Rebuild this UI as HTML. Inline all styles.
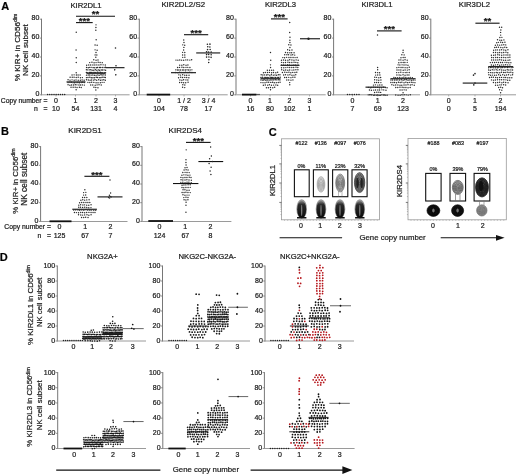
<!DOCTYPE html>
<html><head><meta charset="utf-8"><style>
html,body{margin:0;padding:0;background:#fff;}
svg{display:block;font-family:"Liberation Sans", sans-serif;filter:blur(0.3px);}
text{stroke:#222;stroke-width:0.22px;}
</style></head><body>
<svg width="520" height="474" viewBox="0 0 520 474">
<defs><linearGradient id="gblob" x1="0" y1="0" x2="0" y2="1"><stop offset="0" stop-color="#888"/><stop offset="0.22" stop-color="#2a2a2a"/><stop offset="1" stop-color="#0a0a0a"/></linearGradient></defs>
<rect width="520" height="474" fill="#fff"/>
<text x="5.2" y="9.96" font-size="11" text-anchor="middle" font-weight="bold" fill="#000">A</text>
<line x1="41.5" y1="95.3" x2="41.5" y2="18.7" stroke="#777" stroke-width="1"/>
<line x1="39.7" y1="94.8" x2="41.5" y2="94.8" stroke="#777" stroke-width="0.8"/>
<text x="39.3" y="95.92" font-size="7" text-anchor="end" font-weight="normal" fill="#1a1a1a">0</text>
<line x1="39.7" y1="75.9" x2="41.5" y2="75.9" stroke="#777" stroke-width="0.8"/>
<text x="39.3" y="77.02" font-size="7" text-anchor="end" font-weight="normal" fill="#1a1a1a">20</text>
<line x1="39.7" y1="57" x2="41.5" y2="57" stroke="#777" stroke-width="0.8"/>
<text x="39.3" y="58.12" font-size="7" text-anchor="end" font-weight="normal" fill="#1a1a1a">40</text>
<line x1="39.7" y1="38.1" x2="41.5" y2="38.1" stroke="#777" stroke-width="0.8"/>
<text x="39.3" y="39.22" font-size="7" text-anchor="end" font-weight="normal" fill="#1a1a1a">60</text>
<line x1="39.7" y1="19.2" x2="41.5" y2="19.2" stroke="#777" stroke-width="0.8"/>
<text x="39.3" y="20.32" font-size="7" text-anchor="end" font-weight="normal" fill="#1a1a1a">80</text>
<line x1="139.3" y1="95.3" x2="139.3" y2="18.7" stroke="#777" stroke-width="1"/>
<line x1="137.5" y1="94.8" x2="139.3" y2="94.8" stroke="#777" stroke-width="0.8"/>
<text x="137.1" y="95.92" font-size="7" text-anchor="end" font-weight="normal" fill="#1a1a1a">0</text>
<line x1="137.5" y1="75.9" x2="139.3" y2="75.9" stroke="#777" stroke-width="0.8"/>
<text x="137.1" y="77.02" font-size="7" text-anchor="end" font-weight="normal" fill="#1a1a1a">20</text>
<line x1="137.5" y1="57" x2="139.3" y2="57" stroke="#777" stroke-width="0.8"/>
<text x="137.1" y="58.12" font-size="7" text-anchor="end" font-weight="normal" fill="#1a1a1a">40</text>
<line x1="137.5" y1="38.1" x2="139.3" y2="38.1" stroke="#777" stroke-width="0.8"/>
<text x="137.1" y="39.22" font-size="7" text-anchor="end" font-weight="normal" fill="#1a1a1a">60</text>
<line x1="137.5" y1="19.2" x2="139.3" y2="19.2" stroke="#777" stroke-width="0.8"/>
<text x="137.1" y="20.32" font-size="7" text-anchor="end" font-weight="normal" fill="#1a1a1a">80</text>
<line x1="236" y1="95.3" x2="236" y2="18.7" stroke="#777" stroke-width="1"/>
<line x1="234.2" y1="94.8" x2="236" y2="94.8" stroke="#777" stroke-width="0.8"/>
<text x="233.8" y="95.92" font-size="7" text-anchor="end" font-weight="normal" fill="#1a1a1a">0</text>
<line x1="234.2" y1="75.9" x2="236" y2="75.9" stroke="#777" stroke-width="0.8"/>
<text x="233.8" y="77.02" font-size="7" text-anchor="end" font-weight="normal" fill="#1a1a1a">20</text>
<line x1="234.2" y1="57" x2="236" y2="57" stroke="#777" stroke-width="0.8"/>
<text x="233.8" y="58.12" font-size="7" text-anchor="end" font-weight="normal" fill="#1a1a1a">40</text>
<line x1="234.2" y1="38.1" x2="236" y2="38.1" stroke="#777" stroke-width="0.8"/>
<text x="233.8" y="39.22" font-size="7" text-anchor="end" font-weight="normal" fill="#1a1a1a">60</text>
<line x1="234.2" y1="19.2" x2="236" y2="19.2" stroke="#777" stroke-width="0.8"/>
<text x="233.8" y="20.32" font-size="7" text-anchor="end" font-weight="normal" fill="#1a1a1a">80</text>
<line x1="333.6" y1="95.3" x2="333.6" y2="18.7" stroke="#777" stroke-width="1"/>
<line x1="331.8" y1="94.8" x2="333.6" y2="94.8" stroke="#777" stroke-width="0.8"/>
<text x="331.4" y="95.92" font-size="7" text-anchor="end" font-weight="normal" fill="#1a1a1a">0</text>
<line x1="331.8" y1="75.9" x2="333.6" y2="75.9" stroke="#777" stroke-width="0.8"/>
<text x="331.4" y="77.02" font-size="7" text-anchor="end" font-weight="normal" fill="#1a1a1a">20</text>
<line x1="331.8" y1="57" x2="333.6" y2="57" stroke="#777" stroke-width="0.8"/>
<text x="331.4" y="58.12" font-size="7" text-anchor="end" font-weight="normal" fill="#1a1a1a">40</text>
<line x1="331.8" y1="38.1" x2="333.6" y2="38.1" stroke="#777" stroke-width="0.8"/>
<text x="331.4" y="39.22" font-size="7" text-anchor="end" font-weight="normal" fill="#1a1a1a">60</text>
<line x1="331.8" y1="19.2" x2="333.6" y2="19.2" stroke="#777" stroke-width="0.8"/>
<text x="331.4" y="20.32" font-size="7" text-anchor="end" font-weight="normal" fill="#1a1a1a">80</text>
<line x1="430.8" y1="95.3" x2="430.8" y2="18.7" stroke="#777" stroke-width="1"/>
<line x1="429" y1="94.8" x2="430.8" y2="94.8" stroke="#777" stroke-width="0.8"/>
<text x="428.6" y="95.92" font-size="7" text-anchor="end" font-weight="normal" fill="#1a1a1a">0</text>
<line x1="429" y1="75.9" x2="430.8" y2="75.9" stroke="#777" stroke-width="0.8"/>
<text x="428.6" y="77.02" font-size="7" text-anchor="end" font-weight="normal" fill="#1a1a1a">20</text>
<line x1="429" y1="57" x2="430.8" y2="57" stroke="#777" stroke-width="0.8"/>
<text x="428.6" y="58.12" font-size="7" text-anchor="end" font-weight="normal" fill="#1a1a1a">40</text>
<line x1="429" y1="38.1" x2="430.8" y2="38.1" stroke="#777" stroke-width="0.8"/>
<text x="428.6" y="39.22" font-size="7" text-anchor="end" font-weight="normal" fill="#1a1a1a">60</text>
<line x1="429" y1="19.2" x2="430.8" y2="19.2" stroke="#777" stroke-width="0.8"/>
<text x="428.6" y="20.32" font-size="7" text-anchor="end" font-weight="normal" fill="#1a1a1a">80</text>
<line x1="41.5" y1="94.8" x2="129.6" y2="94.8" stroke="#9a9a9a" stroke-width="1"/>
<line x1="56" y1="94.8" x2="56" y2="96.4" stroke="#9a9a9a" stroke-width="0.8"/>
<line x1="75.5" y1="94.8" x2="75.5" y2="96.4" stroke="#9a9a9a" stroke-width="0.8"/>
<line x1="96" y1="94.8" x2="96" y2="96.4" stroke="#9a9a9a" stroke-width="0.8"/>
<line x1="115.5" y1="94.8" x2="115.5" y2="96.4" stroke="#9a9a9a" stroke-width="0.8"/>
<line x1="139.6" y1="94.8" x2="227.7" y2="94.8" stroke="#9a9a9a" stroke-width="1"/>
<line x1="159" y1="94.8" x2="159" y2="96.4" stroke="#9a9a9a" stroke-width="0.8"/>
<line x1="184" y1="94.8" x2="184" y2="96.4" stroke="#9a9a9a" stroke-width="0.8"/>
<line x1="208.5" y1="94.8" x2="208.5" y2="96.4" stroke="#9a9a9a" stroke-width="0.8"/>
<line x1="236.6" y1="94.8" x2="325.7" y2="94.8" stroke="#9a9a9a" stroke-width="1"/>
<line x1="250.5" y1="94.8" x2="250.5" y2="96.4" stroke="#9a9a9a" stroke-width="0.8"/>
<line x1="270" y1="94.8" x2="270" y2="96.4" stroke="#9a9a9a" stroke-width="0.8"/>
<line x1="289.5" y1="94.8" x2="289.5" y2="96.4" stroke="#9a9a9a" stroke-width="0.8"/>
<line x1="309.5" y1="94.8" x2="309.5" y2="96.4" stroke="#9a9a9a" stroke-width="0.8"/>
<line x1="333.6" y1="94.8" x2="420" y2="94.8" stroke="#9a9a9a" stroke-width="1"/>
<line x1="352.5" y1="94.8" x2="352.5" y2="96.4" stroke="#9a9a9a" stroke-width="0.8"/>
<line x1="377.7" y1="94.8" x2="377.7" y2="96.4" stroke="#9a9a9a" stroke-width="0.8"/>
<line x1="403" y1="94.8" x2="403" y2="96.4" stroke="#9a9a9a" stroke-width="0.8"/>
<line x1="430.8" y1="94.8" x2="516" y2="94.8" stroke="#9a9a9a" stroke-width="1"/>
<line x1="448.7" y1="94.8" x2="448.7" y2="96.4" stroke="#9a9a9a" stroke-width="0.8"/>
<line x1="475" y1="94.8" x2="475" y2="96.4" stroke="#9a9a9a" stroke-width="0.8"/>
<line x1="500.5" y1="94.8" x2="500.5" y2="96.4" stroke="#9a9a9a" stroke-width="0.8"/>
<text x="86" y="7.87" font-size="7.7" text-anchor="middle" font-weight="normal" fill="#1a1a1a">KIR2DL1</text>
<text x="183.2" y="7.13" font-size="7.85" text-anchor="middle" font-weight="normal" fill="#1a1a1a">KIR2DL2/S2</text>
<text x="280.5" y="6.97" font-size="7.7" text-anchor="middle" font-weight="normal" fill="#1a1a1a">KIR2DL3</text>
<text x="377" y="6.97" font-size="7.7" text-anchor="middle" font-weight="normal" fill="#1a1a1a">KIR3DL1</text>
<text x="474.4" y="7.47" font-size="7.7" text-anchor="middle" font-weight="normal" fill="#1a1a1a">KIR3DL2</text>
<text x="17.3" y="50.42" font-size="8.1" text-anchor="middle" font-weight="normal" fill="#1a1a1a" transform="rotate(-90 17.3 47.5)">% KIR+ in  CD56<tspan font-size="5.2" dy="-2.8">dim</tspan></text>
<text x="24.6" y="53.02" font-size="8.1" text-anchor="middle" font-weight="normal" fill="#1a1a1a" transform="rotate(-90 24.6 50.1)">NK cell subset</text>
<text x="47.5" y="103.05" font-size="6.8" text-anchor="end" font-weight="normal" fill="#1a1a1a">Copy number =</text>
<text x="47.5" y="110.85" font-size="6.8" text-anchor="end" font-weight="normal" fill="#1a1a1a">n&#160;&#160;&#160;=</text>
<text x="56" y="103.12" font-size="7" text-anchor="middle" font-weight="normal" fill="#1a1a1a">0</text>
<text x="75.5" y="103.12" font-size="7" text-anchor="middle" font-weight="normal" fill="#1a1a1a">1</text>
<text x="96" y="103.12" font-size="7" text-anchor="middle" font-weight="normal" fill="#1a1a1a">2</text>
<text x="115.5" y="103.12" font-size="7" text-anchor="middle" font-weight="normal" fill="#1a1a1a">3</text>
<text x="56" y="110.92" font-size="7" text-anchor="middle" font-weight="normal" fill="#1a1a1a">10</text>
<text x="75.5" y="110.92" font-size="7" text-anchor="middle" font-weight="normal" fill="#1a1a1a">54</text>
<text x="96" y="110.92" font-size="7" text-anchor="middle" font-weight="normal" fill="#1a1a1a">131</text>
<text x="115.5" y="110.92" font-size="7" text-anchor="middle" font-weight="normal" fill="#1a1a1a">4</text>
<text x="159" y="103.12" font-size="7" text-anchor="middle" font-weight="normal" fill="#1a1a1a">0</text>
<text x="184" y="103.12" font-size="7" text-anchor="middle" font-weight="normal" fill="#1a1a1a">1 / 2</text>
<text x="208.5" y="103.12" font-size="7" text-anchor="middle" font-weight="normal" fill="#1a1a1a">3 / 4</text>
<text x="159" y="110.92" font-size="7" text-anchor="middle" font-weight="normal" fill="#1a1a1a">104</text>
<text x="184" y="110.92" font-size="7" text-anchor="middle" font-weight="normal" fill="#1a1a1a">78</text>
<text x="208.5" y="110.92" font-size="7" text-anchor="middle" font-weight="normal" fill="#1a1a1a">17</text>
<text x="250.5" y="103.12" font-size="7" text-anchor="middle" font-weight="normal" fill="#1a1a1a">0</text>
<text x="270" y="103.12" font-size="7" text-anchor="middle" font-weight="normal" fill="#1a1a1a">1</text>
<text x="289.5" y="103.12" font-size="7" text-anchor="middle" font-weight="normal" fill="#1a1a1a">2</text>
<text x="309.5" y="103.12" font-size="7" text-anchor="middle" font-weight="normal" fill="#1a1a1a">3</text>
<text x="250.5" y="110.92" font-size="7" text-anchor="middle" font-weight="normal" fill="#1a1a1a">16</text>
<text x="270" y="110.92" font-size="7" text-anchor="middle" font-weight="normal" fill="#1a1a1a">80</text>
<text x="289.5" y="110.92" font-size="7" text-anchor="middle" font-weight="normal" fill="#1a1a1a">102</text>
<text x="309.5" y="110.92" font-size="7" text-anchor="middle" font-weight="normal" fill="#1a1a1a">1</text>
<text x="352.5" y="103.12" font-size="7" text-anchor="middle" font-weight="normal" fill="#1a1a1a">0</text>
<text x="377.7" y="103.12" font-size="7" text-anchor="middle" font-weight="normal" fill="#1a1a1a">1</text>
<text x="403" y="103.12" font-size="7" text-anchor="middle" font-weight="normal" fill="#1a1a1a">2</text>
<text x="352.5" y="110.92" font-size="7" text-anchor="middle" font-weight="normal" fill="#1a1a1a">7</text>
<text x="377.7" y="110.92" font-size="7" text-anchor="middle" font-weight="normal" fill="#1a1a1a">69</text>
<text x="403" y="110.92" font-size="7" text-anchor="middle" font-weight="normal" fill="#1a1a1a">123</text>
<text x="448.7" y="103.12" font-size="7" text-anchor="middle" font-weight="normal" fill="#1a1a1a">0</text>
<text x="475" y="103.12" font-size="7" text-anchor="middle" font-weight="normal" fill="#1a1a1a">1</text>
<text x="500.5" y="103.12" font-size="7" text-anchor="middle" font-weight="normal" fill="#1a1a1a">2</text>
<text x="448.7" y="110.92" font-size="7" text-anchor="middle" font-weight="normal" fill="#1a1a1a">0</text>
<text x="475" y="110.92" font-size="7" text-anchor="middle" font-weight="normal" fill="#1a1a1a">5</text>
<text x="500.5" y="110.92" font-size="7" text-anchor="middle" font-weight="normal" fill="#1a1a1a">194</text>
<line x1="66.5" y1="81.95" x2="85.5" y2="81.95" stroke="#111" stroke-width="1.1"/>
<line x1="86.5" y1="73.25" x2="105.5" y2="73.25" stroke="#111" stroke-width="1.1"/>
<line x1="105.5" y1="67.68" x2="124.5" y2="67.68" stroke="#111" stroke-width="1.1"/>
<line x1="76" y1="16.2" x2="115" y2="16.2" stroke="#111" stroke-width="1.1"/>
<text x="95.5" y="17.4" font-size="9.6" text-anchor="middle" font-weight="bold" fill="#111">**</text>
<line x1="76" y1="22.6" x2="92.7" y2="22.6" stroke="#111" stroke-width="1.1"/>
<text x="84.35" y="23.8" font-size="9.6" text-anchor="middle" font-weight="bold" fill="#111">***</text>
<line x1="146.7" y1="94.6" x2="170.2" y2="94.6" stroke="#111" stroke-width="1.8"/>
<line x1="171" y1="72.69" x2="196" y2="72.69" stroke="#111" stroke-width="1.1"/>
<line x1="196.2" y1="52.94" x2="220.2" y2="52.94" stroke="#111" stroke-width="1.1"/>
<line x1="184" y1="34.7" x2="208.2" y2="34.7" stroke="#111" stroke-width="1.1"/>
<text x="196.1" y="35.9" font-size="9.6" text-anchor="middle" font-weight="bold" fill="#111">***</text>
<line x1="242" y1="94.6" x2="256.3" y2="94.6" stroke="#111" stroke-width="1.8"/>
<line x1="260.5" y1="78.73" x2="280.5" y2="78.73" stroke="#111" stroke-width="1.1"/>
<line x1="280.5" y1="65.32" x2="299.5" y2="65.32" stroke="#111" stroke-width="1.1"/>
<line x1="300" y1="38.76" x2="320" y2="38.76" stroke="#111" stroke-width="1.1"/>
<line x1="271" y1="18.9" x2="287.6" y2="18.9" stroke="#111" stroke-width="1.1"/>
<text x="279.3" y="20.1" font-size="9.6" text-anchor="middle" font-weight="bold" fill="#111">***</text>
<line x1="365.5" y1="87.15" x2="385.5" y2="87.15" stroke="#111" stroke-width="1.1"/>
<line x1="390.4" y1="78.73" x2="415.6" y2="78.73" stroke="#111" stroke-width="1.1"/>
<line x1="377" y1="30.9" x2="401.6" y2="30.9" stroke="#111" stroke-width="1.1"/>
<text x="389.3" y="32.1" font-size="9.6" text-anchor="middle" font-weight="bold" fill="#111">***</text>
<line x1="462.7" y1="83.08" x2="487.3" y2="83.08" stroke="#111" stroke-width="1.1"/>
<line x1="488.2" y1="66.64" x2="513.2" y2="66.64" stroke="#111" stroke-width="1.1"/>
<line x1="475.4" y1="23.2" x2="499.6" y2="23.2" stroke="#111" stroke-width="1.1"/>
<text x="487.5" y="24.4" font-size="9.6" text-anchor="middle" font-weight="bold" fill="#111">**</text>
<text x="5" y="135.36" font-size="11" text-anchor="middle" font-weight="bold" fill="#000">B</text>
<line x1="40.6" y1="221.9" x2="40.6" y2="146.1" stroke="#777" stroke-width="1"/>
<line x1="38.8" y1="221.4" x2="40.6" y2="221.4" stroke="#777" stroke-width="0.8"/>
<text x="38.4" y="222.52" font-size="7" text-anchor="end" font-weight="normal" fill="#1a1a1a">0</text>
<line x1="38.8" y1="202.7" x2="40.6" y2="202.7" stroke="#777" stroke-width="0.8"/>
<text x="38.4" y="203.82" font-size="7" text-anchor="end" font-weight="normal" fill="#1a1a1a">20</text>
<line x1="38.8" y1="184" x2="40.6" y2="184" stroke="#777" stroke-width="0.8"/>
<text x="38.4" y="185.12" font-size="7" text-anchor="end" font-weight="normal" fill="#1a1a1a">40</text>
<line x1="38.8" y1="165.3" x2="40.6" y2="165.3" stroke="#777" stroke-width="0.8"/>
<text x="38.4" y="166.42" font-size="7" text-anchor="end" font-weight="normal" fill="#1a1a1a">60</text>
<line x1="38.8" y1="146.6" x2="40.6" y2="146.6" stroke="#777" stroke-width="0.8"/>
<text x="38.4" y="147.72" font-size="7" text-anchor="end" font-weight="normal" fill="#1a1a1a">80</text>
<line x1="142" y1="221.9" x2="142" y2="146.1" stroke="#777" stroke-width="1"/>
<line x1="140.2" y1="221.4" x2="142" y2="221.4" stroke="#777" stroke-width="0.8"/>
<text x="139.8" y="222.52" font-size="7" text-anchor="end" font-weight="normal" fill="#1a1a1a">0</text>
<line x1="140.2" y1="202.7" x2="142" y2="202.7" stroke="#777" stroke-width="0.8"/>
<text x="139.8" y="203.82" font-size="7" text-anchor="end" font-weight="normal" fill="#1a1a1a">20</text>
<line x1="140.2" y1="184" x2="142" y2="184" stroke="#777" stroke-width="0.8"/>
<text x="139.8" y="185.12" font-size="7" text-anchor="end" font-weight="normal" fill="#1a1a1a">40</text>
<line x1="140.2" y1="165.3" x2="142" y2="165.3" stroke="#777" stroke-width="0.8"/>
<text x="139.8" y="166.42" font-size="7" text-anchor="end" font-weight="normal" fill="#1a1a1a">60</text>
<line x1="140.2" y1="146.6" x2="142" y2="146.6" stroke="#777" stroke-width="0.8"/>
<text x="139.8" y="147.72" font-size="7" text-anchor="end" font-weight="normal" fill="#1a1a1a">80</text>
<line x1="40.6" y1="221.5" x2="127.5" y2="221.5" stroke="#9a9a9a" stroke-width="1"/>
<line x1="142" y1="221.5" x2="231.4" y2="221.5" stroke="#9a9a9a" stroke-width="1"/>
<text x="85" y="133.48" font-size="8.0" text-anchor="middle" font-weight="normal" fill="#1a1a1a">KIR2DS1</text>
<text x="185.3" y="133.48" font-size="8.0" text-anchor="middle" font-weight="normal" fill="#1a1a1a">KIR2DS4</text>
<text x="14.8" y="183.91" font-size="7.8" text-anchor="middle" font-weight="normal" fill="#1a1a1a" transform="rotate(-90 14.8 181.1)">% KIR+ in  CD56<tspan font-size="5.1" dy="-2.7">dim</tspan></text>
<text x="23.6" y="182.19" font-size="8.3" text-anchor="middle" font-weight="normal" fill="#1a1a1a" transform="rotate(-90 23.6 179.2)">NK cell subset</text>
<text x="51" y="229.35" font-size="6.8" text-anchor="end" font-weight="normal" fill="#1a1a1a">Copy number =</text>
<text x="51" y="237.75" font-size="6.8" text-anchor="end" font-weight="normal" fill="#1a1a1a">n&#160;&#160;&#160;=</text>
<text x="59.5" y="229.42" font-size="7" text-anchor="middle" font-weight="normal" fill="#1a1a1a">0</text>
<text x="85.1" y="229.42" font-size="7" text-anchor="middle" font-weight="normal" fill="#1a1a1a">1</text>
<text x="110.4" y="229.42" font-size="7" text-anchor="middle" font-weight="normal" fill="#1a1a1a">2</text>
<text x="59.5" y="237.82" font-size="7" text-anchor="middle" font-weight="normal" fill="#1a1a1a">125</text>
<text x="85.1" y="237.82" font-size="7" text-anchor="middle" font-weight="normal" fill="#1a1a1a">67</text>
<text x="110.4" y="237.82" font-size="7" text-anchor="middle" font-weight="normal" fill="#1a1a1a">7</text>
<text x="159.5" y="229.42" font-size="7" text-anchor="middle" font-weight="normal" fill="#1a1a1a">0</text>
<text x="185.3" y="229.42" font-size="7" text-anchor="middle" font-weight="normal" fill="#1a1a1a">1</text>
<text x="210.4" y="229.42" font-size="7" text-anchor="middle" font-weight="normal" fill="#1a1a1a">2</text>
<text x="159.5" y="237.82" font-size="7" text-anchor="middle" font-weight="normal" fill="#1a1a1a">124</text>
<text x="185.3" y="237.82" font-size="7" text-anchor="middle" font-weight="normal" fill="#1a1a1a">67</text>
<text x="210.4" y="237.82" font-size="7" text-anchor="middle" font-weight="normal" fill="#1a1a1a">8</text>
<line x1="49.5" y1="221.3" x2="71.5" y2="221.3" stroke="#111" stroke-width="1.8"/>
<line x1="72.3" y1="209.25" x2="96.9" y2="209.25" stroke="#111" stroke-width="1.1"/>
<line x1="97.5" y1="196.9" x2="122.5" y2="196.9" stroke="#111" stroke-width="1.1"/>
<line x1="84.4" y1="176.3" x2="109.4" y2="176.3" stroke="#111" stroke-width="1.1"/>
<text x="96.9" y="177.5" font-size="9.6" text-anchor="middle" font-weight="bold" fill="#111">***</text>
<line x1="148.3" y1="221" x2="173" y2="221" stroke="#111" stroke-width="1.8"/>
<line x1="173" y1="183.53" x2="198.4" y2="183.53" stroke="#111" stroke-width="1.1"/>
<line x1="198.4" y1="161.56" x2="223.2" y2="161.56" stroke="#111" stroke-width="1.1"/>
<line x1="186" y1="142.4" x2="210.6" y2="142.4" stroke="#111" stroke-width="1.1"/>
<text x="198.3" y="143.6" font-size="9.6" text-anchor="middle" font-weight="bold" fill="#111">***</text>
<text x="272.8" y="135.56" font-size="11" text-anchor="middle" font-weight="bold" fill="#000">C</text>
<rect x="281.5" y="138.8" width="98" height="81" fill="none" stroke="#9a9a9a" stroke-width="0.8"/>
<line x1="279.3" y1="145.4" x2="281.5" y2="145.4" stroke="#555" stroke-width="0.8"/>
<line x1="279.3" y1="163.9" x2="281.5" y2="163.9" stroke="#555" stroke-width="0.8"/>
<line x1="279.3" y1="183" x2="281.5" y2="183" stroke="#555" stroke-width="0.8"/>
<line x1="279.3" y1="202.4" x2="281.5" y2="202.4" stroke="#555" stroke-width="0.8"/>
<line x1="280.4" y1="158.33" x2="281.5" y2="158.33" stroke="#888" stroke-width="0.5"/>
<line x1="280.4" y1="155.07" x2="281.5" y2="155.07" stroke="#888" stroke-width="0.5"/>
<line x1="280.4" y1="152.76" x2="281.5" y2="152.76" stroke="#888" stroke-width="0.5"/>
<line x1="280.4" y1="150.97" x2="281.5" y2="150.97" stroke="#888" stroke-width="0.5"/>
<line x1="280.4" y1="149.5" x2="281.5" y2="149.5" stroke="#888" stroke-width="0.5"/>
<line x1="280.4" y1="148.27" x2="281.5" y2="148.27" stroke="#888" stroke-width="0.5"/>
<line x1="280.4" y1="147.19" x2="281.5" y2="147.19" stroke="#888" stroke-width="0.5"/>
<line x1="280.4" y1="146.25" x2="281.5" y2="146.25" stroke="#888" stroke-width="0.5"/>
<line x1="280.4" y1="177.25" x2="281.5" y2="177.25" stroke="#888" stroke-width="0.5"/>
<line x1="280.4" y1="173.89" x2="281.5" y2="173.89" stroke="#888" stroke-width="0.5"/>
<line x1="280.4" y1="171.5" x2="281.5" y2="171.5" stroke="#888" stroke-width="0.5"/>
<line x1="280.4" y1="169.65" x2="281.5" y2="169.65" stroke="#888" stroke-width="0.5"/>
<line x1="280.4" y1="168.14" x2="281.5" y2="168.14" stroke="#888" stroke-width="0.5"/>
<line x1="280.4" y1="166.86" x2="281.5" y2="166.86" stroke="#888" stroke-width="0.5"/>
<line x1="280.4" y1="165.75" x2="281.5" y2="165.75" stroke="#888" stroke-width="0.5"/>
<line x1="280.4" y1="164.77" x2="281.5" y2="164.77" stroke="#888" stroke-width="0.5"/>
<line x1="280.4" y1="196.56" x2="281.5" y2="196.56" stroke="#888" stroke-width="0.5"/>
<line x1="280.4" y1="193.14" x2="281.5" y2="193.14" stroke="#888" stroke-width="0.5"/>
<line x1="280.4" y1="190.72" x2="281.5" y2="190.72" stroke="#888" stroke-width="0.5"/>
<line x1="280.4" y1="188.84" x2="281.5" y2="188.84" stroke="#888" stroke-width="0.5"/>
<line x1="280.4" y1="187.3" x2="281.5" y2="187.3" stroke="#888" stroke-width="0.5"/>
<line x1="280.4" y1="186.01" x2="281.5" y2="186.01" stroke="#888" stroke-width="0.5"/>
<line x1="280.4" y1="184.88" x2="281.5" y2="184.88" stroke="#888" stroke-width="0.5"/>
<line x1="280.4" y1="183.89" x2="281.5" y2="183.89" stroke="#888" stroke-width="0.5"/>
<line x1="280.4" y1="214.56" x2="281.5" y2="214.56" stroke="#888" stroke-width="0.5"/>
<line x1="280.4" y1="211.5" x2="281.5" y2="211.5" stroke="#888" stroke-width="0.5"/>
<line x1="280.4" y1="209.32" x2="281.5" y2="209.32" stroke="#888" stroke-width="0.5"/>
<line x1="280.4" y1="207.64" x2="281.5" y2="207.64" stroke="#888" stroke-width="0.5"/>
<line x1="280.4" y1="206.26" x2="281.5" y2="206.26" stroke="#888" stroke-width="0.5"/>
<line x1="280.4" y1="205.1" x2="281.5" y2="205.1" stroke="#888" stroke-width="0.5"/>
<line x1="280.4" y1="204.09" x2="281.5" y2="204.09" stroke="#888" stroke-width="0.5"/>
<line x1="280.4" y1="203.2" x2="281.5" y2="203.2" stroke="#888" stroke-width="0.5"/>
<line x1="284.5" y1="219.8" x2="284.5" y2="220.8" stroke="#888" stroke-width="0.5"/>
<line x1="287.7" y1="219.8" x2="287.7" y2="220.8" stroke="#888" stroke-width="0.5"/>
<line x1="290.9" y1="219.8" x2="290.9" y2="220.8" stroke="#888" stroke-width="0.5"/>
<line x1="294.1" y1="219.8" x2="294.1" y2="220.8" stroke="#888" stroke-width="0.5"/>
<line x1="297.3" y1="219.8" x2="297.3" y2="220.8" stroke="#888" stroke-width="0.5"/>
<line x1="300.5" y1="219.8" x2="300.5" y2="220.8" stroke="#888" stroke-width="0.5"/>
<line x1="303.7" y1="219.8" x2="303.7" y2="220.8" stroke="#888" stroke-width="0.5"/>
<line x1="306.9" y1="219.8" x2="306.9" y2="220.8" stroke="#888" stroke-width="0.5"/>
<line x1="310.1" y1="219.8" x2="310.1" y2="220.8" stroke="#888" stroke-width="0.5"/>
<line x1="313.3" y1="219.8" x2="313.3" y2="220.8" stroke="#888" stroke-width="0.5"/>
<line x1="316.5" y1="219.8" x2="316.5" y2="220.8" stroke="#888" stroke-width="0.5"/>
<line x1="319.7" y1="219.8" x2="319.7" y2="220.8" stroke="#888" stroke-width="0.5"/>
<line x1="322.9" y1="219.8" x2="322.9" y2="220.8" stroke="#888" stroke-width="0.5"/>
<line x1="326.1" y1="219.8" x2="326.1" y2="220.8" stroke="#888" stroke-width="0.5"/>
<line x1="329.3" y1="219.8" x2="329.3" y2="220.8" stroke="#888" stroke-width="0.5"/>
<line x1="332.5" y1="219.8" x2="332.5" y2="220.8" stroke="#888" stroke-width="0.5"/>
<line x1="335.7" y1="219.8" x2="335.7" y2="220.8" stroke="#888" stroke-width="0.5"/>
<line x1="338.9" y1="219.8" x2="338.9" y2="220.8" stroke="#888" stroke-width="0.5"/>
<line x1="342.1" y1="219.8" x2="342.1" y2="220.8" stroke="#888" stroke-width="0.5"/>
<line x1="345.3" y1="219.8" x2="345.3" y2="220.8" stroke="#888" stroke-width="0.5"/>
<line x1="348.5" y1="219.8" x2="348.5" y2="220.8" stroke="#888" stroke-width="0.5"/>
<line x1="351.7" y1="219.8" x2="351.7" y2="220.8" stroke="#888" stroke-width="0.5"/>
<line x1="354.9" y1="219.8" x2="354.9" y2="220.8" stroke="#888" stroke-width="0.5"/>
<line x1="358.1" y1="219.8" x2="358.1" y2="220.8" stroke="#888" stroke-width="0.5"/>
<line x1="361.3" y1="219.8" x2="361.3" y2="220.8" stroke="#888" stroke-width="0.5"/>
<line x1="364.5" y1="219.8" x2="364.5" y2="220.8" stroke="#888" stroke-width="0.5"/>
<line x1="367.7" y1="219.8" x2="367.7" y2="220.8" stroke="#888" stroke-width="0.5"/>
<line x1="370.9" y1="219.8" x2="370.9" y2="220.8" stroke="#888" stroke-width="0.5"/>
<line x1="374.1" y1="219.8" x2="374.1" y2="220.8" stroke="#888" stroke-width="0.5"/>
<line x1="377.3" y1="219.8" x2="377.3" y2="220.8" stroke="#888" stroke-width="0.5"/>
<rect x="294.4" y="169.8" width="14.8" height="26.9" fill="none" stroke="#111" stroke-width="1.1"/>
<rect x="313.4" y="169.8" width="14.9" height="26.9" fill="none" stroke="#111" stroke-width="1.1"/>
<rect x="332.6" y="169.8" width="15.2" height="26.9" fill="none" stroke="#111" stroke-width="1.1"/>
<rect x="352" y="169.8" width="15.1" height="26.9" fill="none" stroke="#111" stroke-width="1.1"/>
<text x="301.5" y="145.34" font-size="5.4" text-anchor="middle" font-weight="normal" fill="#1a1a1a">#122</text>
<text x="301.5" y="167.54" font-size="5.4" text-anchor="middle" font-weight="normal" fill="#1a1a1a">0%</text>
<text x="320.8" y="145.34" font-size="5.4" text-anchor="middle" font-weight="normal" fill="#1a1a1a">#136</text>
<text x="320.8" y="167.54" font-size="5.4" text-anchor="middle" font-weight="normal" fill="#1a1a1a">11%</text>
<text x="340.2" y="145.34" font-size="5.4" text-anchor="middle" font-weight="normal" fill="#1a1a1a">#097</text>
<text x="340.2" y="167.54" font-size="5.4" text-anchor="middle" font-weight="normal" fill="#1a1a1a">23%</text>
<text x="359.7" y="145.34" font-size="5.4" text-anchor="middle" font-weight="normal" fill="#1a1a1a">#076</text>
<text x="359.7" y="167.54" font-size="5.4" text-anchor="middle" font-weight="normal" fill="#1a1a1a">32%</text>
<ellipse cx="301.7" cy="208.9" rx="5.3" ry="9.7" fill="#9a9a9a"/>
<ellipse cx="301.7" cy="209.5" rx="4.5" ry="8.7" fill="url(#gblob)"/>
<ellipse cx="301.7" cy="210.4" rx="0.6" ry="5.7" fill="#8a8a8a"/>
<rect x="297" y="217" width="9.4" height="1.5" fill="#111"/>
<ellipse cx="321" cy="208.9" rx="5.3" ry="9.7" fill="#9a9a9a"/>
<ellipse cx="321" cy="209.5" rx="4.5" ry="8.7" fill="url(#gblob)"/>
<ellipse cx="321" cy="210.4" rx="0.6" ry="5.7" fill="#8a8a8a"/>
<rect x="316.3" y="217" width="9.4" height="1.5" fill="#111"/>
<ellipse cx="340" cy="208.9" rx="5.3" ry="9.7" fill="#9a9a9a"/>
<ellipse cx="340" cy="209.5" rx="4.5" ry="8.7" fill="url(#gblob)"/>
<ellipse cx="340" cy="210.4" rx="0.6" ry="5.7" fill="#8a8a8a"/>
<rect x="335.3" y="217" width="9.4" height="1.5" fill="#111"/>
<ellipse cx="359.8" cy="208.9" rx="5.3" ry="9.7" fill="#9a9a9a"/>
<ellipse cx="359.8" cy="209.5" rx="4.5" ry="8.7" fill="url(#gblob)"/>
<ellipse cx="359.8" cy="210.4" rx="0.6" ry="5.7" fill="#8a8a8a"/>
<rect x="355.1" y="217" width="9.4" height="1.5" fill="#111"/>
<ellipse cx="321" cy="184.4" rx="3.9" ry="7.8" fill="#e2e2e2"/>
<ellipse cx="321" cy="184.4" rx="3.9" ry="7.8" fill="none" stroke="#888" stroke-width="0.5"/>
<ellipse cx="321" cy="184.52" rx="3.28" ry="6.55" fill="none" stroke="#888" stroke-width="0.5"/>
<ellipse cx="321" cy="184.65" rx="2.65" ry="5.3" fill="none" stroke="#888" stroke-width="0.5"/>
<ellipse cx="321" cy="184.77" rx="2.03" ry="4.06" fill="none" stroke="#888" stroke-width="0.5"/>
<ellipse cx="321" cy="184.9" rx="1.4" ry="2.81" fill="none" stroke="#888" stroke-width="0.5"/>
<ellipse cx="321" cy="185.02" rx="0.78" ry="1.56" fill="none" stroke="#888" stroke-width="0.5"/>
<ellipse cx="340.2" cy="183" rx="4.5" ry="9" fill="#c8c8c8"/>
<ellipse cx="340.2" cy="183" rx="4.5" ry="9" fill="none" stroke="#555" stroke-width="0.55"/>
<ellipse cx="340.2" cy="183.13" rx="3.86" ry="7.73" fill="none" stroke="#555" stroke-width="0.55"/>
<ellipse cx="340.2" cy="183.25" rx="3.23" ry="6.45" fill="none" stroke="#555" stroke-width="0.55"/>
<ellipse cx="340.2" cy="183.38" rx="2.59" ry="5.17" fill="none" stroke="#555" stroke-width="0.55"/>
<ellipse cx="340.2" cy="183.51" rx="1.95" ry="3.9" fill="none" stroke="#555" stroke-width="0.55"/>
<ellipse cx="340.2" cy="183.64" rx="1.31" ry="2.62" fill="none" stroke="#555" stroke-width="0.55"/>
<ellipse cx="340.2" cy="183.76" rx="0.68" ry="1.35" fill="none" stroke="#555" stroke-width="0.55"/>
<path d="M338.5 191 L338.5 196.5 M342 191 L342 196.5" stroke="#777" stroke-width="0.5"/>
<ellipse cx="359.6" cy="182.6" rx="5.2" ry="10" fill="#9a9a9a"/>
<ellipse cx="359.6" cy="182.6" rx="5.2" ry="10" fill="none" stroke="#222" stroke-width="0.6"/>
<ellipse cx="359.6" cy="182.73" rx="4.55" ry="8.74" fill="none" stroke="#222" stroke-width="0.6"/>
<ellipse cx="359.6" cy="182.85" rx="3.89" ry="7.49" fill="none" stroke="#222" stroke-width="0.6"/>
<ellipse cx="359.6" cy="182.98" rx="3.24" ry="6.23" fill="none" stroke="#222" stroke-width="0.6"/>
<ellipse cx="359.6" cy="183.1" rx="2.59" ry="4.97" fill="none" stroke="#222" stroke-width="0.6"/>
<ellipse cx="359.6" cy="183.23" rx="1.93" ry="3.71" fill="none" stroke="#222" stroke-width="0.6"/>
<ellipse cx="359.6" cy="183.35" rx="1.28" ry="2.46" fill="none" stroke="#222" stroke-width="0.6"/>
<ellipse cx="359.6" cy="183.48" rx="0.62" ry="1.2" fill="none" stroke="#222" stroke-width="0.6"/>
<ellipse cx="357.6" cy="183" rx="1.1" ry="5" fill="#222"/><ellipse cx="361.6" cy="183" rx="1.1" ry="5" fill="#222"/>
<text x="272" y="183.27" font-size="7.7" text-anchor="middle" font-weight="normal" fill="#1a1a1a" transform="rotate(-90 272 180.5)">KIR2DL1</text>
<text x="301" y="228.32" font-size="7" text-anchor="middle" font-weight="normal" fill="#1a1a1a">0</text>
<text x="320.3" y="228.32" font-size="7" text-anchor="middle" font-weight="normal" fill="#1a1a1a">1</text>
<text x="339.8" y="228.32" font-size="7" text-anchor="middle" font-weight="normal" fill="#1a1a1a">2</text>
<text x="360" y="228.32" font-size="7" text-anchor="middle" font-weight="normal" fill="#1a1a1a">3</text>
<rect x="408" y="138.4" width="98.3" height="81.4" fill="none" stroke="#9a9a9a" stroke-width="0.8"/>
<line x1="405.8" y1="145.4" x2="408" y2="145.4" stroke="#555" stroke-width="0.8"/>
<line x1="405.8" y1="163.9" x2="408" y2="163.9" stroke="#555" stroke-width="0.8"/>
<line x1="405.8" y1="183" x2="408" y2="183" stroke="#555" stroke-width="0.8"/>
<line x1="405.8" y1="202.4" x2="408" y2="202.4" stroke="#555" stroke-width="0.8"/>
<line x1="406.9" y1="158.33" x2="408" y2="158.33" stroke="#888" stroke-width="0.5"/>
<line x1="406.9" y1="155.07" x2="408" y2="155.07" stroke="#888" stroke-width="0.5"/>
<line x1="406.9" y1="152.76" x2="408" y2="152.76" stroke="#888" stroke-width="0.5"/>
<line x1="406.9" y1="150.97" x2="408" y2="150.97" stroke="#888" stroke-width="0.5"/>
<line x1="406.9" y1="149.5" x2="408" y2="149.5" stroke="#888" stroke-width="0.5"/>
<line x1="406.9" y1="148.27" x2="408" y2="148.27" stroke="#888" stroke-width="0.5"/>
<line x1="406.9" y1="147.19" x2="408" y2="147.19" stroke="#888" stroke-width="0.5"/>
<line x1="406.9" y1="146.25" x2="408" y2="146.25" stroke="#888" stroke-width="0.5"/>
<line x1="406.9" y1="177.25" x2="408" y2="177.25" stroke="#888" stroke-width="0.5"/>
<line x1="406.9" y1="173.89" x2="408" y2="173.89" stroke="#888" stroke-width="0.5"/>
<line x1="406.9" y1="171.5" x2="408" y2="171.5" stroke="#888" stroke-width="0.5"/>
<line x1="406.9" y1="169.65" x2="408" y2="169.65" stroke="#888" stroke-width="0.5"/>
<line x1="406.9" y1="168.14" x2="408" y2="168.14" stroke="#888" stroke-width="0.5"/>
<line x1="406.9" y1="166.86" x2="408" y2="166.86" stroke="#888" stroke-width="0.5"/>
<line x1="406.9" y1="165.75" x2="408" y2="165.75" stroke="#888" stroke-width="0.5"/>
<line x1="406.9" y1="164.77" x2="408" y2="164.77" stroke="#888" stroke-width="0.5"/>
<line x1="406.9" y1="196.56" x2="408" y2="196.56" stroke="#888" stroke-width="0.5"/>
<line x1="406.9" y1="193.14" x2="408" y2="193.14" stroke="#888" stroke-width="0.5"/>
<line x1="406.9" y1="190.72" x2="408" y2="190.72" stroke="#888" stroke-width="0.5"/>
<line x1="406.9" y1="188.84" x2="408" y2="188.84" stroke="#888" stroke-width="0.5"/>
<line x1="406.9" y1="187.3" x2="408" y2="187.3" stroke="#888" stroke-width="0.5"/>
<line x1="406.9" y1="186.01" x2="408" y2="186.01" stroke="#888" stroke-width="0.5"/>
<line x1="406.9" y1="184.88" x2="408" y2="184.88" stroke="#888" stroke-width="0.5"/>
<line x1="406.9" y1="183.89" x2="408" y2="183.89" stroke="#888" stroke-width="0.5"/>
<line x1="406.9" y1="214.56" x2="408" y2="214.56" stroke="#888" stroke-width="0.5"/>
<line x1="406.9" y1="211.5" x2="408" y2="211.5" stroke="#888" stroke-width="0.5"/>
<line x1="406.9" y1="209.32" x2="408" y2="209.32" stroke="#888" stroke-width="0.5"/>
<line x1="406.9" y1="207.64" x2="408" y2="207.64" stroke="#888" stroke-width="0.5"/>
<line x1="406.9" y1="206.26" x2="408" y2="206.26" stroke="#888" stroke-width="0.5"/>
<line x1="406.9" y1="205.1" x2="408" y2="205.1" stroke="#888" stroke-width="0.5"/>
<line x1="406.9" y1="204.09" x2="408" y2="204.09" stroke="#888" stroke-width="0.5"/>
<line x1="406.9" y1="203.2" x2="408" y2="203.2" stroke="#888" stroke-width="0.5"/>
<line x1="411" y1="219.8" x2="411" y2="220.8" stroke="#888" stroke-width="0.5"/>
<line x1="414.2" y1="219.8" x2="414.2" y2="220.8" stroke="#888" stroke-width="0.5"/>
<line x1="417.4" y1="219.8" x2="417.4" y2="220.8" stroke="#888" stroke-width="0.5"/>
<line x1="420.6" y1="219.8" x2="420.6" y2="220.8" stroke="#888" stroke-width="0.5"/>
<line x1="423.8" y1="219.8" x2="423.8" y2="220.8" stroke="#888" stroke-width="0.5"/>
<line x1="427" y1="219.8" x2="427" y2="220.8" stroke="#888" stroke-width="0.5"/>
<line x1="430.2" y1="219.8" x2="430.2" y2="220.8" stroke="#888" stroke-width="0.5"/>
<line x1="433.4" y1="219.8" x2="433.4" y2="220.8" stroke="#888" stroke-width="0.5"/>
<line x1="436.6" y1="219.8" x2="436.6" y2="220.8" stroke="#888" stroke-width="0.5"/>
<line x1="439.8" y1="219.8" x2="439.8" y2="220.8" stroke="#888" stroke-width="0.5"/>
<line x1="443" y1="219.8" x2="443" y2="220.8" stroke="#888" stroke-width="0.5"/>
<line x1="446.2" y1="219.8" x2="446.2" y2="220.8" stroke="#888" stroke-width="0.5"/>
<line x1="449.4" y1="219.8" x2="449.4" y2="220.8" stroke="#888" stroke-width="0.5"/>
<line x1="452.6" y1="219.8" x2="452.6" y2="220.8" stroke="#888" stroke-width="0.5"/>
<line x1="455.8" y1="219.8" x2="455.8" y2="220.8" stroke="#888" stroke-width="0.5"/>
<line x1="459" y1="219.8" x2="459" y2="220.8" stroke="#888" stroke-width="0.5"/>
<line x1="462.2" y1="219.8" x2="462.2" y2="220.8" stroke="#888" stroke-width="0.5"/>
<line x1="465.4" y1="219.8" x2="465.4" y2="220.8" stroke="#888" stroke-width="0.5"/>
<line x1="468.6" y1="219.8" x2="468.6" y2="220.8" stroke="#888" stroke-width="0.5"/>
<line x1="471.8" y1="219.8" x2="471.8" y2="220.8" stroke="#888" stroke-width="0.5"/>
<line x1="475" y1="219.8" x2="475" y2="220.8" stroke="#888" stroke-width="0.5"/>
<line x1="478.2" y1="219.8" x2="478.2" y2="220.8" stroke="#888" stroke-width="0.5"/>
<line x1="481.4" y1="219.8" x2="481.4" y2="220.8" stroke="#888" stroke-width="0.5"/>
<line x1="484.6" y1="219.8" x2="484.6" y2="220.8" stroke="#888" stroke-width="0.5"/>
<line x1="487.8" y1="219.8" x2="487.8" y2="220.8" stroke="#888" stroke-width="0.5"/>
<line x1="491" y1="219.8" x2="491" y2="220.8" stroke="#888" stroke-width="0.5"/>
<line x1="494.2" y1="219.8" x2="494.2" y2="220.8" stroke="#888" stroke-width="0.5"/>
<line x1="497.4" y1="219.8" x2="497.4" y2="220.8" stroke="#888" stroke-width="0.5"/>
<line x1="500.6" y1="219.8" x2="500.6" y2="220.8" stroke="#888" stroke-width="0.5"/>
<line x1="503.8" y1="219.8" x2="503.8" y2="220.8" stroke="#888" stroke-width="0.5"/>
<rect x="425.7" y="173.4" width="15.4" height="27.6" fill="none" stroke="#111" stroke-width="1.1"/>
<rect x="450" y="173.4" width="15.6" height="27.6" fill="none" stroke="#111" stroke-width="1.1"/>
<rect x="474.1" y="173.4" width="15.7" height="27.6" fill="none" stroke="#111" stroke-width="1.1"/>
<text x="433.4" y="145.44" font-size="5.4" text-anchor="middle" font-weight="normal" fill="#1a1a1a">#188</text>
<text x="433.4" y="171.04" font-size="5.4" text-anchor="middle" font-weight="normal" fill="#1a1a1a">0%</text>
<text x="458" y="145.44" font-size="5.4" text-anchor="middle" font-weight="normal" fill="#1a1a1a">#083</text>
<text x="458" y="171.04" font-size="5.4" text-anchor="middle" font-weight="normal" fill="#1a1a1a">39%</text>
<text x="482.4" y="145.44" font-size="5.4" text-anchor="middle" font-weight="normal" fill="#1a1a1a">#197</text>
<text x="482.4" y="171.04" font-size="5.4" text-anchor="middle" font-weight="normal" fill="#1a1a1a">79%</text>
<ellipse cx="433.4" cy="210.6" rx="6.4" ry="5.8" fill="#1a1a1a"/>
<ellipse cx="433.4" cy="210.6" rx="6.4" ry="5.8" fill="none" stroke="#000" stroke-width="0.7"/>
<ellipse cx="433.4" cy="210.7" rx="5.31" ry="4.81" fill="none" stroke="#000" stroke-width="0.7"/>
<ellipse cx="433.4" cy="210.8" rx="4.22" ry="3.83" fill="none" stroke="#000" stroke-width="0.7"/>
<ellipse cx="433.4" cy="210.9" rx="3.14" ry="2.84" fill="none" stroke="#000" stroke-width="0.7"/>
<ellipse cx="433.4" cy="210.99" rx="2.05" ry="1.86" fill="none" stroke="#000" stroke-width="0.7"/>
<ellipse cx="433.4" cy="211.09" rx="0.96" ry="0.87" fill="none" stroke="#000" stroke-width="0.7"/>
<ellipse cx="433.4" cy="210.6" rx="1.2" ry="2" fill="#777"/>
<ellipse cx="457.6" cy="210.6" rx="6" ry="5.8" fill="#222"/>
<ellipse cx="457.6" cy="210.6" rx="6" ry="5.8" fill="none" stroke="#000" stroke-width="0.7"/>
<ellipse cx="457.6" cy="210.7" rx="4.98" ry="4.81" fill="none" stroke="#000" stroke-width="0.7"/>
<ellipse cx="457.6" cy="210.8" rx="3.96" ry="3.83" fill="none" stroke="#000" stroke-width="0.7"/>
<ellipse cx="457.6" cy="210.9" rx="2.94" ry="2.84" fill="none" stroke="#000" stroke-width="0.7"/>
<ellipse cx="457.6" cy="210.99" rx="1.92" ry="1.86" fill="none" stroke="#000" stroke-width="0.7"/>
<ellipse cx="457.6" cy="211.09" rx="0.9" ry="0.87" fill="none" stroke="#000" stroke-width="0.7"/>
<ellipse cx="457.6" cy="210.6" rx="1.2" ry="2" fill="#777"/>
<ellipse cx="481.8" cy="210.4" rx="5.2" ry="5.6" fill="#aaa"/>
<ellipse cx="481.8" cy="210.4" rx="5.2" ry="5.6" fill="none" stroke="#555" stroke-width="0.6"/>
<ellipse cx="481.8" cy="210.5" rx="4.32" ry="4.65" fill="none" stroke="#555" stroke-width="0.6"/>
<ellipse cx="481.8" cy="210.59" rx="3.43" ry="3.7" fill="none" stroke="#555" stroke-width="0.6"/>
<ellipse cx="481.8" cy="210.69" rx="2.55" ry="2.74" fill="none" stroke="#555" stroke-width="0.6"/>
<ellipse cx="481.8" cy="210.78" rx="1.66" ry="1.79" fill="none" stroke="#555" stroke-width="0.6"/>
<ellipse cx="481.8" cy="210.88" rx="0.78" ry="0.84" fill="none" stroke="#555" stroke-width="0.6"/>
<path d="M479.5 205 L479.5 200 M484 205 L484 200" stroke="#777" stroke-width="0.6"/>
<ellipse cx="457.8" cy="187.4" rx="5.4" ry="7" fill="#bbb"/>
<ellipse cx="457.8" cy="187.4" rx="5.4" ry="7" fill="none" stroke="#333" stroke-width="0.6"/>
<ellipse cx="457.8" cy="187.52" rx="4.48" ry="5.81" fill="none" stroke="#333" stroke-width="0.6"/>
<ellipse cx="457.8" cy="187.64" rx="3.56" ry="4.62" fill="none" stroke="#333" stroke-width="0.6"/>
<ellipse cx="457.8" cy="187.76" rx="2.65" ry="3.43" fill="none" stroke="#333" stroke-width="0.6"/>
<ellipse cx="457.8" cy="187.88" rx="1.73" ry="2.24" fill="none" stroke="#333" stroke-width="0.6"/>
<ellipse cx="457.8" cy="188" rx="0.81" ry="1.05" fill="none" stroke="#333" stroke-width="0.6"/>
<path d="M455.5 194 L455.5 200.5 M460 194 L460 200.5" stroke="#555" stroke-width="0.6"/>
<ellipse cx="482" cy="187.4" rx="6.5" ry="9.6" fill="#444"/>
<ellipse cx="482" cy="187.4" rx="6.5" ry="9.6" fill="none" stroke="#111" stroke-width="0.7"/>
<ellipse cx="482" cy="187.52" rx="5.68" ry="8.39" fill="none" stroke="#111" stroke-width="0.7"/>
<ellipse cx="482" cy="187.64" rx="4.87" ry="7.19" fill="none" stroke="#111" stroke-width="0.7"/>
<ellipse cx="482" cy="187.76" rx="4.05" ry="5.98" fill="none" stroke="#111" stroke-width="0.7"/>
<ellipse cx="482" cy="187.88" rx="3.23" ry="4.77" fill="none" stroke="#111" stroke-width="0.7"/>
<ellipse cx="482" cy="188" rx="2.41" ry="3.57" fill="none" stroke="#111" stroke-width="0.7"/>
<ellipse cx="482" cy="188.12" rx="1.6" ry="2.36" fill="none" stroke="#111" stroke-width="0.7"/>
<ellipse cx="482" cy="188.24" rx="0.78" ry="1.15" fill="none" stroke="#111" stroke-width="0.7"/>
<ellipse cx="481" cy="186" rx="2.2" ry="5" fill="#111"/>
<text x="399.2" y="183.77" font-size="7.7" text-anchor="middle" font-weight="normal" fill="#1a1a1a" transform="rotate(-90 399.2 181)">KIR2DS4</text>
<text x="433" y="228.32" font-size="7" text-anchor="middle" font-weight="normal" fill="#1a1a1a">0</text>
<text x="458" y="228.32" font-size="7" text-anchor="middle" font-weight="normal" fill="#1a1a1a">1</text>
<text x="482.7" y="228.32" font-size="7" text-anchor="middle" font-weight="normal" fill="#1a1a1a">2</text>
<line x1="279.6" y1="237.8" x2="342.1" y2="237.8" stroke="#111" stroke-width="1.1"/>
<text x="359.4" y="240.11" font-size="7.8" text-anchor="start" font-weight="normal" fill="#1a1a1a">Gene copy number</text>
<line x1="440.7" y1="237.8" x2="498" y2="237.8" stroke="#111" stroke-width="1.1"/>
<polygon points="496,234.9 504.6,237.8 496,240.7" fill="#111"/>
<text x="3.8" y="260.86" font-size="11" text-anchor="middle" font-weight="bold" fill="#000">D</text>
<line x1="57.3" y1="341.5" x2="57.3" y2="265.5" stroke="#777" stroke-width="1"/>
<line x1="55.5" y1="341" x2="57.3" y2="341" stroke="#777" stroke-width="0.8"/>
<text x="55.1" y="342.92" font-size="7" text-anchor="end" font-weight="normal" fill="#1a1a1a">0</text>
<line x1="55.5" y1="326" x2="57.3" y2="326" stroke="#777" stroke-width="0.8"/>
<text x="55.1" y="327.92" font-size="7" text-anchor="end" font-weight="normal" fill="#1a1a1a">20</text>
<line x1="55.5" y1="311" x2="57.3" y2="311" stroke="#777" stroke-width="0.8"/>
<text x="55.1" y="312.92" font-size="7" text-anchor="end" font-weight="normal" fill="#1a1a1a">40</text>
<line x1="55.5" y1="296" x2="57.3" y2="296" stroke="#777" stroke-width="0.8"/>
<text x="55.1" y="297.92" font-size="7" text-anchor="end" font-weight="normal" fill="#1a1a1a">60</text>
<line x1="55.5" y1="281" x2="57.3" y2="281" stroke="#777" stroke-width="0.8"/>
<text x="55.1" y="282.92" font-size="7" text-anchor="end" font-weight="normal" fill="#1a1a1a">80</text>
<line x1="55.5" y1="266" x2="57.3" y2="266" stroke="#777" stroke-width="0.8"/>
<text x="55.1" y="267.92" font-size="7" text-anchor="end" font-weight="normal" fill="#1a1a1a">100</text>
<line x1="162.5" y1="341.5" x2="162.5" y2="265.5" stroke="#777" stroke-width="1"/>
<line x1="160.7" y1="341" x2="162.5" y2="341" stroke="#777" stroke-width="0.8"/>
<text x="160.3" y="342.92" font-size="7" text-anchor="end" font-weight="normal" fill="#1a1a1a">0</text>
<line x1="160.7" y1="326" x2="162.5" y2="326" stroke="#777" stroke-width="0.8"/>
<text x="160.3" y="327.92" font-size="7" text-anchor="end" font-weight="normal" fill="#1a1a1a">20</text>
<line x1="160.7" y1="311" x2="162.5" y2="311" stroke="#777" stroke-width="0.8"/>
<text x="160.3" y="312.92" font-size="7" text-anchor="end" font-weight="normal" fill="#1a1a1a">40</text>
<line x1="160.7" y1="296" x2="162.5" y2="296" stroke="#777" stroke-width="0.8"/>
<text x="160.3" y="297.92" font-size="7" text-anchor="end" font-weight="normal" fill="#1a1a1a">60</text>
<line x1="160.7" y1="281" x2="162.5" y2="281" stroke="#777" stroke-width="0.8"/>
<text x="160.3" y="282.92" font-size="7" text-anchor="end" font-weight="normal" fill="#1a1a1a">80</text>
<line x1="160.7" y1="266" x2="162.5" y2="266" stroke="#777" stroke-width="0.8"/>
<text x="160.3" y="267.92" font-size="7" text-anchor="end" font-weight="normal" fill="#1a1a1a">100</text>
<line x1="265" y1="341.5" x2="265" y2="265.5" stroke="#777" stroke-width="1"/>
<line x1="263.2" y1="341" x2="265" y2="341" stroke="#777" stroke-width="0.8"/>
<text x="262.8" y="342.92" font-size="7" text-anchor="end" font-weight="normal" fill="#1a1a1a">0</text>
<line x1="263.2" y1="326" x2="265" y2="326" stroke="#777" stroke-width="0.8"/>
<text x="262.8" y="327.92" font-size="7" text-anchor="end" font-weight="normal" fill="#1a1a1a">20</text>
<line x1="263.2" y1="311" x2="265" y2="311" stroke="#777" stroke-width="0.8"/>
<text x="262.8" y="312.92" font-size="7" text-anchor="end" font-weight="normal" fill="#1a1a1a">40</text>
<line x1="263.2" y1="296" x2="265" y2="296" stroke="#777" stroke-width="0.8"/>
<text x="262.8" y="297.92" font-size="7" text-anchor="end" font-weight="normal" fill="#1a1a1a">60</text>
<line x1="263.2" y1="281" x2="265" y2="281" stroke="#777" stroke-width="0.8"/>
<text x="262.8" y="282.92" font-size="7" text-anchor="end" font-weight="normal" fill="#1a1a1a">80</text>
<line x1="263.2" y1="266" x2="265" y2="266" stroke="#777" stroke-width="0.8"/>
<text x="262.8" y="267.92" font-size="7" text-anchor="end" font-weight="normal" fill="#1a1a1a">100</text>
<line x1="57.7" y1="449" x2="57.7" y2="372.1" stroke="#777" stroke-width="1"/>
<line x1="55.9" y1="448.5" x2="57.7" y2="448.5" stroke="#777" stroke-width="0.8"/>
<text x="55.5" y="450.42" font-size="7" text-anchor="end" font-weight="normal" fill="#1a1a1a">0</text>
<line x1="55.9" y1="433.32" x2="57.7" y2="433.32" stroke="#777" stroke-width="0.8"/>
<text x="55.5" y="435.24" font-size="7" text-anchor="end" font-weight="normal" fill="#1a1a1a">20</text>
<line x1="55.9" y1="418.14" x2="57.7" y2="418.14" stroke="#777" stroke-width="0.8"/>
<text x="55.5" y="420.06" font-size="7" text-anchor="end" font-weight="normal" fill="#1a1a1a">40</text>
<line x1="55.9" y1="402.96" x2="57.7" y2="402.96" stroke="#777" stroke-width="0.8"/>
<text x="55.5" y="404.88" font-size="7" text-anchor="end" font-weight="normal" fill="#1a1a1a">60</text>
<line x1="55.9" y1="387.78" x2="57.7" y2="387.78" stroke="#777" stroke-width="0.8"/>
<text x="55.5" y="389.7" font-size="7" text-anchor="end" font-weight="normal" fill="#1a1a1a">80</text>
<line x1="55.9" y1="372.6" x2="57.7" y2="372.6" stroke="#777" stroke-width="0.8"/>
<text x="55.5" y="374.52" font-size="7" text-anchor="end" font-weight="normal" fill="#1a1a1a">100</text>
<line x1="162.8" y1="449" x2="162.8" y2="372.1" stroke="#777" stroke-width="1"/>
<line x1="161" y1="448.5" x2="162.8" y2="448.5" stroke="#777" stroke-width="0.8"/>
<text x="160.6" y="450.42" font-size="7" text-anchor="end" font-weight="normal" fill="#1a1a1a">0</text>
<line x1="161" y1="433.32" x2="162.8" y2="433.32" stroke="#777" stroke-width="0.8"/>
<text x="160.6" y="435.24" font-size="7" text-anchor="end" font-weight="normal" fill="#1a1a1a">20</text>
<line x1="161" y1="418.14" x2="162.8" y2="418.14" stroke="#777" stroke-width="0.8"/>
<text x="160.6" y="420.06" font-size="7" text-anchor="end" font-weight="normal" fill="#1a1a1a">40</text>
<line x1="161" y1="402.96" x2="162.8" y2="402.96" stroke="#777" stroke-width="0.8"/>
<text x="160.6" y="404.88" font-size="7" text-anchor="end" font-weight="normal" fill="#1a1a1a">60</text>
<line x1="161" y1="387.78" x2="162.8" y2="387.78" stroke="#777" stroke-width="0.8"/>
<text x="160.6" y="389.7" font-size="7" text-anchor="end" font-weight="normal" fill="#1a1a1a">80</text>
<line x1="161" y1="372.6" x2="162.8" y2="372.6" stroke="#777" stroke-width="0.8"/>
<text x="160.6" y="374.52" font-size="7" text-anchor="end" font-weight="normal" fill="#1a1a1a">100</text>
<line x1="264.4" y1="449" x2="264.4" y2="372.1" stroke="#777" stroke-width="1"/>
<line x1="262.6" y1="448.5" x2="264.4" y2="448.5" stroke="#777" stroke-width="0.8"/>
<text x="262.2" y="450.42" font-size="7" text-anchor="end" font-weight="normal" fill="#1a1a1a">0</text>
<line x1="262.6" y1="433.32" x2="264.4" y2="433.32" stroke="#777" stroke-width="0.8"/>
<text x="262.2" y="435.24" font-size="7" text-anchor="end" font-weight="normal" fill="#1a1a1a">20</text>
<line x1="262.6" y1="418.14" x2="264.4" y2="418.14" stroke="#777" stroke-width="0.8"/>
<text x="262.2" y="420.06" font-size="7" text-anchor="end" font-weight="normal" fill="#1a1a1a">40</text>
<line x1="262.6" y1="402.96" x2="264.4" y2="402.96" stroke="#777" stroke-width="0.8"/>
<text x="262.2" y="404.88" font-size="7" text-anchor="end" font-weight="normal" fill="#1a1a1a">60</text>
<line x1="262.6" y1="387.78" x2="264.4" y2="387.78" stroke="#777" stroke-width="0.8"/>
<text x="262.2" y="389.7" font-size="7" text-anchor="end" font-weight="normal" fill="#1a1a1a">80</text>
<line x1="262.6" y1="372.6" x2="264.4" y2="372.6" stroke="#777" stroke-width="0.8"/>
<text x="262.2" y="374.52" font-size="7" text-anchor="end" font-weight="normal" fill="#1a1a1a">100</text>
<line x1="57.3" y1="341" x2="146" y2="341" stroke="#9a9a9a" stroke-width="1"/>
<line x1="162.5" y1="341" x2="250" y2="341" stroke="#9a9a9a" stroke-width="1"/>
<line x1="265" y1="341" x2="354" y2="341" stroke="#9a9a9a" stroke-width="1"/>
<line x1="57.7" y1="448.5" x2="146" y2="448.5" stroke="#9a9a9a" stroke-width="1"/>
<line x1="162.8" y1="448.5" x2="250" y2="448.5" stroke="#9a9a9a" stroke-width="1"/>
<line x1="264.4" y1="448.5" x2="354.6" y2="448.5" stroke="#9a9a9a" stroke-width="1"/>
<text x="102.4" y="258.57" font-size="7.7" text-anchor="middle" font-weight="normal" fill="#1a1a1a">NKG2A+</text>
<text x="207.3" y="258.57" font-size="7.7" text-anchor="middle" font-weight="normal" fill="#1a1a1a">NKG2C-NKG2A-</text>
<text x="309.8" y="258.57" font-size="7.7" text-anchor="middle" font-weight="normal" fill="#1a1a1a">NKG2C+NKG2A-</text>
<text x="30.4" y="307.83" font-size="7.85" text-anchor="middle" font-weight="normal" fill="#1a1a1a" transform="rotate(-90 30.4 305)">% KIR2DL1 in CD56<tspan font-size="5.2" dy="-2.8">dim</tspan></text>
<text x="39.4" y="305.09" font-size="7.75" text-anchor="middle" font-weight="normal" fill="#1a1a1a" transform="rotate(-90 39.4 302.3)">NK cell subset</text>
<text x="29.6" y="409.81" font-size="7.8" text-anchor="middle" font-weight="normal" fill="#1a1a1a" transform="rotate(-90 29.6 407)">% KIR2DL3 in CD56<tspan font-size="5.2" dy="-2.8">dim</tspan></text>
<text x="39.4" y="408.11" font-size="7.8" text-anchor="middle" font-weight="normal" fill="#1a1a1a" transform="rotate(-90 39.4 405.3)">NK cell subset</text>
<text x="73.5" y="349.12" font-size="7" text-anchor="middle" font-weight="normal" fill="#1a1a1a">0</text>
<text x="92.3" y="349.12" font-size="7" text-anchor="middle" font-weight="normal" fill="#1a1a1a">1</text>
<text x="111" y="349.12" font-size="7" text-anchor="middle" font-weight="normal" fill="#1a1a1a">2</text>
<text x="132.7" y="349.12" font-size="7" text-anchor="middle" font-weight="normal" fill="#1a1a1a">3</text>
<text x="177.1" y="349.12" font-size="7" text-anchor="middle" font-weight="normal" fill="#1a1a1a">0</text>
<text x="197.5" y="349.12" font-size="7" text-anchor="middle" font-weight="normal" fill="#1a1a1a">1</text>
<text x="217.3" y="349.12" font-size="7" text-anchor="middle" font-weight="normal" fill="#1a1a1a">2</text>
<text x="237.4" y="349.12" font-size="7" text-anchor="middle" font-weight="normal" fill="#1a1a1a">3</text>
<text x="279.7" y="349.12" font-size="7" text-anchor="middle" font-weight="normal" fill="#1a1a1a">0</text>
<text x="299.4" y="349.12" font-size="7" text-anchor="middle" font-weight="normal" fill="#1a1a1a">1</text>
<text x="319.6" y="349.12" font-size="7" text-anchor="middle" font-weight="normal" fill="#1a1a1a">2</text>
<text x="339.6" y="349.12" font-size="7" text-anchor="middle" font-weight="normal" fill="#1a1a1a">3</text>
<text x="74.1" y="457.32" font-size="7" text-anchor="middle" font-weight="normal" fill="#1a1a1a">0</text>
<text x="93.7" y="457.32" font-size="7" text-anchor="middle" font-weight="normal" fill="#1a1a1a">1</text>
<text x="113" y="457.32" font-size="7" text-anchor="middle" font-weight="normal" fill="#1a1a1a">2</text>
<text x="133.5" y="457.32" font-size="7" text-anchor="middle" font-weight="normal" fill="#1a1a1a">3</text>
<text x="178.5" y="457.32" font-size="7" text-anchor="middle" font-weight="normal" fill="#1a1a1a">0</text>
<text x="197.7" y="457.32" font-size="7" text-anchor="middle" font-weight="normal" fill="#1a1a1a">1</text>
<text x="217.4" y="457.32" font-size="7" text-anchor="middle" font-weight="normal" fill="#1a1a1a">2</text>
<text x="237.4" y="457.32" font-size="7" text-anchor="middle" font-weight="normal" fill="#1a1a1a">3</text>
<text x="280" y="457.32" font-size="7" text-anchor="middle" font-weight="normal" fill="#1a1a1a">0</text>
<text x="299.3" y="457.32" font-size="7" text-anchor="middle" font-weight="normal" fill="#1a1a1a">1</text>
<text x="319.7" y="457.32" font-size="7" text-anchor="middle" font-weight="normal" fill="#1a1a1a">2</text>
<text x="339.7" y="457.32" font-size="7" text-anchor="middle" font-weight="normal" fill="#1a1a1a">3</text>
<line x1="82.9" y1="337.25" x2="101.9" y2="337.25" stroke="#111" stroke-width="0.9"/>
<line x1="102.6" y1="333.5" x2="122.6" y2="333.5" stroke="#111" stroke-width="0.9"/>
<line x1="122.6" y1="328.62" x2="143.7" y2="328.62" stroke="#555" stroke-width="0.9"/>
<line x1="188.1" y1="326" x2="207.1" y2="326" stroke="#111" stroke-width="0.9"/>
<line x1="208" y1="317.75" x2="228" y2="317.75" stroke="#111" stroke-width="0.9"/>
<line x1="228.2" y1="307.25" x2="247.9" y2="307.25" stroke="#555" stroke-width="0.9"/>
<line x1="289.9" y1="326" x2="308.9" y2="326" stroke="#111" stroke-width="0.9"/>
<line x1="309.6" y1="317.75" x2="329.6" y2="317.75" stroke="#111" stroke-width="0.9"/>
<line x1="330" y1="305.75" x2="351" y2="305.75" stroke="#555" stroke-width="0.9"/>
<line x1="63.5" y1="448.5" x2="82.2" y2="448.5" stroke="#111" stroke-width="1.8"/>
<line x1="83.8" y1="442.73" x2="102.8" y2="442.73" stroke="#111" stroke-width="0.9"/>
<line x1="103.2" y1="437.12" x2="123.2" y2="437.12" stroke="#111" stroke-width="0.9"/>
<line x1="123.4" y1="421.56" x2="143.6" y2="421.56" stroke="#555" stroke-width="0.9"/>
<line x1="168.4" y1="448.5" x2="185.7" y2="448.5" stroke="#111" stroke-width="1.8"/>
<line x1="187.7" y1="431.8" x2="207.7" y2="431.8" stroke="#111" stroke-width="0.9"/>
<line x1="207.8" y1="419.66" x2="227.8" y2="419.66" stroke="#111" stroke-width="0.9"/>
<line x1="228.5" y1="396.58" x2="248.2" y2="396.58" stroke="#555" stroke-width="0.9"/>
<line x1="289.3" y1="431.8" x2="309.3" y2="431.8" stroke="#111" stroke-width="0.9"/>
<line x1="308.5" y1="417.38" x2="328.5" y2="417.38" stroke="#111" stroke-width="0.9"/>
<line x1="329.4" y1="403.34" x2="349.8" y2="403.34" stroke="#555" stroke-width="0.9"/>
<line x1="56.2" y1="470.1" x2="160.4" y2="470.1" stroke="#111" stroke-width="1.1"/>
<text x="205.9" y="471.51" font-size="7.8" text-anchor="middle" font-weight="normal" fill="#1a1a1a">Gene copy number</text>
<line x1="250.6" y1="470.1" x2="344" y2="470.1" stroke="#111" stroke-width="1.1"/>
<polygon points="342.4,466.2 352.4,470.1 342.4,474" fill="#111"/>
<path fill="#222" d="M46.85 94.6a0.75 0.75 0 1 0 1.5 0a0.75 0.75 0 1 0 -1.5 0M48.99 94.6a0.75 0.75 0 1 0 1.5 0a0.75 0.75 0 1 0 -1.5 0M51.12 94.6a0.75 0.75 0 1 0 1.5 0a0.75 0.75 0 1 0 -1.5 0M53.26 94.6a0.75 0.75 0 1 0 1.5 0a0.75 0.75 0 1 0 -1.5 0M55.4 94.6a0.75 0.75 0 1 0 1.5 0a0.75 0.75 0 1 0 -1.5 0M57.54 94.6a0.75 0.75 0 1 0 1.5 0a0.75 0.75 0 1 0 -1.5 0M59.68 94.6a0.75 0.75 0 1 0 1.5 0a0.75 0.75 0 1 0 -1.5 0M61.81 94.6a0.75 0.75 0 1 0 1.5 0a0.75 0.75 0 1 0 -1.5 0M63.95 94.6a0.75 0.75 0 1 0 1.5 0a0.75 0.75 0 1 0 -1.5 0M256.25 94.6a0.75 0.75 0 1 0 1.5 0a0.75 0.75 0 1 0 -1.5 0M258.25 94.6a0.75 0.75 0 1 0 1.5 0a0.75 0.75 0 1 0 -1.5 0M346.75 94.6a0.75 0.75 0 1 0 1.5 0a0.75 0.75 0 1 0 -1.5 0M349.05 94.6a0.75 0.75 0 1 0 1.5 0a0.75 0.75 0 1 0 -1.5 0M351.35 94.6a0.75 0.75 0 1 0 1.5 0a0.75 0.75 0 1 0 -1.5 0M353.65 94.6a0.75 0.75 0 1 0 1.5 0a0.75 0.75 0 1 0 -1.5 0M355.95 94.6a0.75 0.75 0 1 0 1.5 0a0.75 0.75 0 1 0 -1.5 0M358.25 94.6a0.75 0.75 0 1 0 1.5 0a0.75 0.75 0 1 0 -1.5 0M209.85 147.07a0.75 0.75 0 1 0 1.5 0a0.75 0.75 0 1 0 -1.5 0M210.65 155.95a0.75 0.75 0 1 0 1.5 0a0.75 0.75 0 1 0 -1.5 0M208.85 158.75a0.75 0.75 0 1 0 1.5 0a0.75 0.75 0 1 0 -1.5 0M211.65 161.56a0.75 0.75 0 1 0 1.5 0a0.75 0.75 0 1 0 -1.5 0M208.35 163.43a0.75 0.75 0 1 0 1.5 0a0.75 0.75 0 1 0 -1.5 0M210.35 167.17a0.75 0.75 0 1 0 1.5 0a0.75 0.75 0 1 0 -1.5 0M209.35 170.91a0.75 0.75 0 1 0 1.5 0a0.75 0.75 0 1 0 -1.5 0M210.15 174.56a0.75 0.75 0 1 0 1.5 0a0.75 0.75 0 1 0 -1.5 0M62.75 340.6a0.75 0.75 0 1 0 1.5 0a0.75 0.75 0 1 0 -1.5 0M64.85 340.6a0.75 0.75 0 1 0 1.5 0a0.75 0.75 0 1 0 -1.5 0M66.95 340.6a0.75 0.75 0 1 0 1.5 0a0.75 0.75 0 1 0 -1.5 0M69.05 340.6a0.75 0.75 0 1 0 1.5 0a0.75 0.75 0 1 0 -1.5 0M71.15 340.6a0.75 0.75 0 1 0 1.5 0a0.75 0.75 0 1 0 -1.5 0M73.25 340.6a0.75 0.75 0 1 0 1.5 0a0.75 0.75 0 1 0 -1.5 0M75.35 340.6a0.75 0.75 0 1 0 1.5 0a0.75 0.75 0 1 0 -1.5 0M77.45 340.6a0.75 0.75 0 1 0 1.5 0a0.75 0.75 0 1 0 -1.5 0M79.55 340.6a0.75 0.75 0 1 0 1.5 0a0.75 0.75 0 1 0 -1.5 0M81.65 340.6a0.75 0.75 0 1 0 1.5 0a0.75 0.75 0 1 0 -1.5 0M168.25 340.4a0.75 0.75 0 1 0 1.5 0a0.75 0.75 0 1 0 -1.5 0M170.43 340.4a0.75 0.75 0 1 0 1.5 0a0.75 0.75 0 1 0 -1.5 0M172.6 340.4a0.75 0.75 0 1 0 1.5 0a0.75 0.75 0 1 0 -1.5 0M174.78 340.4a0.75 0.75 0 1 0 1.5 0a0.75 0.75 0 1 0 -1.5 0M176.95 340.4a0.75 0.75 0 1 0 1.5 0a0.75 0.75 0 1 0 -1.5 0M179.12 340.4a0.75 0.75 0 1 0 1.5 0a0.75 0.75 0 1 0 -1.5 0M181.3 340.4a0.75 0.75 0 1 0 1.5 0a0.75 0.75 0 1 0 -1.5 0M183.47 340.4a0.75 0.75 0 1 0 1.5 0a0.75 0.75 0 1 0 -1.5 0M185.65 340.4a0.75 0.75 0 1 0 1.5 0a0.75 0.75 0 1 0 -1.5 0M270.15 340.4a0.75 0.75 0 1 0 1.5 0a0.75 0.75 0 1 0 -1.5 0M272.32 340.4a0.75 0.75 0 1 0 1.5 0a0.75 0.75 0 1 0 -1.5 0M274.5 340.4a0.75 0.75 0 1 0 1.5 0a0.75 0.75 0 1 0 -1.5 0M276.68 340.4a0.75 0.75 0 1 0 1.5 0a0.75 0.75 0 1 0 -1.5 0M278.85 340.4a0.75 0.75 0 1 0 1.5 0a0.75 0.75 0 1 0 -1.5 0M281.02 340.4a0.75 0.75 0 1 0 1.5 0a0.75 0.75 0 1 0 -1.5 0M283.2 340.4a0.75 0.75 0 1 0 1.5 0a0.75 0.75 0 1 0 -1.5 0M285.38 340.4a0.75 0.75 0 1 0 1.5 0a0.75 0.75 0 1 0 -1.5 0M287.55 340.4a0.75 0.75 0 1 0 1.5 0a0.75 0.75 0 1 0 -1.5 0M269.65 448.5a0.75 0.75 0 1 0 1.5 0a0.75 0.75 0 1 0 -1.5 0M271.91 448.5a0.75 0.75 0 1 0 1.5 0a0.75 0.75 0 1 0 -1.5 0M274.17 448.5a0.75 0.75 0 1 0 1.5 0a0.75 0.75 0 1 0 -1.5 0M276.44 448.5a0.75 0.75 0 1 0 1.5 0a0.75 0.75 0 1 0 -1.5 0M278.7 448.5a0.75 0.75 0 1 0 1.5 0a0.75 0.75 0 1 0 -1.5 0M280.96 448.5a0.75 0.75 0 1 0 1.5 0a0.75 0.75 0 1 0 -1.5 0M283.23 448.5a0.75 0.75 0 1 0 1.5 0a0.75 0.75 0 1 0 -1.5 0M285.49 448.5a0.75 0.75 0 1 0 1.5 0a0.75 0.75 0 1 0 -1.5 0M287.75 448.5a0.75 0.75 0 1 0 1.5 0a0.75 0.75 0 1 0 -1.5 0"/>
<path fill="#2a2a2a" d="M75.41 89.83a0.72 0.72 0 1 0 1.44 0a0.72 0.72 0 1 0 -1.44 0M70.3 87.28a0.72 0.72 0 1 0 1.44 0a0.72 0.72 0 1 0 -1.44 0M72.41 87.27a0.72 0.72 0 1 0 1.44 0a0.72 0.72 0 1 0 -1.44 0M74.43 87.28a0.72 0.72 0 1 0 1.44 0a0.72 0.72 0 1 0 -1.44 0M76.34 87.46a0.72 0.72 0 1 0 1.44 0a0.72 0.72 0 1 0 -1.44 0M78.69 87.31a0.72 0.72 0 1 0 1.44 0a0.72 0.72 0 1 0 -1.44 0M80.49 87.56a0.72 0.72 0 1 0 1.44 0a0.72 0.72 0 1 0 -1.44 0M67.34 84.81a0.72 0.72 0 1 0 1.44 0a0.72 0.72 0 1 0 -1.44 0M69.18 85.16a0.72 0.72 0 1 0 1.44 0a0.72 0.72 0 1 0 -1.44 0M70.91 85.04a0.72 0.72 0 1 0 1.44 0a0.72 0.72 0 1 0 -1.44 0M72.87 84.94a0.72 0.72 0 1 0 1.44 0a0.72 0.72 0 1 0 -1.44 0M74.61 84.78a0.72 0.72 0 1 0 1.44 0a0.72 0.72 0 1 0 -1.44 0M76.19 84.85a0.72 0.72 0 1 0 1.44 0a0.72 0.72 0 1 0 -1.44 0M78.22 84.96a0.72 0.72 0 1 0 1.44 0a0.72 0.72 0 1 0 -1.44 0M79.85 85.04a0.72 0.72 0 1 0 1.44 0a0.72 0.72 0 1 0 -1.44 0M81.68 84.9a0.72 0.72 0 1 0 1.44 0a0.72 0.72 0 1 0 -1.44 0M83.6 85.1a0.72 0.72 0 1 0 1.44 0a0.72 0.72 0 1 0 -1.44 0M67.33 82.46a0.72 0.72 0 1 0 1.44 0a0.72 0.72 0 1 0 -1.44 0M69.18 82.33a0.72 0.72 0 1 0 1.44 0a0.72 0.72 0 1 0 -1.44 0M70.68 82.27a0.72 0.72 0 1 0 1.44 0a0.72 0.72 0 1 0 -1.44 0M72.35 82.63a0.72 0.72 0 1 0 1.44 0a0.72 0.72 0 1 0 -1.44 0M73.91 82.69a0.72 0.72 0 1 0 1.44 0a0.72 0.72 0 1 0 -1.44 0M75.41 82.6a0.72 0.72 0 1 0 1.44 0a0.72 0.72 0 1 0 -1.44 0M77.12 82.54a0.72 0.72 0 1 0 1.44 0a0.72 0.72 0 1 0 -1.44 0M78.66 82.67a0.72 0.72 0 1 0 1.44 0a0.72 0.72 0 1 0 -1.44 0M80.46 82.49a0.72 0.72 0 1 0 1.44 0a0.72 0.72 0 1 0 -1.44 0M81.95 82.28a0.72 0.72 0 1 0 1.44 0a0.72 0.72 0 1 0 -1.44 0M83.56 82.57a0.72 0.72 0 1 0 1.44 0a0.72 0.72 0 1 0 -1.44 0M67.35 79.81a0.72 0.72 0 1 0 1.44 0a0.72 0.72 0 1 0 -1.44 0M69.3 80.13a0.72 0.72 0 1 0 1.44 0a0.72 0.72 0 1 0 -1.44 0M71.33 79.87a0.72 0.72 0 1 0 1.44 0a0.72 0.72 0 1 0 -1.44 0M73.44 80.19a0.72 0.72 0 1 0 1.44 0a0.72 0.72 0 1 0 -1.44 0M75.31 79.97a0.72 0.72 0 1 0 1.44 0a0.72 0.72 0 1 0 -1.44 0M77.5 80.19a0.72 0.72 0 1 0 1.44 0a0.72 0.72 0 1 0 -1.44 0M79.61 80.18a0.72 0.72 0 1 0 1.44 0a0.72 0.72 0 1 0 -1.44 0M81.39 79.96a0.72 0.72 0 1 0 1.44 0a0.72 0.72 0 1 0 -1.44 0M83.42 80.19a0.72 0.72 0 1 0 1.44 0a0.72 0.72 0 1 0 -1.44 0M69.39 77.26a0.72 0.72 0 1 0 1.44 0a0.72 0.72 0 1 0 -1.44 0M71.51 77.34a0.72 0.72 0 1 0 1.44 0a0.72 0.72 0 1 0 -1.44 0M73.34 77.32a0.72 0.72 0 1 0 1.44 0a0.72 0.72 0 1 0 -1.44 0M75.49 77.55a0.72 0.72 0 1 0 1.44 0a0.72 0.72 0 1 0 -1.44 0M77.46 77.31a0.72 0.72 0 1 0 1.44 0a0.72 0.72 0 1 0 -1.44 0M79.72 77.73a0.72 0.72 0 1 0 1.44 0a0.72 0.72 0 1 0 -1.44 0M81.69 77.62a0.72 0.72 0 1 0 1.44 0a0.72 0.72 0 1 0 -1.44 0M71.34 74.99a0.72 0.72 0 1 0 1.44 0a0.72 0.72 0 1 0 -1.44 0M73.39 74.85a0.72 0.72 0 1 0 1.44 0a0.72 0.72 0 1 0 -1.44 0M75.67 74.97a0.72 0.72 0 1 0 1.44 0a0.72 0.72 0 1 0 -1.44 0M77.37 75.05a0.72 0.72 0 1 0 1.44 0a0.72 0.72 0 1 0 -1.44 0M79.42 75.03a0.72 0.72 0 1 0 1.44 0a0.72 0.72 0 1 0 -1.44 0M75.49 72.72a0.72 0.72 0 1 0 1.44 0a0.72 0.72 0 1 0 -1.44 0M75.53 32.29a0.72 0.72 0 1 0 1.44 0a0.72 0.72 0 1 0 -1.44 0M75.36 49.94a0.72 0.72 0 1 0 1.44 0a0.72 0.72 0 1 0 -1.44 0M75.53 57.73a0.72 0.72 0 1 0 1.44 0a0.72 0.72 0 1 0 -1.44 0M75.52 62.49a0.72 0.72 0 1 0 1.44 0a0.72 0.72 0 1 0 -1.44 0M95.13 89.99a0.72 0.72 0 1 0 1.44 0a0.72 0.72 0 1 0 -1.44 0M93.22 87.29a0.72 0.72 0 1 0 1.44 0a0.72 0.72 0 1 0 -1.44 0M95.12 87.42a0.72 0.72 0 1 0 1.44 0a0.72 0.72 0 1 0 -1.44 0M97.24 87.66a0.72 0.72 0 1 0 1.44 0a0.72 0.72 0 1 0 -1.44 0M90.01 85.02a0.72 0.72 0 1 0 1.44 0a0.72 0.72 0 1 0 -1.44 0M92.02 85.01a0.72 0.72 0 1 0 1.44 0a0.72 0.72 0 1 0 -1.44 0M94.45 85.18a0.72 0.72 0 1 0 1.44 0a0.72 0.72 0 1 0 -1.44 0M96.38 84.88a0.72 0.72 0 1 0 1.44 0a0.72 0.72 0 1 0 -1.44 0M98.3 84.83a0.72 0.72 0 1 0 1.44 0a0.72 0.72 0 1 0 -1.44 0M100.51 85.02a0.72 0.72 0 1 0 1.44 0a0.72 0.72 0 1 0 -1.44 0M87.18 82.36a0.72 0.72 0 1 0 1.44 0a0.72 0.72 0 1 0 -1.44 0M89.14 82.43a0.72 0.72 0 1 0 1.44 0a0.72 0.72 0 1 0 -1.44 0M90.99 82.26a0.72 0.72 0 1 0 1.44 0a0.72 0.72 0 1 0 -1.44 0M93.14 82.38a0.72 0.72 0 1 0 1.44 0a0.72 0.72 0 1 0 -1.44 0M95.36 82.73a0.72 0.72 0 1 0 1.44 0a0.72 0.72 0 1 0 -1.44 0M97.31 82.72a0.72 0.72 0 1 0 1.44 0a0.72 0.72 0 1 0 -1.44 0M99.58 82.73a0.72 0.72 0 1 0 1.44 0a0.72 0.72 0 1 0 -1.44 0M101.38 82.36a0.72 0.72 0 1 0 1.44 0a0.72 0.72 0 1 0 -1.44 0M103.37 82.35a0.72 0.72 0 1 0 1.44 0a0.72 0.72 0 1 0 -1.44 0M85.77 79.84a0.72 0.72 0 1 0 1.44 0a0.72 0.72 0 1 0 -1.44 0M87.62 79.92a0.72 0.72 0 1 0 1.44 0a0.72 0.72 0 1 0 -1.44 0M89.35 80.24a0.72 0.72 0 1 0 1.44 0a0.72 0.72 0 1 0 -1.44 0M90.92 79.95a0.72 0.72 0 1 0 1.44 0a0.72 0.72 0 1 0 -1.44 0M92.87 80.11a0.72 0.72 0 1 0 1.44 0a0.72 0.72 0 1 0 -1.44 0M94.28 79.81a0.72 0.72 0 1 0 1.44 0a0.72 0.72 0 1 0 -1.44 0M96 80.2a0.72 0.72 0 1 0 1.44 0a0.72 0.72 0 1 0 -1.44 0M97.99 79.82a0.72 0.72 0 1 0 1.44 0a0.72 0.72 0 1 0 -1.44 0M99.73 80.24a0.72 0.72 0 1 0 1.44 0a0.72 0.72 0 1 0 -1.44 0M101.39 79.93a0.72 0.72 0 1 0 1.44 0a0.72 0.72 0 1 0 -1.44 0M103.07 79.82a0.72 0.72 0 1 0 1.44 0a0.72 0.72 0 1 0 -1.44 0M104.59 80.24a0.72 0.72 0 1 0 1.44 0a0.72 0.72 0 1 0 -1.44 0M85.78 77.63a0.72 0.72 0 1 0 1.44 0a0.72 0.72 0 1 0 -1.44 0M87.29 77.52a0.72 0.72 0 1 0 1.44 0a0.72 0.72 0 1 0 -1.44 0M89.08 77.28a0.72 0.72 0 1 0 1.44 0a0.72 0.72 0 1 0 -1.44 0M90.63 77.7a0.72 0.72 0 1 0 1.44 0a0.72 0.72 0 1 0 -1.44 0M92.18 77.66a0.72 0.72 0 1 0 1.44 0a0.72 0.72 0 1 0 -1.44 0M93.7 77.66a0.72 0.72 0 1 0 1.44 0a0.72 0.72 0 1 0 -1.44 0M95.43 77.32a0.72 0.72 0 1 0 1.44 0a0.72 0.72 0 1 0 -1.44 0M96.72 77.51a0.72 0.72 0 1 0 1.44 0a0.72 0.72 0 1 0 -1.44 0M98.6 77.64a0.72 0.72 0 1 0 1.44 0a0.72 0.72 0 1 0 -1.44 0M100.07 77.64a0.72 0.72 0 1 0 1.44 0a0.72 0.72 0 1 0 -1.44 0M101.47 77.32a0.72 0.72 0 1 0 1.44 0a0.72 0.72 0 1 0 -1.44 0M103.24 77.31a0.72 0.72 0 1 0 1.44 0a0.72 0.72 0 1 0 -1.44 0M104.6 77.59a0.72 0.72 0 1 0 1.44 0a0.72 0.72 0 1 0 -1.44 0M85.8 75.13a0.72 0.72 0 1 0 1.44 0a0.72 0.72 0 1 0 -1.44 0M87.53 74.97a0.72 0.72 0 1 0 1.44 0a0.72 0.72 0 1 0 -1.44 0M88.99 75a0.72 0.72 0 1 0 1.44 0a0.72 0.72 0 1 0 -1.44 0M90.53 75.1a0.72 0.72 0 1 0 1.44 0a0.72 0.72 0 1 0 -1.44 0M92.09 75.02a0.72 0.72 0 1 0 1.44 0a0.72 0.72 0 1 0 -1.44 0M93.69 75.22a0.72 0.72 0 1 0 1.44 0a0.72 0.72 0 1 0 -1.44 0M95.36 75.19a0.72 0.72 0 1 0 1.44 0a0.72 0.72 0 1 0 -1.44 0M97.04 74.88a0.72 0.72 0 1 0 1.44 0a0.72 0.72 0 1 0 -1.44 0M98.47 75.22a0.72 0.72 0 1 0 1.44 0a0.72 0.72 0 1 0 -1.44 0M100.17 74.82a0.72 0.72 0 1 0 1.44 0a0.72 0.72 0 1 0 -1.44 0M101.46 74.97a0.72 0.72 0 1 0 1.44 0a0.72 0.72 0 1 0 -1.44 0M103.03 74.87a0.72 0.72 0 1 0 1.44 0a0.72 0.72 0 1 0 -1.44 0M104.61 75.08a0.72 0.72 0 1 0 1.44 0a0.72 0.72 0 1 0 -1.44 0M85.65 72.58a0.72 0.72 0 1 0 1.44 0a0.72 0.72 0 1 0 -1.44 0M87.03 72.6a0.72 0.72 0 1 0 1.44 0a0.72 0.72 0 1 0 -1.44 0M88.69 72.45a0.72 0.72 0 1 0 1.44 0a0.72 0.72 0 1 0 -1.44 0M89.82 72.43a0.72 0.72 0 1 0 1.44 0a0.72 0.72 0 1 0 -1.44 0M91.05 72.43a0.72 0.72 0 1 0 1.44 0a0.72 0.72 0 1 0 -1.44 0M92.5 72.48a0.72 0.72 0 1 0 1.44 0a0.72 0.72 0 1 0 -1.44 0M94 72.44a0.72 0.72 0 1 0 1.44 0a0.72 0.72 0 1 0 -1.44 0M95.29 72.4a0.72 0.72 0 1 0 1.44 0a0.72 0.72 0 1 0 -1.44 0M96.82 72.31a0.72 0.72 0 1 0 1.44 0a0.72 0.72 0 1 0 -1.44 0M98.16 72.36a0.72 0.72 0 1 0 1.44 0a0.72 0.72 0 1 0 -1.44 0M99.5 72.29a0.72 0.72 0 1 0 1.44 0a0.72 0.72 0 1 0 -1.44 0M100.62 72.7a0.72 0.72 0 1 0 1.44 0a0.72 0.72 0 1 0 -1.44 0M101.94 72.63a0.72 0.72 0 1 0 1.44 0a0.72 0.72 0 1 0 -1.44 0M103.55 72.67a0.72 0.72 0 1 0 1.44 0a0.72 0.72 0 1 0 -1.44 0M104.85 72.72a0.72 0.72 0 1 0 1.44 0a0.72 0.72 0 1 0 -1.44 0M85.69 69.76a0.72 0.72 0 1 0 1.44 0a0.72 0.72 0 1 0 -1.44 0M87.08 69.88a0.72 0.72 0 1 0 1.44 0a0.72 0.72 0 1 0 -1.44 0M88.75 69.86a0.72 0.72 0 1 0 1.44 0a0.72 0.72 0 1 0 -1.44 0M90.07 69.81a0.72 0.72 0 1 0 1.44 0a0.72 0.72 0 1 0 -1.44 0M91.43 70.25a0.72 0.72 0 1 0 1.44 0a0.72 0.72 0 1 0 -1.44 0M93.05 70.21a0.72 0.72 0 1 0 1.44 0a0.72 0.72 0 1 0 -1.44 0M94.6 69.77a0.72 0.72 0 1 0 1.44 0a0.72 0.72 0 1 0 -1.44 0M96.09 70.22a0.72 0.72 0 1 0 1.44 0a0.72 0.72 0 1 0 -1.44 0M97.66 69.88a0.72 0.72 0 1 0 1.44 0a0.72 0.72 0 1 0 -1.44 0M98.81 70.22a0.72 0.72 0 1 0 1.44 0a0.72 0.72 0 1 0 -1.44 0M100.45 70.02a0.72 0.72 0 1 0 1.44 0a0.72 0.72 0 1 0 -1.44 0M101.74 69.97a0.72 0.72 0 1 0 1.44 0a0.72 0.72 0 1 0 -1.44 0M103.39 69.89a0.72 0.72 0 1 0 1.44 0a0.72 0.72 0 1 0 -1.44 0M104.9 70.25a0.72 0.72 0 1 0 1.44 0a0.72 0.72 0 1 0 -1.44 0M85.84 67.52a0.72 0.72 0 1 0 1.44 0a0.72 0.72 0 1 0 -1.44 0M87.52 67.74a0.72 0.72 0 1 0 1.44 0a0.72 0.72 0 1 0 -1.44 0M88.87 67.36a0.72 0.72 0 1 0 1.44 0a0.72 0.72 0 1 0 -1.44 0M90.42 67.35a0.72 0.72 0 1 0 1.44 0a0.72 0.72 0 1 0 -1.44 0M92.27 67.61a0.72 0.72 0 1 0 1.44 0a0.72 0.72 0 1 0 -1.44 0M93.55 67.74a0.72 0.72 0 1 0 1.44 0a0.72 0.72 0 1 0 -1.44 0M95.47 67.67a0.72 0.72 0 1 0 1.44 0a0.72 0.72 0 1 0 -1.44 0M96.67 67.56a0.72 0.72 0 1 0 1.44 0a0.72 0.72 0 1 0 -1.44 0M98.6 67.47a0.72 0.72 0 1 0 1.44 0a0.72 0.72 0 1 0 -1.44 0M99.85 67.58a0.72 0.72 0 1 0 1.44 0a0.72 0.72 0 1 0 -1.44 0M101.57 67.5a0.72 0.72 0 1 0 1.44 0a0.72 0.72 0 1 0 -1.44 0M103.39 67.55a0.72 0.72 0 1 0 1.44 0a0.72 0.72 0 1 0 -1.44 0M104.86 67.27a0.72 0.72 0 1 0 1.44 0a0.72 0.72 0 1 0 -1.44 0M85.95 65.23a0.72 0.72 0 1 0 1.44 0a0.72 0.72 0 1 0 -1.44 0M88.03 64.93a0.72 0.72 0 1 0 1.44 0a0.72 0.72 0 1 0 -1.44 0M89.96 64.94a0.72 0.72 0 1 0 1.44 0a0.72 0.72 0 1 0 -1.44 0M92.19 65a0.72 0.72 0 1 0 1.44 0a0.72 0.72 0 1 0 -1.44 0M94.14 65a0.72 0.72 0 1 0 1.44 0a0.72 0.72 0 1 0 -1.44 0M96.11 64.88a0.72 0.72 0 1 0 1.44 0a0.72 0.72 0 1 0 -1.44 0M98.19 64.95a0.72 0.72 0 1 0 1.44 0a0.72 0.72 0 1 0 -1.44 0M100.22 64.76a0.72 0.72 0 1 0 1.44 0a0.72 0.72 0 1 0 -1.44 0M102.38 64.87a0.72 0.72 0 1 0 1.44 0a0.72 0.72 0 1 0 -1.44 0M104.54 65.01a0.72 0.72 0 1 0 1.44 0a0.72 0.72 0 1 0 -1.44 0M88.99 62.61a0.72 0.72 0 1 0 1.44 0a0.72 0.72 0 1 0 -1.44 0M91.24 62.27a0.72 0.72 0 1 0 1.44 0a0.72 0.72 0 1 0 -1.44 0M93.36 62.7a0.72 0.72 0 1 0 1.44 0a0.72 0.72 0 1 0 -1.44 0M95.33 62.62a0.72 0.72 0 1 0 1.44 0a0.72 0.72 0 1 0 -1.44 0M97.45 62.32a0.72 0.72 0 1 0 1.44 0a0.72 0.72 0 1 0 -1.44 0M99.39 62.5a0.72 0.72 0 1 0 1.44 0a0.72 0.72 0 1 0 -1.44 0M101.56 62.65a0.72 0.72 0 1 0 1.44 0a0.72 0.72 0 1 0 -1.44 0M93.06 59.77a0.72 0.72 0 1 0 1.44 0a0.72 0.72 0 1 0 -1.44 0M95.33 60.23a0.72 0.72 0 1 0 1.44 0a0.72 0.72 0 1 0 -1.44 0M97.28 59.98a0.72 0.72 0 1 0 1.44 0a0.72 0.72 0 1 0 -1.44 0M95.1 57.26a0.72 0.72 0 1 0 1.44 0a0.72 0.72 0 1 0 -1.44 0M95.29 24.87a0.72 0.72 0 1 0 1.44 0a0.72 0.72 0 1 0 -1.44 0M95.19 27.48a0.72 0.72 0 1 0 1.44 0a0.72 0.72 0 1 0 -1.44 0M95.11 30.22a0.72 0.72 0 1 0 1.44 0a0.72 0.72 0 1 0 -1.44 0M95.44 39.8a0.72 0.72 0 1 0 1.44 0a0.72 0.72 0 1 0 -1.44 0M94.35 44.99a0.72 0.72 0 1 0 1.44 0a0.72 0.72 0 1 0 -1.44 0M96.43 45.17a0.72 0.72 0 1 0 1.44 0a0.72 0.72 0 1 0 -1.44 0M94.35 49.85a0.72 0.72 0 1 0 1.44 0a0.72 0.72 0 1 0 -1.44 0M96.4 50.24a0.72 0.72 0 1 0 1.44 0a0.72 0.72 0 1 0 -1.44 0M95.28 52.44a0.72 0.72 0 1 0 1.44 0a0.72 0.72 0 1 0 -1.44 0M94.42 54.89a0.72 0.72 0 1 0 1.44 0a0.72 0.72 0 1 0 -1.44 0M96.12 55.07a0.72 0.72 0 1 0 1.44 0a0.72 0.72 0 1 0 -1.44 0M181.89 87.32a0.72 0.72 0 1 0 1.44 0a0.72 0.72 0 1 0 -1.44 0M184.01 87.62a0.72 0.72 0 1 0 1.44 0a0.72 0.72 0 1 0 -1.44 0M182.1 84.82a0.72 0.72 0 1 0 1.44 0a0.72 0.72 0 1 0 -1.44 0M184.1 84.99a0.72 0.72 0 1 0 1.44 0a0.72 0.72 0 1 0 -1.44 0M178.9 82.51a0.72 0.72 0 1 0 1.44 0a0.72 0.72 0 1 0 -1.44 0M181.02 82.48a0.72 0.72 0 1 0 1.44 0a0.72 0.72 0 1 0 -1.44 0M182.93 82.7a0.72 0.72 0 1 0 1.44 0a0.72 0.72 0 1 0 -1.44 0M185.01 82.74a0.72 0.72 0 1 0 1.44 0a0.72 0.72 0 1 0 -1.44 0M187.35 82.26a0.72 0.72 0 1 0 1.44 0a0.72 0.72 0 1 0 -1.44 0M179.18 79.94a0.72 0.72 0 1 0 1.44 0a0.72 0.72 0 1 0 -1.44 0M181.2 80.22a0.72 0.72 0 1 0 1.44 0a0.72 0.72 0 1 0 -1.44 0M182.91 79.8a0.72 0.72 0 1 0 1.44 0a0.72 0.72 0 1 0 -1.44 0M185.23 79.88a0.72 0.72 0 1 0 1.44 0a0.72 0.72 0 1 0 -1.44 0M187.12 80.05a0.72 0.72 0 1 0 1.44 0a0.72 0.72 0 1 0 -1.44 0M177.85 77.7a0.72 0.72 0 1 0 1.44 0a0.72 0.72 0 1 0 -1.44 0M180 77.26a0.72 0.72 0 1 0 1.44 0a0.72 0.72 0 1 0 -1.44 0M181.86 77.5a0.72 0.72 0 1 0 1.44 0a0.72 0.72 0 1 0 -1.44 0M184.09 77.4a0.72 0.72 0 1 0 1.44 0a0.72 0.72 0 1 0 -1.44 0M186.01 77.42a0.72 0.72 0 1 0 1.44 0a0.72 0.72 0 1 0 -1.44 0M188.13 77.67a0.72 0.72 0 1 0 1.44 0a0.72 0.72 0 1 0 -1.44 0M178.13 74.85a0.72 0.72 0 1 0 1.44 0a0.72 0.72 0 1 0 -1.44 0M179.81 75.12a0.72 0.72 0 1 0 1.44 0a0.72 0.72 0 1 0 -1.44 0M181.96 74.78a0.72 0.72 0 1 0 1.44 0a0.72 0.72 0 1 0 -1.44 0M184.06 75.18a0.72 0.72 0 1 0 1.44 0a0.72 0.72 0 1 0 -1.44 0M185.99 75.21a0.72 0.72 0 1 0 1.44 0a0.72 0.72 0 1 0 -1.44 0M188.31 75.18a0.72 0.72 0 1 0 1.44 0a0.72 0.72 0 1 0 -1.44 0M175.05 72.41a0.72 0.72 0 1 0 1.44 0a0.72 0.72 0 1 0 -1.44 0M177.19 72.64a0.72 0.72 0 1 0 1.44 0a0.72 0.72 0 1 0 -1.44 0M179.05 72.26a0.72 0.72 0 1 0 1.44 0a0.72 0.72 0 1 0 -1.44 0M181.18 72.45a0.72 0.72 0 1 0 1.44 0a0.72 0.72 0 1 0 -1.44 0M183.23 72.53a0.72 0.72 0 1 0 1.44 0a0.72 0.72 0 1 0 -1.44 0M184.96 72.29a0.72 0.72 0 1 0 1.44 0a0.72 0.72 0 1 0 -1.44 0M187.25 72.46a0.72 0.72 0 1 0 1.44 0a0.72 0.72 0 1 0 -1.44 0M189.13 72.32a0.72 0.72 0 1 0 1.44 0a0.72 0.72 0 1 0 -1.44 0M191.23 72.49a0.72 0.72 0 1 0 1.44 0a0.72 0.72 0 1 0 -1.44 0M175.04 69.87a0.72 0.72 0 1 0 1.44 0a0.72 0.72 0 1 0 -1.44 0M176.67 70.08a0.72 0.72 0 1 0 1.44 0a0.72 0.72 0 1 0 -1.44 0M178.13 70.07a0.72 0.72 0 1 0 1.44 0a0.72 0.72 0 1 0 -1.44 0M179.71 70a0.72 0.72 0 1 0 1.44 0a0.72 0.72 0 1 0 -1.44 0M181.6 70.03a0.72 0.72 0 1 0 1.44 0a0.72 0.72 0 1 0 -1.44 0M183.06 69.92a0.72 0.72 0 1 0 1.44 0a0.72 0.72 0 1 0 -1.44 0M184.78 69.96a0.72 0.72 0 1 0 1.44 0a0.72 0.72 0 1 0 -1.44 0M186.3 69.87a0.72 0.72 0 1 0 1.44 0a0.72 0.72 0 1 0 -1.44 0M187.75 70.03a0.72 0.72 0 1 0 1.44 0a0.72 0.72 0 1 0 -1.44 0M189.41 69.93a0.72 0.72 0 1 0 1.44 0a0.72 0.72 0 1 0 -1.44 0M191.2 69.85a0.72 0.72 0 1 0 1.44 0a0.72 0.72 0 1 0 -1.44 0M176.88 67.42a0.72 0.72 0 1 0 1.44 0a0.72 0.72 0 1 0 -1.44 0M178.8 67.39a0.72 0.72 0 1 0 1.44 0a0.72 0.72 0 1 0 -1.44 0M181.22 67.31a0.72 0.72 0 1 0 1.44 0a0.72 0.72 0 1 0 -1.44 0M183.08 67.56a0.72 0.72 0 1 0 1.44 0a0.72 0.72 0 1 0 -1.44 0M185.28 67.36a0.72 0.72 0 1 0 1.44 0a0.72 0.72 0 1 0 -1.44 0M187.09 67.37a0.72 0.72 0 1 0 1.44 0a0.72 0.72 0 1 0 -1.44 0M189.19 67.47a0.72 0.72 0 1 0 1.44 0a0.72 0.72 0 1 0 -1.44 0M178.95 65.13a0.72 0.72 0 1 0 1.44 0a0.72 0.72 0 1 0 -1.44 0M181.15 65.23a0.72 0.72 0 1 0 1.44 0a0.72 0.72 0 1 0 -1.44 0M183.08 64.79a0.72 0.72 0 1 0 1.44 0a0.72 0.72 0 1 0 -1.44 0M185.3 65.21a0.72 0.72 0 1 0 1.44 0a0.72 0.72 0 1 0 -1.44 0M187.19 64.98a0.72 0.72 0 1 0 1.44 0a0.72 0.72 0 1 0 -1.44 0M175.26 60.11a0.72 0.72 0 1 0 1.44 0a0.72 0.72 0 1 0 -1.44 0M177.14 60.13a0.72 0.72 0 1 0 1.44 0a0.72 0.72 0 1 0 -1.44 0M179.06 60.03a0.72 0.72 0 1 0 1.44 0a0.72 0.72 0 1 0 -1.44 0M180.9 60.14a0.72 0.72 0 1 0 1.44 0a0.72 0.72 0 1 0 -1.44 0M182.97 60.21a0.72 0.72 0 1 0 1.44 0a0.72 0.72 0 1 0 -1.44 0M185.14 59.9a0.72 0.72 0 1 0 1.44 0a0.72 0.72 0 1 0 -1.44 0M186.93 59.88a0.72 0.72 0 1 0 1.44 0a0.72 0.72 0 1 0 -1.44 0M189.13 60.1a0.72 0.72 0 1 0 1.44 0a0.72 0.72 0 1 0 -1.44 0M190.92 59.79a0.72 0.72 0 1 0 1.44 0a0.72 0.72 0 1 0 -1.44 0M182.01 57.36a0.72 0.72 0 1 0 1.44 0a0.72 0.72 0 1 0 -1.44 0M184.15 57.26a0.72 0.72 0 1 0 1.44 0a0.72 0.72 0 1 0 -1.44 0M183 39.98a0.72 0.72 0 1 0 1.44 0a0.72 0.72 0 1 0 -1.44 0M183.26 42.57a0.72 0.72 0 1 0 1.44 0a0.72 0.72 0 1 0 -1.44 0M182.05 44.87a0.72 0.72 0 1 0 1.44 0a0.72 0.72 0 1 0 -1.44 0M184 45.23a0.72 0.72 0 1 0 1.44 0a0.72 0.72 0 1 0 -1.44 0M183.16 47.4a0.72 0.72 0 1 0 1.44 0a0.72 0.72 0 1 0 -1.44 0M182.89 50a0.72 0.72 0 1 0 1.44 0a0.72 0.72 0 1 0 -1.44 0M181.89 52.36a0.72 0.72 0 1 0 1.44 0a0.72 0.72 0 1 0 -1.44 0M184.07 52.44a0.72 0.72 0 1 0 1.44 0a0.72 0.72 0 1 0 -1.44 0M181.87 54.92a0.72 0.72 0 1 0 1.44 0a0.72 0.72 0 1 0 -1.44 0M184.07 55.09a0.72 0.72 0 1 0 1.44 0a0.72 0.72 0 1 0 -1.44 0M269.81 89.83a0.72 0.72 0 1 0 1.44 0a0.72 0.72 0 1 0 -1.44 0M265.72 87.73a0.72 0.72 0 1 0 1.44 0a0.72 0.72 0 1 0 -1.44 0M267.68 87.73a0.72 0.72 0 1 0 1.44 0a0.72 0.72 0 1 0 -1.44 0M269.76 87.43a0.72 0.72 0 1 0 1.44 0a0.72 0.72 0 1 0 -1.44 0M272.06 87.66a0.72 0.72 0 1 0 1.44 0a0.72 0.72 0 1 0 -1.44 0M273.95 87.27a0.72 0.72 0 1 0 1.44 0a0.72 0.72 0 1 0 -1.44 0M262.65 85.2a0.72 0.72 0 1 0 1.44 0a0.72 0.72 0 1 0 -1.44 0M264.57 84.96a0.72 0.72 0 1 0 1.44 0a0.72 0.72 0 1 0 -1.44 0M266.93 85.13a0.72 0.72 0 1 0 1.44 0a0.72 0.72 0 1 0 -1.44 0M268.67 84.77a0.72 0.72 0 1 0 1.44 0a0.72 0.72 0 1 0 -1.44 0M270.73 85.21a0.72 0.72 0 1 0 1.44 0a0.72 0.72 0 1 0 -1.44 0M272.86 85.12a0.72 0.72 0 1 0 1.44 0a0.72 0.72 0 1 0 -1.44 0M275.16 84.92a0.72 0.72 0 1 0 1.44 0a0.72 0.72 0 1 0 -1.44 0M276.96 85.23a0.72 0.72 0 1 0 1.44 0a0.72 0.72 0 1 0 -1.44 0M260.22 82.61a0.72 0.72 0 1 0 1.44 0a0.72 0.72 0 1 0 -1.44 0M262.27 82.64a0.72 0.72 0 1 0 1.44 0a0.72 0.72 0 1 0 -1.44 0M264.3 82.71a0.72 0.72 0 1 0 1.44 0a0.72 0.72 0 1 0 -1.44 0M266.21 82.32a0.72 0.72 0 1 0 1.44 0a0.72 0.72 0 1 0 -1.44 0M267.98 82.25a0.72 0.72 0 1 0 1.44 0a0.72 0.72 0 1 0 -1.44 0M270.05 82.4a0.72 0.72 0 1 0 1.44 0a0.72 0.72 0 1 0 -1.44 0M271.86 82.33a0.72 0.72 0 1 0 1.44 0a0.72 0.72 0 1 0 -1.44 0M273.57 82.68a0.72 0.72 0 1 0 1.44 0a0.72 0.72 0 1 0 -1.44 0M275.56 82.64a0.72 0.72 0 1 0 1.44 0a0.72 0.72 0 1 0 -1.44 0M277.52 82.51a0.72 0.72 0 1 0 1.44 0a0.72 0.72 0 1 0 -1.44 0M279.34 82.33a0.72 0.72 0 1 0 1.44 0a0.72 0.72 0 1 0 -1.44 0M260.26 79.96a0.72 0.72 0 1 0 1.44 0a0.72 0.72 0 1 0 -1.44 0M262.16 80.24a0.72 0.72 0 1 0 1.44 0a0.72 0.72 0 1 0 -1.44 0M263.42 79.82a0.72 0.72 0 1 0 1.44 0a0.72 0.72 0 1 0 -1.44 0M265.11 80.2a0.72 0.72 0 1 0 1.44 0a0.72 0.72 0 1 0 -1.44 0M266.61 80.02a0.72 0.72 0 1 0 1.44 0a0.72 0.72 0 1 0 -1.44 0M268.41 80.13a0.72 0.72 0 1 0 1.44 0a0.72 0.72 0 1 0 -1.44 0M269.99 79.9a0.72 0.72 0 1 0 1.44 0a0.72 0.72 0 1 0 -1.44 0M271.38 79.88a0.72 0.72 0 1 0 1.44 0a0.72 0.72 0 1 0 -1.44 0M272.95 79.88a0.72 0.72 0 1 0 1.44 0a0.72 0.72 0 1 0 -1.44 0M274.61 79.84a0.72 0.72 0 1 0 1.44 0a0.72 0.72 0 1 0 -1.44 0M276.11 79.89a0.72 0.72 0 1 0 1.44 0a0.72 0.72 0 1 0 -1.44 0M277.96 79.84a0.72 0.72 0 1 0 1.44 0a0.72 0.72 0 1 0 -1.44 0M279.21 79.88a0.72 0.72 0 1 0 1.44 0a0.72 0.72 0 1 0 -1.44 0M260.2 77.4a0.72 0.72 0 1 0 1.44 0a0.72 0.72 0 1 0 -1.44 0M261.69 77.34a0.72 0.72 0 1 0 1.44 0a0.72 0.72 0 1 0 -1.44 0M263.49 77.54a0.72 0.72 0 1 0 1.44 0a0.72 0.72 0 1 0 -1.44 0M264.94 77.44a0.72 0.72 0 1 0 1.44 0a0.72 0.72 0 1 0 -1.44 0M266.37 77.47a0.72 0.72 0 1 0 1.44 0a0.72 0.72 0 1 0 -1.44 0M267.59 77.64a0.72 0.72 0 1 0 1.44 0a0.72 0.72 0 1 0 -1.44 0M269.33 77.3a0.72 0.72 0 1 0 1.44 0a0.72 0.72 0 1 0 -1.44 0M270.65 77.56a0.72 0.72 0 1 0 1.44 0a0.72 0.72 0 1 0 -1.44 0M271.96 77.43a0.72 0.72 0 1 0 1.44 0a0.72 0.72 0 1 0 -1.44 0M273.39 77.35a0.72 0.72 0 1 0 1.44 0a0.72 0.72 0 1 0 -1.44 0M274.9 77.55a0.72 0.72 0 1 0 1.44 0a0.72 0.72 0 1 0 -1.44 0M276.52 77.35a0.72 0.72 0 1 0 1.44 0a0.72 0.72 0 1 0 -1.44 0M277.72 77.41a0.72 0.72 0 1 0 1.44 0a0.72 0.72 0 1 0 -1.44 0M279.45 77.34a0.72 0.72 0 1 0 1.44 0a0.72 0.72 0 1 0 -1.44 0M260.45 74.83a0.72 0.72 0 1 0 1.44 0a0.72 0.72 0 1 0 -1.44 0M262.12 75.08a0.72 0.72 0 1 0 1.44 0a0.72 0.72 0 1 0 -1.44 0M263.79 74.89a0.72 0.72 0 1 0 1.44 0a0.72 0.72 0 1 0 -1.44 0M265.76 75.08a0.72 0.72 0 1 0 1.44 0a0.72 0.72 0 1 0 -1.44 0M267.26 74.78a0.72 0.72 0 1 0 1.44 0a0.72 0.72 0 1 0 -1.44 0M269.11 75.19a0.72 0.72 0 1 0 1.44 0a0.72 0.72 0 1 0 -1.44 0M270.71 74.76a0.72 0.72 0 1 0 1.44 0a0.72 0.72 0 1 0 -1.44 0M272.58 75.15a0.72 0.72 0 1 0 1.44 0a0.72 0.72 0 1 0 -1.44 0M274.26 74.95a0.72 0.72 0 1 0 1.44 0a0.72 0.72 0 1 0 -1.44 0M275.89 75.22a0.72 0.72 0 1 0 1.44 0a0.72 0.72 0 1 0 -1.44 0M277.63 74.83a0.72 0.72 0 1 0 1.44 0a0.72 0.72 0 1 0 -1.44 0M279.23 74.8a0.72 0.72 0 1 0 1.44 0a0.72 0.72 0 1 0 -1.44 0M262.76 72.7a0.72 0.72 0 1 0 1.44 0a0.72 0.72 0 1 0 -1.44 0M264.59 72.56a0.72 0.72 0 1 0 1.44 0a0.72 0.72 0 1 0 -1.44 0M266.75 72.5a0.72 0.72 0 1 0 1.44 0a0.72 0.72 0 1 0 -1.44 0M268.71 72.39a0.72 0.72 0 1 0 1.44 0a0.72 0.72 0 1 0 -1.44 0M270.91 72.71a0.72 0.72 0 1 0 1.44 0a0.72 0.72 0 1 0 -1.44 0M272.8 72.5a0.72 0.72 0 1 0 1.44 0a0.72 0.72 0 1 0 -1.44 0M275.13 72.73a0.72 0.72 0 1 0 1.44 0a0.72 0.72 0 1 0 -1.44 0M276.93 72.31a0.72 0.72 0 1 0 1.44 0a0.72 0.72 0 1 0 -1.44 0M266.63 70.21a0.72 0.72 0 1 0 1.44 0a0.72 0.72 0 1 0 -1.44 0M268.81 70.2a0.72 0.72 0 1 0 1.44 0a0.72 0.72 0 1 0 -1.44 0M270.95 70.16a0.72 0.72 0 1 0 1.44 0a0.72 0.72 0 1 0 -1.44 0M272.82 70.14a0.72 0.72 0 1 0 1.44 0a0.72 0.72 0 1 0 -1.44 0M269.77 52.45a0.72 0.72 0 1 0 1.44 0a0.72 0.72 0 1 0 -1.44 0M270.02 60.16a0.72 0.72 0 1 0 1.44 0a0.72 0.72 0 1 0 -1.44 0M269.75 64.86a0.72 0.72 0 1 0 1.44 0a0.72 0.72 0 1 0 -1.44 0M269.84 67.51a0.72 0.72 0 1 0 1.44 0a0.72 0.72 0 1 0 -1.44 0M289.03 84.81a0.72 0.72 0 1 0 1.44 0a0.72 0.72 0 1 0 -1.44 0M288.98 82.61a0.72 0.72 0 1 0 1.44 0a0.72 0.72 0 1 0 -1.44 0M286.07 79.91a0.72 0.72 0 1 0 1.44 0a0.72 0.72 0 1 0 -1.44 0M288.01 79.98a0.72 0.72 0 1 0 1.44 0a0.72 0.72 0 1 0 -1.44 0M290.24 80.14a0.72 0.72 0 1 0 1.44 0a0.72 0.72 0 1 0 -1.44 0M292.21 79.9a0.72 0.72 0 1 0 1.44 0a0.72 0.72 0 1 0 -1.44 0M283.93 77.47a0.72 0.72 0 1 0 1.44 0a0.72 0.72 0 1 0 -1.44 0M285.81 77.56a0.72 0.72 0 1 0 1.44 0a0.72 0.72 0 1 0 -1.44 0M288.05 77.37a0.72 0.72 0 1 0 1.44 0a0.72 0.72 0 1 0 -1.44 0M290.21 77.64a0.72 0.72 0 1 0 1.44 0a0.72 0.72 0 1 0 -1.44 0M292.14 77.34a0.72 0.72 0 1 0 1.44 0a0.72 0.72 0 1 0 -1.44 0M294.19 77.3a0.72 0.72 0 1 0 1.44 0a0.72 0.72 0 1 0 -1.44 0M282.93 75.08a0.72 0.72 0 1 0 1.44 0a0.72 0.72 0 1 0 -1.44 0M284.8 74.82a0.72 0.72 0 1 0 1.44 0a0.72 0.72 0 1 0 -1.44 0M287.2 74.91a0.72 0.72 0 1 0 1.44 0a0.72 0.72 0 1 0 -1.44 0M289.17 74.79a0.72 0.72 0 1 0 1.44 0a0.72 0.72 0 1 0 -1.44 0M291.23 75.2a0.72 0.72 0 1 0 1.44 0a0.72 0.72 0 1 0 -1.44 0M293.24 75.14a0.72 0.72 0 1 0 1.44 0a0.72 0.72 0 1 0 -1.44 0M295.04 74.78a0.72 0.72 0 1 0 1.44 0a0.72 0.72 0 1 0 -1.44 0M281.73 72.43a0.72 0.72 0 1 0 1.44 0a0.72 0.72 0 1 0 -1.44 0M284.06 72.33a0.72 0.72 0 1 0 1.44 0a0.72 0.72 0 1 0 -1.44 0M286.16 72.39a0.72 0.72 0 1 0 1.44 0a0.72 0.72 0 1 0 -1.44 0M288.18 72.32a0.72 0.72 0 1 0 1.44 0a0.72 0.72 0 1 0 -1.44 0M290.11 72.71a0.72 0.72 0 1 0 1.44 0a0.72 0.72 0 1 0 -1.44 0M292.04 72.38a0.72 0.72 0 1 0 1.44 0a0.72 0.72 0 1 0 -1.44 0M294.21 72.41a0.72 0.72 0 1 0 1.44 0a0.72 0.72 0 1 0 -1.44 0M296.07 72.34a0.72 0.72 0 1 0 1.44 0a0.72 0.72 0 1 0 -1.44 0M280.99 69.77a0.72 0.72 0 1 0 1.44 0a0.72 0.72 0 1 0 -1.44 0M283.07 70.23a0.72 0.72 0 1 0 1.44 0a0.72 0.72 0 1 0 -1.44 0M284.96 70.01a0.72 0.72 0 1 0 1.44 0a0.72 0.72 0 1 0 -1.44 0M287.11 70.2a0.72 0.72 0 1 0 1.44 0a0.72 0.72 0 1 0 -1.44 0M288.98 70.02a0.72 0.72 0 1 0 1.44 0a0.72 0.72 0 1 0 -1.44 0M291.27 70.12a0.72 0.72 0 1 0 1.44 0a0.72 0.72 0 1 0 -1.44 0M293.13 69.94a0.72 0.72 0 1 0 1.44 0a0.72 0.72 0 1 0 -1.44 0M295.18 69.82a0.72 0.72 0 1 0 1.44 0a0.72 0.72 0 1 0 -1.44 0M297.21 69.79a0.72 0.72 0 1 0 1.44 0a0.72 0.72 0 1 0 -1.44 0M280.8 67.73a0.72 0.72 0 1 0 1.44 0a0.72 0.72 0 1 0 -1.44 0M283.08 67.71a0.72 0.72 0 1 0 1.44 0a0.72 0.72 0 1 0 -1.44 0M285.14 67.62a0.72 0.72 0 1 0 1.44 0a0.72 0.72 0 1 0 -1.44 0M287.13 67.36a0.72 0.72 0 1 0 1.44 0a0.72 0.72 0 1 0 -1.44 0M289 67.56a0.72 0.72 0 1 0 1.44 0a0.72 0.72 0 1 0 -1.44 0M291.1 67.43a0.72 0.72 0 1 0 1.44 0a0.72 0.72 0 1 0 -1.44 0M293 67.49a0.72 0.72 0 1 0 1.44 0a0.72 0.72 0 1 0 -1.44 0M295.28 67.27a0.72 0.72 0 1 0 1.44 0a0.72 0.72 0 1 0 -1.44 0M297.1 67.53a0.72 0.72 0 1 0 1.44 0a0.72 0.72 0 1 0 -1.44 0M280.92 64.85a0.72 0.72 0 1 0 1.44 0a0.72 0.72 0 1 0 -1.44 0M282.98 64.99a0.72 0.72 0 1 0 1.44 0a0.72 0.72 0 1 0 -1.44 0M284.83 65.22a0.72 0.72 0 1 0 1.44 0a0.72 0.72 0 1 0 -1.44 0M286.93 64.82a0.72 0.72 0 1 0 1.44 0a0.72 0.72 0 1 0 -1.44 0M288.92 65.07a0.72 0.72 0 1 0 1.44 0a0.72 0.72 0 1 0 -1.44 0M291.28 65.14a0.72 0.72 0 1 0 1.44 0a0.72 0.72 0 1 0 -1.44 0M293.14 64.88a0.72 0.72 0 1 0 1.44 0a0.72 0.72 0 1 0 -1.44 0M295.03 65.07a0.72 0.72 0 1 0 1.44 0a0.72 0.72 0 1 0 -1.44 0M297.3 64.93a0.72 0.72 0 1 0 1.44 0a0.72 0.72 0 1 0 -1.44 0M280.84 62.37a0.72 0.72 0 1 0 1.44 0a0.72 0.72 0 1 0 -1.44 0M282.75 62.64a0.72 0.72 0 1 0 1.44 0a0.72 0.72 0 1 0 -1.44 0M284.78 62.53a0.72 0.72 0 1 0 1.44 0a0.72 0.72 0 1 0 -1.44 0M287.21 62.32a0.72 0.72 0 1 0 1.44 0a0.72 0.72 0 1 0 -1.44 0M288.96 62.55a0.72 0.72 0 1 0 1.44 0a0.72 0.72 0 1 0 -1.44 0M291.13 62.57a0.72 0.72 0 1 0 1.44 0a0.72 0.72 0 1 0 -1.44 0M293.31 62.34a0.72 0.72 0 1 0 1.44 0a0.72 0.72 0 1 0 -1.44 0M295.15 62.4a0.72 0.72 0 1 0 1.44 0a0.72 0.72 0 1 0 -1.44 0M297.1 62.69a0.72 0.72 0 1 0 1.44 0a0.72 0.72 0 1 0 -1.44 0M280.75 60.25a0.72 0.72 0 1 0 1.44 0a0.72 0.72 0 1 0 -1.44 0M282.83 60.07a0.72 0.72 0 1 0 1.44 0a0.72 0.72 0 1 0 -1.44 0M284.83 60.2a0.72 0.72 0 1 0 1.44 0a0.72 0.72 0 1 0 -1.44 0M287.2 60.22a0.72 0.72 0 1 0 1.44 0a0.72 0.72 0 1 0 -1.44 0M288.99 59.78a0.72 0.72 0 1 0 1.44 0a0.72 0.72 0 1 0 -1.44 0M291.18 60.09a0.72 0.72 0 1 0 1.44 0a0.72 0.72 0 1 0 -1.44 0M293.25 60.21a0.72 0.72 0 1 0 1.44 0a0.72 0.72 0 1 0 -1.44 0M295.42 59.9a0.72 0.72 0 1 0 1.44 0a0.72 0.72 0 1 0 -1.44 0M297.45 60.2a0.72 0.72 0 1 0 1.44 0a0.72 0.72 0 1 0 -1.44 0M282.08 57.62a0.72 0.72 0 1 0 1.44 0a0.72 0.72 0 1 0 -1.44 0M283.89 57.69a0.72 0.72 0 1 0 1.44 0a0.72 0.72 0 1 0 -1.44 0M285.94 57.37a0.72 0.72 0 1 0 1.44 0a0.72 0.72 0 1 0 -1.44 0M288.22 57.57a0.72 0.72 0 1 0 1.44 0a0.72 0.72 0 1 0 -1.44 0M290.18 57.58a0.72 0.72 0 1 0 1.44 0a0.72 0.72 0 1 0 -1.44 0M292.35 57.48a0.72 0.72 0 1 0 1.44 0a0.72 0.72 0 1 0 -1.44 0M294.34 57.6a0.72 0.72 0 1 0 1.44 0a0.72 0.72 0 1 0 -1.44 0M296.4 57.47a0.72 0.72 0 1 0 1.44 0a0.72 0.72 0 1 0 -1.44 0M284 54.79a0.72 0.72 0 1 0 1.44 0a0.72 0.72 0 1 0 -1.44 0M286.17 54.82a0.72 0.72 0 1 0 1.44 0a0.72 0.72 0 1 0 -1.44 0M287.87 54.8a0.72 0.72 0 1 0 1.44 0a0.72 0.72 0 1 0 -1.44 0M290.28 54.92a0.72 0.72 0 1 0 1.44 0a0.72 0.72 0 1 0 -1.44 0M292.01 54.76a0.72 0.72 0 1 0 1.44 0a0.72 0.72 0 1 0 -1.44 0M294.02 55.1a0.72 0.72 0 1 0 1.44 0a0.72 0.72 0 1 0 -1.44 0M284.81 52.55a0.72 0.72 0 1 0 1.44 0a0.72 0.72 0 1 0 -1.44 0M286.98 52.66a0.72 0.72 0 1 0 1.44 0a0.72 0.72 0 1 0 -1.44 0M289.21 52.7a0.72 0.72 0 1 0 1.44 0a0.72 0.72 0 1 0 -1.44 0M290.96 52.68a0.72 0.72 0 1 0 1.44 0a0.72 0.72 0 1 0 -1.44 0M293.35 52.72a0.72 0.72 0 1 0 1.44 0a0.72 0.72 0 1 0 -1.44 0M286.91 49.81a0.72 0.72 0 1 0 1.44 0a0.72 0.72 0 1 0 -1.44 0M288.89 50.17a0.72 0.72 0 1 0 1.44 0a0.72 0.72 0 1 0 -1.44 0M291.25 50.07a0.72 0.72 0 1 0 1.44 0a0.72 0.72 0 1 0 -1.44 0M289.21 47.57a0.72 0.72 0 1 0 1.44 0a0.72 0.72 0 1 0 -1.44 0M288.05 44.82a0.72 0.72 0 1 0 1.44 0a0.72 0.72 0 1 0 -1.44 0M290.22 45.07a0.72 0.72 0 1 0 1.44 0a0.72 0.72 0 1 0 -1.44 0M289 22.42a0.72 0.72 0 1 0 1.44 0a0.72 0.72 0 1 0 -1.44 0M288.98 32.43a0.72 0.72 0 1 0 1.44 0a0.72 0.72 0 1 0 -1.44 0M289.25 37.27a0.72 0.72 0 1 0 1.44 0a0.72 0.72 0 1 0 -1.44 0M289.18 40.21a0.72 0.72 0 1 0 1.44 0a0.72 0.72 0 1 0 -1.44 0M289.19 42.55a0.72 0.72 0 1 0 1.44 0a0.72 0.72 0 1 0 -1.44 0M367.5 94.86a0.72 0.72 0 1 0 1.44 0a0.72 0.72 0 1 0 -1.44 0M368.98 94.8a0.72 0.72 0 1 0 1.44 0a0.72 0.72 0 1 0 -1.44 0M370.32 94.84a0.72 0.72 0 1 0 1.44 0a0.72 0.72 0 1 0 -1.44 0M371.35 94.85a0.72 0.72 0 1 0 1.44 0a0.72 0.72 0 1 0 -1.44 0M373.01 95.24a0.72 0.72 0 1 0 1.44 0a0.72 0.72 0 1 0 -1.44 0M374.07 95a0.72 0.72 0 1 0 1.44 0a0.72 0.72 0 1 0 -1.44 0M375.62 95.15a0.72 0.72 0 1 0 1.44 0a0.72 0.72 0 1 0 -1.44 0M376.85 95a0.72 0.72 0 1 0 1.44 0a0.72 0.72 0 1 0 -1.44 0M378.28 95.17a0.72 0.72 0 1 0 1.44 0a0.72 0.72 0 1 0 -1.44 0M379.6 95.22a0.72 0.72 0 1 0 1.44 0a0.72 0.72 0 1 0 -1.44 0M380.96 94.86a0.72 0.72 0 1 0 1.44 0a0.72 0.72 0 1 0 -1.44 0M382.49 95a0.72 0.72 0 1 0 1.44 0a0.72 0.72 0 1 0 -1.44 0M383.61 95.07a0.72 0.72 0 1 0 1.44 0a0.72 0.72 0 1 0 -1.44 0M384.96 95.14a0.72 0.72 0 1 0 1.44 0a0.72 0.72 0 1 0 -1.44 0M386.56 95.14a0.72 0.72 0 1 0 1.44 0a0.72 0.72 0 1 0 -1.44 0M373.87 92.45a0.72 0.72 0 1 0 1.44 0a0.72 0.72 0 1 0 -1.44 0M376.11 92.29a0.72 0.72 0 1 0 1.44 0a0.72 0.72 0 1 0 -1.44 0M378.16 92.26a0.72 0.72 0 1 0 1.44 0a0.72 0.72 0 1 0 -1.44 0M379.94 92.38a0.72 0.72 0 1 0 1.44 0a0.72 0.72 0 1 0 -1.44 0M368.72 89.91a0.72 0.72 0 1 0 1.44 0a0.72 0.72 0 1 0 -1.44 0M370.69 90.17a0.72 0.72 0 1 0 1.44 0a0.72 0.72 0 1 0 -1.44 0M372.94 90.12a0.72 0.72 0 1 0 1.44 0a0.72 0.72 0 1 0 -1.44 0M374.8 89.97a0.72 0.72 0 1 0 1.44 0a0.72 0.72 0 1 0 -1.44 0M377.09 90.04a0.72 0.72 0 1 0 1.44 0a0.72 0.72 0 1 0 -1.44 0M378.88 89.98a0.72 0.72 0 1 0 1.44 0a0.72 0.72 0 1 0 -1.44 0M381.23 89.87a0.72 0.72 0 1 0 1.44 0a0.72 0.72 0 1 0 -1.44 0M383.01 89.9a0.72 0.72 0 1 0 1.44 0a0.72 0.72 0 1 0 -1.44 0M385.26 90.17a0.72 0.72 0 1 0 1.44 0a0.72 0.72 0 1 0 -1.44 0M367.66 87.38a0.72 0.72 0 1 0 1.44 0a0.72 0.72 0 1 0 -1.44 0M369.56 87.75a0.72 0.72 0 1 0 1.44 0a0.72 0.72 0 1 0 -1.44 0M371.15 87.58a0.72 0.72 0 1 0 1.44 0a0.72 0.72 0 1 0 -1.44 0M373.06 87.33a0.72 0.72 0 1 0 1.44 0a0.72 0.72 0 1 0 -1.44 0M374.94 87.4a0.72 0.72 0 1 0 1.44 0a0.72 0.72 0 1 0 -1.44 0M376.9 87.39a0.72 0.72 0 1 0 1.44 0a0.72 0.72 0 1 0 -1.44 0M378.72 87.71a0.72 0.72 0 1 0 1.44 0a0.72 0.72 0 1 0 -1.44 0M380.69 87.69a0.72 0.72 0 1 0 1.44 0a0.72 0.72 0 1 0 -1.44 0M382.67 87.26a0.72 0.72 0 1 0 1.44 0a0.72 0.72 0 1 0 -1.44 0M384.72 87.47a0.72 0.72 0 1 0 1.44 0a0.72 0.72 0 1 0 -1.44 0M386.37 87.74a0.72 0.72 0 1 0 1.44 0a0.72 0.72 0 1 0 -1.44 0M372.78 85.12a0.72 0.72 0 1 0 1.44 0a0.72 0.72 0 1 0 -1.44 0M374.73 84.87a0.72 0.72 0 1 0 1.44 0a0.72 0.72 0 1 0 -1.44 0M377.12 85.1a0.72 0.72 0 1 0 1.44 0a0.72 0.72 0 1 0 -1.44 0M379.06 85.07a0.72 0.72 0 1 0 1.44 0a0.72 0.72 0 1 0 -1.44 0M381.22 85.08a0.72 0.72 0 1 0 1.44 0a0.72 0.72 0 1 0 -1.44 0M373.96 82.48a0.72 0.72 0 1 0 1.44 0a0.72 0.72 0 1 0 -1.44 0M375.88 82.56a0.72 0.72 0 1 0 1.44 0a0.72 0.72 0 1 0 -1.44 0M377.84 82.46a0.72 0.72 0 1 0 1.44 0a0.72 0.72 0 1 0 -1.44 0M380.17 82.61a0.72 0.72 0 1 0 1.44 0a0.72 0.72 0 1 0 -1.44 0M373.9 79.76a0.72 0.72 0 1 0 1.44 0a0.72 0.72 0 1 0 -1.44 0M376.1 80.01a0.72 0.72 0 1 0 1.44 0a0.72 0.72 0 1 0 -1.44 0M378.07 80.19a0.72 0.72 0 1 0 1.44 0a0.72 0.72 0 1 0 -1.44 0M380.21 79.91a0.72 0.72 0 1 0 1.44 0a0.72 0.72 0 1 0 -1.44 0M374.07 77.3a0.72 0.72 0 1 0 1.44 0a0.72 0.72 0 1 0 -1.44 0M375.86 77.36a0.72 0.72 0 1 0 1.44 0a0.72 0.72 0 1 0 -1.44 0M378.09 77.73a0.72 0.72 0 1 0 1.44 0a0.72 0.72 0 1 0 -1.44 0M379.93 77.42a0.72 0.72 0 1 0 1.44 0a0.72 0.72 0 1 0 -1.44 0M374.95 75.11a0.72 0.72 0 1 0 1.44 0a0.72 0.72 0 1 0 -1.44 0M376.98 75.07a0.72 0.72 0 1 0 1.44 0a0.72 0.72 0 1 0 -1.44 0M379.16 75.01a0.72 0.72 0 1 0 1.44 0a0.72 0.72 0 1 0 -1.44 0M374.81 72.59a0.72 0.72 0 1 0 1.44 0a0.72 0.72 0 1 0 -1.44 0M376.94 72.63a0.72 0.72 0 1 0 1.44 0a0.72 0.72 0 1 0 -1.44 0M378.88 72.74a0.72 0.72 0 1 0 1.44 0a0.72 0.72 0 1 0 -1.44 0M376.92 69.78a0.72 0.72 0 1 0 1.44 0a0.72 0.72 0 1 0 -1.44 0M376.89 67.45a0.72 0.72 0 1 0 1.44 0a0.72 0.72 0 1 0 -1.44 0M376.79 34.96a0.72 0.72 0 1 0 1.44 0a0.72 0.72 0 1 0 -1.44 0M395.03 94.95a0.72 0.72 0 1 0 1.44 0a0.72 0.72 0 1 0 -1.44 0M397.34 95.24a0.72 0.72 0 1 0 1.44 0a0.72 0.72 0 1 0 -1.44 0M399.4 95.23a0.72 0.72 0 1 0 1.44 0a0.72 0.72 0 1 0 -1.44 0M401.24 94.83a0.72 0.72 0 1 0 1.44 0a0.72 0.72 0 1 0 -1.44 0M403.48 94.78a0.72 0.72 0 1 0 1.44 0a0.72 0.72 0 1 0 -1.44 0M405.47 94.85a0.72 0.72 0 1 0 1.44 0a0.72 0.72 0 1 0 -1.44 0M407.46 95.11a0.72 0.72 0 1 0 1.44 0a0.72 0.72 0 1 0 -1.44 0M409.58 94.82a0.72 0.72 0 1 0 1.44 0a0.72 0.72 0 1 0 -1.44 0M402.35 92.67a0.72 0.72 0 1 0 1.44 0a0.72 0.72 0 1 0 -1.44 0M399.31 90.07a0.72 0.72 0 1 0 1.44 0a0.72 0.72 0 1 0 -1.44 0M401.37 89.98a0.72 0.72 0 1 0 1.44 0a0.72 0.72 0 1 0 -1.44 0M403.42 89.87a0.72 0.72 0 1 0 1.44 0a0.72 0.72 0 1 0 -1.44 0M405.44 90.09a0.72 0.72 0 1 0 1.44 0a0.72 0.72 0 1 0 -1.44 0M395.05 87.58a0.72 0.72 0 1 0 1.44 0a0.72 0.72 0 1 0 -1.44 0M397.08 87.49a0.72 0.72 0 1 0 1.44 0a0.72 0.72 0 1 0 -1.44 0M399.25 87.29a0.72 0.72 0 1 0 1.44 0a0.72 0.72 0 1 0 -1.44 0M401.41 87.33a0.72 0.72 0 1 0 1.44 0a0.72 0.72 0 1 0 -1.44 0M403.23 87.44a0.72 0.72 0 1 0 1.44 0a0.72 0.72 0 1 0 -1.44 0M405.19 87.53a0.72 0.72 0 1 0 1.44 0a0.72 0.72 0 1 0 -1.44 0M407.33 87.72a0.72 0.72 0 1 0 1.44 0a0.72 0.72 0 1 0 -1.44 0M409.47 87.42a0.72 0.72 0 1 0 1.44 0a0.72 0.72 0 1 0 -1.44 0M391.15 84.84a0.72 0.72 0 1 0 1.44 0a0.72 0.72 0 1 0 -1.44 0M393.04 85.14a0.72 0.72 0 1 0 1.44 0a0.72 0.72 0 1 0 -1.44 0M394.99 84.95a0.72 0.72 0 1 0 1.44 0a0.72 0.72 0 1 0 -1.44 0M397.17 85.05a0.72 0.72 0 1 0 1.44 0a0.72 0.72 0 1 0 -1.44 0M399.28 85.24a0.72 0.72 0 1 0 1.44 0a0.72 0.72 0 1 0 -1.44 0M401.09 85.2a0.72 0.72 0 1 0 1.44 0a0.72 0.72 0 1 0 -1.44 0M403.32 85.07a0.72 0.72 0 1 0 1.44 0a0.72 0.72 0 1 0 -1.44 0M405.27 85a0.72 0.72 0 1 0 1.44 0a0.72 0.72 0 1 0 -1.44 0M407.29 84.79a0.72 0.72 0 1 0 1.44 0a0.72 0.72 0 1 0 -1.44 0M409.59 85.09a0.72 0.72 0 1 0 1.44 0a0.72 0.72 0 1 0 -1.44 0M411.35 84.81a0.72 0.72 0 1 0 1.44 0a0.72 0.72 0 1 0 -1.44 0M413.52 85.16a0.72 0.72 0 1 0 1.44 0a0.72 0.72 0 1 0 -1.44 0M390.14 82.41a0.72 0.72 0 1 0 1.44 0a0.72 0.72 0 1 0 -1.44 0M392.2 82.5a0.72 0.72 0 1 0 1.44 0a0.72 0.72 0 1 0 -1.44 0M393.89 82.48a0.72 0.72 0 1 0 1.44 0a0.72 0.72 0 1 0 -1.44 0M395.79 82.75a0.72 0.72 0 1 0 1.44 0a0.72 0.72 0 1 0 -1.44 0M397.73 82.34a0.72 0.72 0 1 0 1.44 0a0.72 0.72 0 1 0 -1.44 0M399.45 82.57a0.72 0.72 0 1 0 1.44 0a0.72 0.72 0 1 0 -1.44 0M401.17 82.27a0.72 0.72 0 1 0 1.44 0a0.72 0.72 0 1 0 -1.44 0M403.3 82.75a0.72 0.72 0 1 0 1.44 0a0.72 0.72 0 1 0 -1.44 0M405.17 82.3a0.72 0.72 0 1 0 1.44 0a0.72 0.72 0 1 0 -1.44 0M406.89 82.63a0.72 0.72 0 1 0 1.44 0a0.72 0.72 0 1 0 -1.44 0M408.6 82.36a0.72 0.72 0 1 0 1.44 0a0.72 0.72 0 1 0 -1.44 0M410.55 82.31a0.72 0.72 0 1 0 1.44 0a0.72 0.72 0 1 0 -1.44 0M412.27 82.58a0.72 0.72 0 1 0 1.44 0a0.72 0.72 0 1 0 -1.44 0M414.22 82.64a0.72 0.72 0 1 0 1.44 0a0.72 0.72 0 1 0 -1.44 0M390.24 80a0.72 0.72 0 1 0 1.44 0a0.72 0.72 0 1 0 -1.44 0M391.9 80a0.72 0.72 0 1 0 1.44 0a0.72 0.72 0 1 0 -1.44 0M393.9 80.08a0.72 0.72 0 1 0 1.44 0a0.72 0.72 0 1 0 -1.44 0M395.54 79.92a0.72 0.72 0 1 0 1.44 0a0.72 0.72 0 1 0 -1.44 0M397.06 79.9a0.72 0.72 0 1 0 1.44 0a0.72 0.72 0 1 0 -1.44 0M398.89 80.07a0.72 0.72 0 1 0 1.44 0a0.72 0.72 0 1 0 -1.44 0M400.68 79.77a0.72 0.72 0 1 0 1.44 0a0.72 0.72 0 1 0 -1.44 0M402.37 80.19a0.72 0.72 0 1 0 1.44 0a0.72 0.72 0 1 0 -1.44 0M404.01 79.77a0.72 0.72 0 1 0 1.44 0a0.72 0.72 0 1 0 -1.44 0M405.63 79.75a0.72 0.72 0 1 0 1.44 0a0.72 0.72 0 1 0 -1.44 0M407.3 80.21a0.72 0.72 0 1 0 1.44 0a0.72 0.72 0 1 0 -1.44 0M409.18 80.08a0.72 0.72 0 1 0 1.44 0a0.72 0.72 0 1 0 -1.44 0M410.97 80.2a0.72 0.72 0 1 0 1.44 0a0.72 0.72 0 1 0 -1.44 0M412.61 80.06a0.72 0.72 0 1 0 1.44 0a0.72 0.72 0 1 0 -1.44 0M414.33 80.1a0.72 0.72 0 1 0 1.44 0a0.72 0.72 0 1 0 -1.44 0M393.2 77.46a0.72 0.72 0 1 0 1.44 0a0.72 0.72 0 1 0 -1.44 0M394.95 77.72a0.72 0.72 0 1 0 1.44 0a0.72 0.72 0 1 0 -1.44 0M396.96 77.69a0.72 0.72 0 1 0 1.44 0a0.72 0.72 0 1 0 -1.44 0M399.06 77.4a0.72 0.72 0 1 0 1.44 0a0.72 0.72 0 1 0 -1.44 0M401.34 77.68a0.72 0.72 0 1 0 1.44 0a0.72 0.72 0 1 0 -1.44 0M403.18 77.27a0.72 0.72 0 1 0 1.44 0a0.72 0.72 0 1 0 -1.44 0M405.16 77.53a0.72 0.72 0 1 0 1.44 0a0.72 0.72 0 1 0 -1.44 0M407.44 77.71a0.72 0.72 0 1 0 1.44 0a0.72 0.72 0 1 0 -1.44 0M409.45 77.51a0.72 0.72 0 1 0 1.44 0a0.72 0.72 0 1 0 -1.44 0M411.63 77.64a0.72 0.72 0 1 0 1.44 0a0.72 0.72 0 1 0 -1.44 0M396.2 75.05a0.72 0.72 0 1 0 1.44 0a0.72 0.72 0 1 0 -1.44 0M398.38 75.08a0.72 0.72 0 1 0 1.44 0a0.72 0.72 0 1 0 -1.44 0M400.09 75.13a0.72 0.72 0 1 0 1.44 0a0.72 0.72 0 1 0 -1.44 0M402.3 74.79a0.72 0.72 0 1 0 1.44 0a0.72 0.72 0 1 0 -1.44 0M404.32 75.2a0.72 0.72 0 1 0 1.44 0a0.72 0.72 0 1 0 -1.44 0M406.43 74.96a0.72 0.72 0 1 0 1.44 0a0.72 0.72 0 1 0 -1.44 0M408.23 75.08a0.72 0.72 0 1 0 1.44 0a0.72 0.72 0 1 0 -1.44 0M395.94 72.61a0.72 0.72 0 1 0 1.44 0a0.72 0.72 0 1 0 -1.44 0M398.08 72.62a0.72 0.72 0 1 0 1.44 0a0.72 0.72 0 1 0 -1.44 0M400.1 72.28a0.72 0.72 0 1 0 1.44 0a0.72 0.72 0 1 0 -1.44 0M402.39 72.61a0.72 0.72 0 1 0 1.44 0a0.72 0.72 0 1 0 -1.44 0M404.47 72.61a0.72 0.72 0 1 0 1.44 0a0.72 0.72 0 1 0 -1.44 0M406.21 72.56a0.72 0.72 0 1 0 1.44 0a0.72 0.72 0 1 0 -1.44 0M408.51 72.48a0.72 0.72 0 1 0 1.44 0a0.72 0.72 0 1 0 -1.44 0M396.28 70.09a0.72 0.72 0 1 0 1.44 0a0.72 0.72 0 1 0 -1.44 0M398.23 69.94a0.72 0.72 0 1 0 1.44 0a0.72 0.72 0 1 0 -1.44 0M400.15 70.05a0.72 0.72 0 1 0 1.44 0a0.72 0.72 0 1 0 -1.44 0M402.46 70.17a0.72 0.72 0 1 0 1.44 0a0.72 0.72 0 1 0 -1.44 0M404.37 69.91a0.72 0.72 0 1 0 1.44 0a0.72 0.72 0 1 0 -1.44 0M406.56 70.11a0.72 0.72 0 1 0 1.44 0a0.72 0.72 0 1 0 -1.44 0M408.42 69.83a0.72 0.72 0 1 0 1.44 0a0.72 0.72 0 1 0 -1.44 0M396.12 67.64a0.72 0.72 0 1 0 1.44 0a0.72 0.72 0 1 0 -1.44 0M398.16 67.39a0.72 0.72 0 1 0 1.44 0a0.72 0.72 0 1 0 -1.44 0M400.33 67.42a0.72 0.72 0 1 0 1.44 0a0.72 0.72 0 1 0 -1.44 0M402.19 67.56a0.72 0.72 0 1 0 1.44 0a0.72 0.72 0 1 0 -1.44 0M404.39 67.65a0.72 0.72 0 1 0 1.44 0a0.72 0.72 0 1 0 -1.44 0M406.42 67.68a0.72 0.72 0 1 0 1.44 0a0.72 0.72 0 1 0 -1.44 0M408.52 67.26a0.72 0.72 0 1 0 1.44 0a0.72 0.72 0 1 0 -1.44 0M397.35 64.87a0.72 0.72 0 1 0 1.44 0a0.72 0.72 0 1 0 -1.44 0M399.16 64.94a0.72 0.72 0 1 0 1.44 0a0.72 0.72 0 1 0 -1.44 0M401.36 64.87a0.72 0.72 0 1 0 1.44 0a0.72 0.72 0 1 0 -1.44 0M403.29 65.09a0.72 0.72 0 1 0 1.44 0a0.72 0.72 0 1 0 -1.44 0M405.28 64.88a0.72 0.72 0 1 0 1.44 0a0.72 0.72 0 1 0 -1.44 0M407.27 65.21a0.72 0.72 0 1 0 1.44 0a0.72 0.72 0 1 0 -1.44 0M398.09 62.68a0.72 0.72 0 1 0 1.44 0a0.72 0.72 0 1 0 -1.44 0M400.35 62.59a0.72 0.72 0 1 0 1.44 0a0.72 0.72 0 1 0 -1.44 0M402.45 62.42a0.72 0.72 0 1 0 1.44 0a0.72 0.72 0 1 0 -1.44 0M404.16 62.53a0.72 0.72 0 1 0 1.44 0a0.72 0.72 0 1 0 -1.44 0M406.5 62.35a0.72 0.72 0 1 0 1.44 0a0.72 0.72 0 1 0 -1.44 0M398.25 59.98a0.72 0.72 0 1 0 1.44 0a0.72 0.72 0 1 0 -1.44 0M400.11 59.88a0.72 0.72 0 1 0 1.44 0a0.72 0.72 0 1 0 -1.44 0M402.38 60.15a0.72 0.72 0 1 0 1.44 0a0.72 0.72 0 1 0 -1.44 0M404.31 59.79a0.72 0.72 0 1 0 1.44 0a0.72 0.72 0 1 0 -1.44 0M406.5 60.14a0.72 0.72 0 1 0 1.44 0a0.72 0.72 0 1 0 -1.44 0M400.26 57.7a0.72 0.72 0 1 0 1.44 0a0.72 0.72 0 1 0 -1.44 0M402.43 57.51a0.72 0.72 0 1 0 1.44 0a0.72 0.72 0 1 0 -1.44 0M404.32 57.54a0.72 0.72 0 1 0 1.44 0a0.72 0.72 0 1 0 -1.44 0M401.14 54.8a0.72 0.72 0 1 0 1.44 0a0.72 0.72 0 1 0 -1.44 0M403.43 54.89a0.72 0.72 0 1 0 1.44 0a0.72 0.72 0 1 0 -1.44 0M402.31 52.43a0.72 0.72 0 1 0 1.44 0a0.72 0.72 0 1 0 -1.44 0M402.39 50.18a0.72 0.72 0 1 0 1.44 0a0.72 0.72 0 1 0 -1.44 0M499.88 92.71a0.72 0.72 0 1 0 1.44 0a0.72 0.72 0 1 0 -1.44 0M498.9 89.8a0.72 0.72 0 1 0 1.44 0a0.72 0.72 0 1 0 -1.44 0M501.06 90.14a0.72 0.72 0 1 0 1.44 0a0.72 0.72 0 1 0 -1.44 0M497.97 87.42a0.72 0.72 0 1 0 1.44 0a0.72 0.72 0 1 0 -1.44 0M499.99 87.26a0.72 0.72 0 1 0 1.44 0a0.72 0.72 0 1 0 -1.44 0M501.84 87.75a0.72 0.72 0 1 0 1.44 0a0.72 0.72 0 1 0 -1.44 0M494.83 85.22a0.72 0.72 0 1 0 1.44 0a0.72 0.72 0 1 0 -1.44 0M497.01 85.16a0.72 0.72 0 1 0 1.44 0a0.72 0.72 0 1 0 -1.44 0M499.14 84.88a0.72 0.72 0 1 0 1.44 0a0.72 0.72 0 1 0 -1.44 0M500.82 84.85a0.72 0.72 0 1 0 1.44 0a0.72 0.72 0 1 0 -1.44 0M502.93 84.79a0.72 0.72 0 1 0 1.44 0a0.72 0.72 0 1 0 -1.44 0M504.93 85.03a0.72 0.72 0 1 0 1.44 0a0.72 0.72 0 1 0 -1.44 0M492.71 82.53a0.72 0.72 0 1 0 1.44 0a0.72 0.72 0 1 0 -1.44 0M494.91 82.73a0.72 0.72 0 1 0 1.44 0a0.72 0.72 0 1 0 -1.44 0M496.97 82.45a0.72 0.72 0 1 0 1.44 0a0.72 0.72 0 1 0 -1.44 0M498.93 82.33a0.72 0.72 0 1 0 1.44 0a0.72 0.72 0 1 0 -1.44 0M501.19 82.75a0.72 0.72 0 1 0 1.44 0a0.72 0.72 0 1 0 -1.44 0M502.94 82.27a0.72 0.72 0 1 0 1.44 0a0.72 0.72 0 1 0 -1.44 0M505.01 82.43a0.72 0.72 0 1 0 1.44 0a0.72 0.72 0 1 0 -1.44 0M507.32 82.7a0.72 0.72 0 1 0 1.44 0a0.72 0.72 0 1 0 -1.44 0M490.83 79.9a0.72 0.72 0 1 0 1.44 0a0.72 0.72 0 1 0 -1.44 0M492.84 80.13a0.72 0.72 0 1 0 1.44 0a0.72 0.72 0 1 0 -1.44 0M494.7 79.91a0.72 0.72 0 1 0 1.44 0a0.72 0.72 0 1 0 -1.44 0M496.81 79.81a0.72 0.72 0 1 0 1.44 0a0.72 0.72 0 1 0 -1.44 0M498.95 79.83a0.72 0.72 0 1 0 1.44 0a0.72 0.72 0 1 0 -1.44 0M500.9 79.82a0.72 0.72 0 1 0 1.44 0a0.72 0.72 0 1 0 -1.44 0M503.13 79.76a0.72 0.72 0 1 0 1.44 0a0.72 0.72 0 1 0 -1.44 0M505.19 79.85a0.72 0.72 0 1 0 1.44 0a0.72 0.72 0 1 0 -1.44 0M506.97 80.21a0.72 0.72 0 1 0 1.44 0a0.72 0.72 0 1 0 -1.44 0M509.09 80.22a0.72 0.72 0 1 0 1.44 0a0.72 0.72 0 1 0 -1.44 0M488.83 77.49a0.72 0.72 0 1 0 1.44 0a0.72 0.72 0 1 0 -1.44 0M490.81 77.32a0.72 0.72 0 1 0 1.44 0a0.72 0.72 0 1 0 -1.44 0M492.69 77.28a0.72 0.72 0 1 0 1.44 0a0.72 0.72 0 1 0 -1.44 0M494.94 77.53a0.72 0.72 0 1 0 1.44 0a0.72 0.72 0 1 0 -1.44 0M496.76 77.69a0.72 0.72 0 1 0 1.44 0a0.72 0.72 0 1 0 -1.44 0M498.86 77.46a0.72 0.72 0 1 0 1.44 0a0.72 0.72 0 1 0 -1.44 0M500.87 77.39a0.72 0.72 0 1 0 1.44 0a0.72 0.72 0 1 0 -1.44 0M503.19 77.42a0.72 0.72 0 1 0 1.44 0a0.72 0.72 0 1 0 -1.44 0M504.97 77.5a0.72 0.72 0 1 0 1.44 0a0.72 0.72 0 1 0 -1.44 0M507.08 77.7a0.72 0.72 0 1 0 1.44 0a0.72 0.72 0 1 0 -1.44 0M509.05 77.74a0.72 0.72 0 1 0 1.44 0a0.72 0.72 0 1 0 -1.44 0M511.08 77.7a0.72 0.72 0 1 0 1.44 0a0.72 0.72 0 1 0 -1.44 0M488.15 74.8a0.72 0.72 0 1 0 1.44 0a0.72 0.72 0 1 0 -1.44 0M489.9 75.2a0.72 0.72 0 1 0 1.44 0a0.72 0.72 0 1 0 -1.44 0M491.8 75.11a0.72 0.72 0 1 0 1.44 0a0.72 0.72 0 1 0 -1.44 0M493.9 75.24a0.72 0.72 0 1 0 1.44 0a0.72 0.72 0 1 0 -1.44 0M495.79 75.15a0.72 0.72 0 1 0 1.44 0a0.72 0.72 0 1 0 -1.44 0M497.92 74.82a0.72 0.72 0 1 0 1.44 0a0.72 0.72 0 1 0 -1.44 0M499.78 75.17a0.72 0.72 0 1 0 1.44 0a0.72 0.72 0 1 0 -1.44 0M501.99 74.84a0.72 0.72 0 1 0 1.44 0a0.72 0.72 0 1 0 -1.44 0M503.95 75.21a0.72 0.72 0 1 0 1.44 0a0.72 0.72 0 1 0 -1.44 0M505.87 75.04a0.72 0.72 0 1 0 1.44 0a0.72 0.72 0 1 0 -1.44 0M507.84 74.84a0.72 0.72 0 1 0 1.44 0a0.72 0.72 0 1 0 -1.44 0M510.09 75.11a0.72 0.72 0 1 0 1.44 0a0.72 0.72 0 1 0 -1.44 0M511.86 74.79a0.72 0.72 0 1 0 1.44 0a0.72 0.72 0 1 0 -1.44 0M487.81 72.62a0.72 0.72 0 1 0 1.44 0a0.72 0.72 0 1 0 -1.44 0M489.79 72.61a0.72 0.72 0 1 0 1.44 0a0.72 0.72 0 1 0 -1.44 0M491.49 72.66a0.72 0.72 0 1 0 1.44 0a0.72 0.72 0 1 0 -1.44 0M493.45 72.67a0.72 0.72 0 1 0 1.44 0a0.72 0.72 0 1 0 -1.44 0M495.51 72.5a0.72 0.72 0 1 0 1.44 0a0.72 0.72 0 1 0 -1.44 0M497.02 72.71a0.72 0.72 0 1 0 1.44 0a0.72 0.72 0 1 0 -1.44 0M499.05 72.69a0.72 0.72 0 1 0 1.44 0a0.72 0.72 0 1 0 -1.44 0M500.81 72.34a0.72 0.72 0 1 0 1.44 0a0.72 0.72 0 1 0 -1.44 0M502.88 72.43a0.72 0.72 0 1 0 1.44 0a0.72 0.72 0 1 0 -1.44 0M504.46 72.44a0.72 0.72 0 1 0 1.44 0a0.72 0.72 0 1 0 -1.44 0M506.48 72.25a0.72 0.72 0 1 0 1.44 0a0.72 0.72 0 1 0 -1.44 0M508.3 72.47a0.72 0.72 0 1 0 1.44 0a0.72 0.72 0 1 0 -1.44 0M510.14 72.31a0.72 0.72 0 1 0 1.44 0a0.72 0.72 0 1 0 -1.44 0M512.07 72.66a0.72 0.72 0 1 0 1.44 0a0.72 0.72 0 1 0 -1.44 0M487.99 70.02a0.72 0.72 0 1 0 1.44 0a0.72 0.72 0 1 0 -1.44 0M489.63 70.23a0.72 0.72 0 1 0 1.44 0a0.72 0.72 0 1 0 -1.44 0M491.56 69.84a0.72 0.72 0 1 0 1.44 0a0.72 0.72 0 1 0 -1.44 0M493.36 69.88a0.72 0.72 0 1 0 1.44 0a0.72 0.72 0 1 0 -1.44 0M495.49 69.77a0.72 0.72 0 1 0 1.44 0a0.72 0.72 0 1 0 -1.44 0M497.05 70.1a0.72 0.72 0 1 0 1.44 0a0.72 0.72 0 1 0 -1.44 0M498.93 69.76a0.72 0.72 0 1 0 1.44 0a0.72 0.72 0 1 0 -1.44 0M500.94 70.04a0.72 0.72 0 1 0 1.44 0a0.72 0.72 0 1 0 -1.44 0M502.76 70.1a0.72 0.72 0 1 0 1.44 0a0.72 0.72 0 1 0 -1.44 0M504.44 70.18a0.72 0.72 0 1 0 1.44 0a0.72 0.72 0 1 0 -1.44 0M506.53 69.77a0.72 0.72 0 1 0 1.44 0a0.72 0.72 0 1 0 -1.44 0M508.14 70a0.72 0.72 0 1 0 1.44 0a0.72 0.72 0 1 0 -1.44 0M510.13 69.89a0.72 0.72 0 1 0 1.44 0a0.72 0.72 0 1 0 -1.44 0M511.83 69.95a0.72 0.72 0 1 0 1.44 0a0.72 0.72 0 1 0 -1.44 0M487.94 67.72a0.72 0.72 0 1 0 1.44 0a0.72 0.72 0 1 0 -1.44 0M489.81 67.42a0.72 0.72 0 1 0 1.44 0a0.72 0.72 0 1 0 -1.44 0M491.3 67.42a0.72 0.72 0 1 0 1.44 0a0.72 0.72 0 1 0 -1.44 0M493.1 67.74a0.72 0.72 0 1 0 1.44 0a0.72 0.72 0 1 0 -1.44 0M494.96 67.71a0.72 0.72 0 1 0 1.44 0a0.72 0.72 0 1 0 -1.44 0M496.68 67.67a0.72 0.72 0 1 0 1.44 0a0.72 0.72 0 1 0 -1.44 0M498.09 67.51a0.72 0.72 0 1 0 1.44 0a0.72 0.72 0 1 0 -1.44 0M500.16 67.72a0.72 0.72 0 1 0 1.44 0a0.72 0.72 0 1 0 -1.44 0M501.59 67.46a0.72 0.72 0 1 0 1.44 0a0.72 0.72 0 1 0 -1.44 0M503.46 67.43a0.72 0.72 0 1 0 1.44 0a0.72 0.72 0 1 0 -1.44 0M505.14 67.28a0.72 0.72 0 1 0 1.44 0a0.72 0.72 0 1 0 -1.44 0M506.81 67.5a0.72 0.72 0 1 0 1.44 0a0.72 0.72 0 1 0 -1.44 0M508.36 67.32a0.72 0.72 0 1 0 1.44 0a0.72 0.72 0 1 0 -1.44 0M510.45 67.64a0.72 0.72 0 1 0 1.44 0a0.72 0.72 0 1 0 -1.44 0M512.15 67.57a0.72 0.72 0 1 0 1.44 0a0.72 0.72 0 1 0 -1.44 0M490.66 65.01a0.72 0.72 0 1 0 1.44 0a0.72 0.72 0 1 0 -1.44 0M492.78 65.23a0.72 0.72 0 1 0 1.44 0a0.72 0.72 0 1 0 -1.44 0M494.77 64.9a0.72 0.72 0 1 0 1.44 0a0.72 0.72 0 1 0 -1.44 0M496.96 64.81a0.72 0.72 0 1 0 1.44 0a0.72 0.72 0 1 0 -1.44 0M498.99 65.23a0.72 0.72 0 1 0 1.44 0a0.72 0.72 0 1 0 -1.44 0M501.01 64.88a0.72 0.72 0 1 0 1.44 0a0.72 0.72 0 1 0 -1.44 0M503.04 65.02a0.72 0.72 0 1 0 1.44 0a0.72 0.72 0 1 0 -1.44 0M504.96 64.81a0.72 0.72 0 1 0 1.44 0a0.72 0.72 0 1 0 -1.44 0M507.01 64.9a0.72 0.72 0 1 0 1.44 0a0.72 0.72 0 1 0 -1.44 0M509.17 64.89a0.72 0.72 0 1 0 1.44 0a0.72 0.72 0 1 0 -1.44 0M489.61 62.61a0.72 0.72 0 1 0 1.44 0a0.72 0.72 0 1 0 -1.44 0M491.76 62.52a0.72 0.72 0 1 0 1.44 0a0.72 0.72 0 1 0 -1.44 0M493.88 62.48a0.72 0.72 0 1 0 1.44 0a0.72 0.72 0 1 0 -1.44 0M495.8 62.37a0.72 0.72 0 1 0 1.44 0a0.72 0.72 0 1 0 -1.44 0M497.82 62.51a0.72 0.72 0 1 0 1.44 0a0.72 0.72 0 1 0 -1.44 0M499.93 62.54a0.72 0.72 0 1 0 1.44 0a0.72 0.72 0 1 0 -1.44 0M501.83 62.43a0.72 0.72 0 1 0 1.44 0a0.72 0.72 0 1 0 -1.44 0M504.22 62.37a0.72 0.72 0 1 0 1.44 0a0.72 0.72 0 1 0 -1.44 0M506.15 62.5a0.72 0.72 0 1 0 1.44 0a0.72 0.72 0 1 0 -1.44 0M508.09 62.74a0.72 0.72 0 1 0 1.44 0a0.72 0.72 0 1 0 -1.44 0M510.15 62.64a0.72 0.72 0 1 0 1.44 0a0.72 0.72 0 1 0 -1.44 0M490.89 59.93a0.72 0.72 0 1 0 1.44 0a0.72 0.72 0 1 0 -1.44 0M492.91 60.01a0.72 0.72 0 1 0 1.44 0a0.72 0.72 0 1 0 -1.44 0M495.05 60.09a0.72 0.72 0 1 0 1.44 0a0.72 0.72 0 1 0 -1.44 0M497.08 59.96a0.72 0.72 0 1 0 1.44 0a0.72 0.72 0 1 0 -1.44 0M499.02 59.82a0.72 0.72 0 1 0 1.44 0a0.72 0.72 0 1 0 -1.44 0M500.89 60.06a0.72 0.72 0 1 0 1.44 0a0.72 0.72 0 1 0 -1.44 0M502.97 60.17a0.72 0.72 0 1 0 1.44 0a0.72 0.72 0 1 0 -1.44 0M504.94 60.18a0.72 0.72 0 1 0 1.44 0a0.72 0.72 0 1 0 -1.44 0M507.32 60.25a0.72 0.72 0 1 0 1.44 0a0.72 0.72 0 1 0 -1.44 0M509.11 60.07a0.72 0.72 0 1 0 1.44 0a0.72 0.72 0 1 0 -1.44 0M490.94 57.54a0.72 0.72 0 1 0 1.44 0a0.72 0.72 0 1 0 -1.44 0M492.77 57.64a0.72 0.72 0 1 0 1.44 0a0.72 0.72 0 1 0 -1.44 0M495 57.55a0.72 0.72 0 1 0 1.44 0a0.72 0.72 0 1 0 -1.44 0M496.86 57.48a0.72 0.72 0 1 0 1.44 0a0.72 0.72 0 1 0 -1.44 0M498.94 57.61a0.72 0.72 0 1 0 1.44 0a0.72 0.72 0 1 0 -1.44 0M500.92 57.45a0.72 0.72 0 1 0 1.44 0a0.72 0.72 0 1 0 -1.44 0M503.08 57.44a0.72 0.72 0 1 0 1.44 0a0.72 0.72 0 1 0 -1.44 0M505.03 57.64a0.72 0.72 0 1 0 1.44 0a0.72 0.72 0 1 0 -1.44 0M507.29 57.5a0.72 0.72 0 1 0 1.44 0a0.72 0.72 0 1 0 -1.44 0M509.18 57.34a0.72 0.72 0 1 0 1.44 0a0.72 0.72 0 1 0 -1.44 0M490.68 55.17a0.72 0.72 0 1 0 1.44 0a0.72 0.72 0 1 0 -1.44 0M492.94 55.23a0.72 0.72 0 1 0 1.44 0a0.72 0.72 0 1 0 -1.44 0M494.74 54.96a0.72 0.72 0 1 0 1.44 0a0.72 0.72 0 1 0 -1.44 0M497.07 54.76a0.72 0.72 0 1 0 1.44 0a0.72 0.72 0 1 0 -1.44 0M498.77 55.03a0.72 0.72 0 1 0 1.44 0a0.72 0.72 0 1 0 -1.44 0M501 55.21a0.72 0.72 0 1 0 1.44 0a0.72 0.72 0 1 0 -1.44 0M503.16 55.02a0.72 0.72 0 1 0 1.44 0a0.72 0.72 0 1 0 -1.44 0M505.3 55.01a0.72 0.72 0 1 0 1.44 0a0.72 0.72 0 1 0 -1.44 0M507.16 55.09a0.72 0.72 0 1 0 1.44 0a0.72 0.72 0 1 0 -1.44 0M509.16 54.93a0.72 0.72 0 1 0 1.44 0a0.72 0.72 0 1 0 -1.44 0M492.75 52.45a0.72 0.72 0 1 0 1.44 0a0.72 0.72 0 1 0 -1.44 0M494.88 52.54a0.72 0.72 0 1 0 1.44 0a0.72 0.72 0 1 0 -1.44 0M497.06 52.73a0.72 0.72 0 1 0 1.44 0a0.72 0.72 0 1 0 -1.44 0M498.95 52.47a0.72 0.72 0 1 0 1.44 0a0.72 0.72 0 1 0 -1.44 0M501.05 52.75a0.72 0.72 0 1 0 1.44 0a0.72 0.72 0 1 0 -1.44 0M502.99 52.52a0.72 0.72 0 1 0 1.44 0a0.72 0.72 0 1 0 -1.44 0M505.23 52.34a0.72 0.72 0 1 0 1.44 0a0.72 0.72 0 1 0 -1.44 0M507.08 52.74a0.72 0.72 0 1 0 1.44 0a0.72 0.72 0 1 0 -1.44 0M492.93 50.25a0.72 0.72 0 1 0 1.44 0a0.72 0.72 0 1 0 -1.44 0M495.01 49.96a0.72 0.72 0 1 0 1.44 0a0.72 0.72 0 1 0 -1.44 0M496.77 49.89a0.72 0.72 0 1 0 1.44 0a0.72 0.72 0 1 0 -1.44 0M498.96 50a0.72 0.72 0 1 0 1.44 0a0.72 0.72 0 1 0 -1.44 0M500.88 49.84a0.72 0.72 0 1 0 1.44 0a0.72 0.72 0 1 0 -1.44 0M503.11 50.05a0.72 0.72 0 1 0 1.44 0a0.72 0.72 0 1 0 -1.44 0M505.05 50.25a0.72 0.72 0 1 0 1.44 0a0.72 0.72 0 1 0 -1.44 0M507.21 49.77a0.72 0.72 0 1 0 1.44 0a0.72 0.72 0 1 0 -1.44 0M494 47.45a0.72 0.72 0 1 0 1.44 0a0.72 0.72 0 1 0 -1.44 0M495.72 47.26a0.72 0.72 0 1 0 1.44 0a0.72 0.72 0 1 0 -1.44 0M497.74 47.34a0.72 0.72 0 1 0 1.44 0a0.72 0.72 0 1 0 -1.44 0M500.09 47.53a0.72 0.72 0 1 0 1.44 0a0.72 0.72 0 1 0 -1.44 0M502.18 47.7a0.72 0.72 0 1 0 1.44 0a0.72 0.72 0 1 0 -1.44 0M504.09 47.32a0.72 0.72 0 1 0 1.44 0a0.72 0.72 0 1 0 -1.44 0M506.01 47.55a0.72 0.72 0 1 0 1.44 0a0.72 0.72 0 1 0 -1.44 0M494.69 45.22a0.72 0.72 0 1 0 1.44 0a0.72 0.72 0 1 0 -1.44 0M496.9 44.98a0.72 0.72 0 1 0 1.44 0a0.72 0.72 0 1 0 -1.44 0M498.93 45.15a0.72 0.72 0 1 0 1.44 0a0.72 0.72 0 1 0 -1.44 0M501.07 45.09a0.72 0.72 0 1 0 1.44 0a0.72 0.72 0 1 0 -1.44 0M503.09 44.82a0.72 0.72 0 1 0 1.44 0a0.72 0.72 0 1 0 -1.44 0M505 44.89a0.72 0.72 0 1 0 1.44 0a0.72 0.72 0 1 0 -1.44 0M496.02 42.72a0.72 0.72 0 1 0 1.44 0a0.72 0.72 0 1 0 -1.44 0M497.76 42.35a0.72 0.72 0 1 0 1.44 0a0.72 0.72 0 1 0 -1.44 0M500.03 42.26a0.72 0.72 0 1 0 1.44 0a0.72 0.72 0 1 0 -1.44 0M501.92 42.45a0.72 0.72 0 1 0 1.44 0a0.72 0.72 0 1 0 -1.44 0M504.19 42.27a0.72 0.72 0 1 0 1.44 0a0.72 0.72 0 1 0 -1.44 0M496.8 39.77a0.72 0.72 0 1 0 1.44 0a0.72 0.72 0 1 0 -1.44 0M499.13 40.18a0.72 0.72 0 1 0 1.44 0a0.72 0.72 0 1 0 -1.44 0M500.93 40.2a0.72 0.72 0 1 0 1.44 0a0.72 0.72 0 1 0 -1.44 0M503.18 39.9a0.72 0.72 0 1 0 1.44 0a0.72 0.72 0 1 0 -1.44 0M499.14 37.5a0.72 0.72 0 1 0 1.44 0a0.72 0.72 0 1 0 -1.44 0M501.18 37.37a0.72 0.72 0 1 0 1.44 0a0.72 0.72 0 1 0 -1.44 0M499.94 35.11a0.72 0.72 0 1 0 1.44 0a0.72 0.72 0 1 0 -1.44 0M499.87 32.4a0.72 0.72 0 1 0 1.44 0a0.72 0.72 0 1 0 -1.44 0M500.13 29.99a0.72 0.72 0 1 0 1.44 0a0.72 0.72 0 1 0 -1.44 0M498.79 27.33a0.72 0.72 0 1 0 1.44 0a0.72 0.72 0 1 0 -1.44 0M500.96 27.25a0.72 0.72 0 1 0 1.44 0a0.72 0.72 0 1 0 -1.44 0M80.85 217.52a0.72 0.72 0 1 0 1.44 0a0.72 0.72 0 1 0 -1.44 0M83.01 217.45a0.72 0.72 0 1 0 1.44 0a0.72 0.72 0 1 0 -1.44 0M84.93 217.31a0.72 0.72 0 1 0 1.44 0a0.72 0.72 0 1 0 -1.44 0M87.29 217.43a0.72 0.72 0 1 0 1.44 0a0.72 0.72 0 1 0 -1.44 0M77.82 214.77a0.72 0.72 0 1 0 1.44 0a0.72 0.72 0 1 0 -1.44 0M80.05 214.92a0.72 0.72 0 1 0 1.44 0a0.72 0.72 0 1 0 -1.44 0M81.89 215.1a0.72 0.72 0 1 0 1.44 0a0.72 0.72 0 1 0 -1.44 0M83.92 214.88a0.72 0.72 0 1 0 1.44 0a0.72 0.72 0 1 0 -1.44 0M86.26 214.81a0.72 0.72 0 1 0 1.44 0a0.72 0.72 0 1 0 -1.44 0M88.16 215.17a0.72 0.72 0 1 0 1.44 0a0.72 0.72 0 1 0 -1.44 0M90.35 214.83a0.72 0.72 0 1 0 1.44 0a0.72 0.72 0 1 0 -1.44 0M73.72 212.48a0.72 0.72 0 1 0 1.44 0a0.72 0.72 0 1 0 -1.44 0M75.73 212.6a0.72 0.72 0 1 0 1.44 0a0.72 0.72 0 1 0 -1.44 0M77.83 212.7a0.72 0.72 0 1 0 1.44 0a0.72 0.72 0 1 0 -1.44 0M80.02 212.43a0.72 0.72 0 1 0 1.44 0a0.72 0.72 0 1 0 -1.44 0M81.93 212.55a0.72 0.72 0 1 0 1.44 0a0.72 0.72 0 1 0 -1.44 0M83.97 212.69a0.72 0.72 0 1 0 1.44 0a0.72 0.72 0 1 0 -1.44 0M85.98 212.51a0.72 0.72 0 1 0 1.44 0a0.72 0.72 0 1 0 -1.44 0M88.2 212.39a0.72 0.72 0 1 0 1.44 0a0.72 0.72 0 1 0 -1.44 0M90.34 212.44a0.72 0.72 0 1 0 1.44 0a0.72 0.72 0 1 0 -1.44 0M92.34 212.53a0.72 0.72 0 1 0 1.44 0a0.72 0.72 0 1 0 -1.44 0M94.25 212.44a0.72 0.72 0 1 0 1.44 0a0.72 0.72 0 1 0 -1.44 0M72.96 210.11a0.72 0.72 0 1 0 1.44 0a0.72 0.72 0 1 0 -1.44 0M74.92 209.89a0.72 0.72 0 1 0 1.44 0a0.72 0.72 0 1 0 -1.44 0M77.21 209.95a0.72 0.72 0 1 0 1.44 0a0.72 0.72 0 1 0 -1.44 0M79.02 210.17a0.72 0.72 0 1 0 1.44 0a0.72 0.72 0 1 0 -1.44 0M81.07 210.06a0.72 0.72 0 1 0 1.44 0a0.72 0.72 0 1 0 -1.44 0M83.13 210.18a0.72 0.72 0 1 0 1.44 0a0.72 0.72 0 1 0 -1.44 0M85.25 209.84a0.72 0.72 0 1 0 1.44 0a0.72 0.72 0 1 0 -1.44 0M87.03 210.15a0.72 0.72 0 1 0 1.44 0a0.72 0.72 0 1 0 -1.44 0M89.16 210.2a0.72 0.72 0 1 0 1.44 0a0.72 0.72 0 1 0 -1.44 0M90.89 210.1a0.72 0.72 0 1 0 1.44 0a0.72 0.72 0 1 0 -1.44 0M93.07 210.25a0.72 0.72 0 1 0 1.44 0a0.72 0.72 0 1 0 -1.44 0M95.04 210.2a0.72 0.72 0 1 0 1.44 0a0.72 0.72 0 1 0 -1.44 0M78.02 207.27a0.72 0.72 0 1 0 1.44 0a0.72 0.72 0 1 0 -1.44 0M79.8 207.33a0.72 0.72 0 1 0 1.44 0a0.72 0.72 0 1 0 -1.44 0M81.91 207.4a0.72 0.72 0 1 0 1.44 0a0.72 0.72 0 1 0 -1.44 0M84.03 207.27a0.72 0.72 0 1 0 1.44 0a0.72 0.72 0 1 0 -1.44 0M86.05 207.57a0.72 0.72 0 1 0 1.44 0a0.72 0.72 0 1 0 -1.44 0M88.05 207.67a0.72 0.72 0 1 0 1.44 0a0.72 0.72 0 1 0 -1.44 0M90.26 207.61a0.72 0.72 0 1 0 1.44 0a0.72 0.72 0 1 0 -1.44 0M78.06 205.14a0.72 0.72 0 1 0 1.44 0a0.72 0.72 0 1 0 -1.44 0M79.89 204.77a0.72 0.72 0 1 0 1.44 0a0.72 0.72 0 1 0 -1.44 0M82.17 205.05a0.72 0.72 0 1 0 1.44 0a0.72 0.72 0 1 0 -1.44 0M83.9 204.87a0.72 0.72 0 1 0 1.44 0a0.72 0.72 0 1 0 -1.44 0M85.97 205.15a0.72 0.72 0 1 0 1.44 0a0.72 0.72 0 1 0 -1.44 0M88.06 205.21a0.72 0.72 0 1 0 1.44 0a0.72 0.72 0 1 0 -1.44 0M90.33 204.79a0.72 0.72 0 1 0 1.44 0a0.72 0.72 0 1 0 -1.44 0M78.89 202.72a0.72 0.72 0 1 0 1.44 0a0.72 0.72 0 1 0 -1.44 0M80.98 202.42a0.72 0.72 0 1 0 1.44 0a0.72 0.72 0 1 0 -1.44 0M83.06 202.59a0.72 0.72 0 1 0 1.44 0a0.72 0.72 0 1 0 -1.44 0M85.24 202.56a0.72 0.72 0 1 0 1.44 0a0.72 0.72 0 1 0 -1.44 0M87.16 202.59a0.72 0.72 0 1 0 1.44 0a0.72 0.72 0 1 0 -1.44 0M89.09 202.59a0.72 0.72 0 1 0 1.44 0a0.72 0.72 0 1 0 -1.44 0M80.16 200.16a0.72 0.72 0 1 0 1.44 0a0.72 0.72 0 1 0 -1.44 0M82.05 199.84a0.72 0.72 0 1 0 1.44 0a0.72 0.72 0 1 0 -1.44 0M83.95 200.14a0.72 0.72 0 1 0 1.44 0a0.72 0.72 0 1 0 -1.44 0M86.02 199.88a0.72 0.72 0 1 0 1.44 0a0.72 0.72 0 1 0 -1.44 0M88.37 199.83a0.72 0.72 0 1 0 1.44 0a0.72 0.72 0 1 0 -1.44 0M81.87 197.57a0.72 0.72 0 1 0 1.44 0a0.72 0.72 0 1 0 -1.44 0M83.93 197.59a0.72 0.72 0 1 0 1.44 0a0.72 0.72 0 1 0 -1.44 0M86.12 197.49a0.72 0.72 0 1 0 1.44 0a0.72 0.72 0 1 0 -1.44 0M82.86 195.1a0.72 0.72 0 1 0 1.44 0a0.72 0.72 0 1 0 -1.44 0M84.96 195.07a0.72 0.72 0 1 0 1.44 0a0.72 0.72 0 1 0 -1.44 0M82.91 192.6a0.72 0.72 0 1 0 1.44 0a0.72 0.72 0 1 0 -1.44 0M85.14 192.37a0.72 0.72 0 1 0 1.44 0a0.72 0.72 0 1 0 -1.44 0M84.13 189.81a0.72 0.72 0 1 0 1.44 0a0.72 0.72 0 1 0 -1.44 0M109.28 179.98a0.72 0.72 0 1 0 1.44 0a0.72 0.72 0 1 0 -1.44 0M109.88 193.07a0.72 0.72 0 1 0 1.44 0a0.72 0.72 0 1 0 -1.44 0M108.68 195.22a0.72 0.72 0 1 0 1.44 0a0.72 0.72 0 1 0 -1.44 0M110.48 196.9a0.72 0.72 0 1 0 1.44 0a0.72 0.72 0 1 0 -1.44 0M107.88 197.46a0.72 0.72 0 1 0 1.44 0a0.72 0.72 0 1 0 -1.44 0M108.88 198.12a0.72 0.72 0 1 0 1.44 0a0.72 0.72 0 1 0 -1.44 0M109.48 196.53a0.72 0.72 0 1 0 1.44 0a0.72 0.72 0 1 0 -1.44 0M185.25 205.22a0.72 0.72 0 1 0 1.44 0a0.72 0.72 0 1 0 -1.44 0M185.35 202.33a0.72 0.72 0 1 0 1.44 0a0.72 0.72 0 1 0 -1.44 0M183.36 199.81a0.72 0.72 0 1 0 1.44 0a0.72 0.72 0 1 0 -1.44 0M185.2 199.93a0.72 0.72 0 1 0 1.44 0a0.72 0.72 0 1 0 -1.44 0M187.21 199.78a0.72 0.72 0 1 0 1.44 0a0.72 0.72 0 1 0 -1.44 0M183.11 197.6a0.72 0.72 0 1 0 1.44 0a0.72 0.72 0 1 0 -1.44 0M185.26 197.31a0.72 0.72 0 1 0 1.44 0a0.72 0.72 0 1 0 -1.44 0M187.26 197.48a0.72 0.72 0 1 0 1.44 0a0.72 0.72 0 1 0 -1.44 0M182.23 194.77a0.72 0.72 0 1 0 1.44 0a0.72 0.72 0 1 0 -1.44 0M184.24 195.24a0.72 0.72 0 1 0 1.44 0a0.72 0.72 0 1 0 -1.44 0M186.3 195.12a0.72 0.72 0 1 0 1.44 0a0.72 0.72 0 1 0 -1.44 0M188.29 195.12a0.72 0.72 0 1 0 1.44 0a0.72 0.72 0 1 0 -1.44 0M181.36 192.49a0.72 0.72 0 1 0 1.44 0a0.72 0.72 0 1 0 -1.44 0M183.34 192.41a0.72 0.72 0 1 0 1.44 0a0.72 0.72 0 1 0 -1.44 0M185.22 192.3a0.72 0.72 0 1 0 1.44 0a0.72 0.72 0 1 0 -1.44 0M187.24 192.56a0.72 0.72 0 1 0 1.44 0a0.72 0.72 0 1 0 -1.44 0M189.47 192.6a0.72 0.72 0 1 0 1.44 0a0.72 0.72 0 1 0 -1.44 0M182.3 189.76a0.72 0.72 0 1 0 1.44 0a0.72 0.72 0 1 0 -1.44 0M184.21 189.82a0.72 0.72 0 1 0 1.44 0a0.72 0.72 0 1 0 -1.44 0M186.25 190.23a0.72 0.72 0 1 0 1.44 0a0.72 0.72 0 1 0 -1.44 0M188.37 190.2a0.72 0.72 0 1 0 1.44 0a0.72 0.72 0 1 0 -1.44 0M181.28 187.41a0.72 0.72 0 1 0 1.44 0a0.72 0.72 0 1 0 -1.44 0M183.1 187.66a0.72 0.72 0 1 0 1.44 0a0.72 0.72 0 1 0 -1.44 0M185.21 187.43a0.72 0.72 0 1 0 1.44 0a0.72 0.72 0 1 0 -1.44 0M187.35 187.43a0.72 0.72 0 1 0 1.44 0a0.72 0.72 0 1 0 -1.44 0M189.51 187.37a0.72 0.72 0 1 0 1.44 0a0.72 0.72 0 1 0 -1.44 0M181.34 185.22a0.72 0.72 0 1 0 1.44 0a0.72 0.72 0 1 0 -1.44 0M183.23 185a0.72 0.72 0 1 0 1.44 0a0.72 0.72 0 1 0 -1.44 0M185.14 184.9a0.72 0.72 0 1 0 1.44 0a0.72 0.72 0 1 0 -1.44 0M187.36 184.79a0.72 0.72 0 1 0 1.44 0a0.72 0.72 0 1 0 -1.44 0M189.46 184.83a0.72 0.72 0 1 0 1.44 0a0.72 0.72 0 1 0 -1.44 0M180.15 182.36a0.72 0.72 0 1 0 1.44 0a0.72 0.72 0 1 0 -1.44 0M182.15 182.27a0.72 0.72 0 1 0 1.44 0a0.72 0.72 0 1 0 -1.44 0M184.3 182.67a0.72 0.72 0 1 0 1.44 0a0.72 0.72 0 1 0 -1.44 0M186.31 182.32a0.72 0.72 0 1 0 1.44 0a0.72 0.72 0 1 0 -1.44 0M188.18 182.28a0.72 0.72 0 1 0 1.44 0a0.72 0.72 0 1 0 -1.44 0M190.49 182.7a0.72 0.72 0 1 0 1.44 0a0.72 0.72 0 1 0 -1.44 0M180.32 179.83a0.72 0.72 0 1 0 1.44 0a0.72 0.72 0 1 0 -1.44 0M182.12 179.97a0.72 0.72 0 1 0 1.44 0a0.72 0.72 0 1 0 -1.44 0M184.28 179.92a0.72 0.72 0 1 0 1.44 0a0.72 0.72 0 1 0 -1.44 0M186.18 179.79a0.72 0.72 0 1 0 1.44 0a0.72 0.72 0 1 0 -1.44 0M188.28 179.98a0.72 0.72 0 1 0 1.44 0a0.72 0.72 0 1 0 -1.44 0M190.59 180.2a0.72 0.72 0 1 0 1.44 0a0.72 0.72 0 1 0 -1.44 0M180.2 177.4a0.72 0.72 0 1 0 1.44 0a0.72 0.72 0 1 0 -1.44 0M182.23 177.73a0.72 0.72 0 1 0 1.44 0a0.72 0.72 0 1 0 -1.44 0M184.25 177.57a0.72 0.72 0 1 0 1.44 0a0.72 0.72 0 1 0 -1.44 0M186.22 177.42a0.72 0.72 0 1 0 1.44 0a0.72 0.72 0 1 0 -1.44 0M188.51 177.26a0.72 0.72 0 1 0 1.44 0a0.72 0.72 0 1 0 -1.44 0M190.28 177.59a0.72 0.72 0 1 0 1.44 0a0.72 0.72 0 1 0 -1.44 0M181.2 175.22a0.72 0.72 0 1 0 1.44 0a0.72 0.72 0 1 0 -1.44 0M183.17 174.87a0.72 0.72 0 1 0 1.44 0a0.72 0.72 0 1 0 -1.44 0M185.26 174.88a0.72 0.72 0 1 0 1.44 0a0.72 0.72 0 1 0 -1.44 0M187.22 175.23a0.72 0.72 0 1 0 1.44 0a0.72 0.72 0 1 0 -1.44 0M189.26 175.12a0.72 0.72 0 1 0 1.44 0a0.72 0.72 0 1 0 -1.44 0M182.08 172.59a0.72 0.72 0 1 0 1.44 0a0.72 0.72 0 1 0 -1.44 0M184.34 172.36a0.72 0.72 0 1 0 1.44 0a0.72 0.72 0 1 0 -1.44 0M186.29 172.52a0.72 0.72 0 1 0 1.44 0a0.72 0.72 0 1 0 -1.44 0M188.43 172.62a0.72 0.72 0 1 0 1.44 0a0.72 0.72 0 1 0 -1.44 0M183.37 170.09a0.72 0.72 0 1 0 1.44 0a0.72 0.72 0 1 0 -1.44 0M185.4 169.82a0.72 0.72 0 1 0 1.44 0a0.72 0.72 0 1 0 -1.44 0M187.33 170a0.72 0.72 0 1 0 1.44 0a0.72 0.72 0 1 0 -1.44 0M184.31 167.73a0.72 0.72 0 1 0 1.44 0a0.72 0.72 0 1 0 -1.44 0M186.31 167.48a0.72 0.72 0 1 0 1.44 0a0.72 0.72 0 1 0 -1.44 0M185.35 165.02a0.72 0.72 0 1 0 1.44 0a0.72 0.72 0 1 0 -1.44 0M185.47 149.85a0.72 0.72 0 1 0 1.44 0a0.72 0.72 0 1 0 -1.44 0M185.27 159.8a0.72 0.72 0 1 0 1.44 0a0.72 0.72 0 1 0 -1.44 0M185.23 162.56a0.72 0.72 0 1 0 1.44 0a0.72 0.72 0 1 0 -1.44 0M185.24 212.27a0.72 0.72 0 1 0 1.44 0a0.72 0.72 0 1 0 -1.44 0"/>
<path fill="#222" d="M114.7 47.93a0.8 0.8 0 1 0 1.6 0a0.8 0.8 0 1 0 -1.6 0M115.2 65.79a0.8 0.8 0 1 0 1.6 0a0.8 0.8 0 1 0 -1.6 0M113.9 69.85a0.8 0.8 0 1 0 1.6 0a0.8 0.8 0 1 0 -1.6 0M115 74.86a0.8 0.8 0 1 0 1.6 0a0.8 0.8 0 1 0 -1.6 0M207.88 62.55a0.8 0.8 0 1 0 1.6 0a0.8 0.8 0 1 0 -1.6 0M208.1 59.8a0.8 0.8 0 1 0 1.6 0a0.8 0.8 0 1 0 -1.6 0M205.79 57.11a0.8 0.8 0 1 0 1.6 0a0.8 0.8 0 1 0 -1.6 0M208.13 57.07a0.8 0.8 0 1 0 1.6 0a0.8 0.8 0 1 0 -1.6 0M210.29 57.33a0.8 0.8 0 1 0 1.6 0a0.8 0.8 0 1 0 -1.6 0M205.78 54.6a0.8 0.8 0 1 0 1.6 0a0.8 0.8 0 1 0 -1.6 0M207.87 54.46a0.8 0.8 0 1 0 1.6 0a0.8 0.8 0 1 0 -1.6 0M210.37 54.68a0.8 0.8 0 1 0 1.6 0a0.8 0.8 0 1 0 -1.6 0M205.77 51.78a0.8 0.8 0 1 0 1.6 0a0.8 0.8 0 1 0 -1.6 0M207.81 52.05a0.8 0.8 0 1 0 1.6 0a0.8 0.8 0 1 0 -1.6 0M210.37 52.1a0.8 0.8 0 1 0 1.6 0a0.8 0.8 0 1 0 -1.6 0M206.76 49.6a0.8 0.8 0 1 0 1.6 0a0.8 0.8 0 1 0 -1.6 0M209.35 49.52a0.8 0.8 0 1 0 1.6 0a0.8 0.8 0 1 0 -1.6 0M206.97 46.71a0.8 0.8 0 1 0 1.6 0a0.8 0.8 0 1 0 -1.6 0M209.07 47.02a0.8 0.8 0 1 0 1.6 0a0.8 0.8 0 1 0 -1.6 0M206.61 44.28a0.8 0.8 0 1 0 1.6 0a0.8 0.8 0 1 0 -1.6 0M209.15 44.14a0.8 0.8 0 1 0 1.6 0a0.8 0.8 0 1 0 -1.6 0M474.2 73.63a0.8 0.8 0 1 0 1.6 0a0.8 0.8 0 1 0 -1.6 0M472.7 75.14a0.8 0.8 0 1 0 1.6 0a0.8 0.8 0 1 0 -1.6 0M474.2 83.08a0.8 0.8 0 1 0 1.6 0a0.8 0.8 0 1 0 -1.6 0M473 84.88a0.8 0.8 0 1 0 1.6 0a0.8 0.8 0 1 0 -1.6 0"/>
<path fill="#222" d="M307.3 38.76a1.2 1.2 0 1 0 2.4 0a1.2 1.2 0 1 0 -2.4 0"/>
<path fill="#1a1a1a" d="M84.4 340.82a0.8 0.8 0 1 0 1.6 0a0.8 0.8 0 1 0 -1.6 0M87.06 340.79a0.8 0.8 0 1 0 1.6 0a0.8 0.8 0 1 0 -1.6 0M89.45 340.85a0.8 0.8 0 1 0 1.6 0a0.8 0.8 0 1 0 -1.6 0M91.45 341.11a0.8 0.8 0 1 0 1.6 0a0.8 0.8 0 1 0 -1.6 0M93.89 340.93a0.8 0.8 0 1 0 1.6 0a0.8 0.8 0 1 0 -1.6 0M96.44 341.15a0.8 0.8 0 1 0 1.6 0a0.8 0.8 0 1 0 -1.6 0M98.74 340.76a0.8 0.8 0 1 0 1.6 0a0.8 0.8 0 1 0 -1.6 0M81.95 338.56a0.8 0.8 0 1 0 1.6 0a0.8 0.8 0 1 0 -1.6 0M82.74 338.95a0.8 0.8 0 1 0 1.6 0a0.8 0.8 0 1 0 -1.6 0M83.56 338.83a0.8 0.8 0 1 0 1.6 0a0.8 0.8 0 1 0 -1.6 0M84.39 338.89a0.8 0.8 0 1 0 1.6 0a0.8 0.8 0 1 0 -1.6 0M85.22 338.62a0.8 0.8 0 1 0 1.6 0a0.8 0.8 0 1 0 -1.6 0M86.21 338.82a0.8 0.8 0 1 0 1.6 0a0.8 0.8 0 1 0 -1.6 0M86.93 338.95a0.8 0.8 0 1 0 1.6 0a0.8 0.8 0 1 0 -1.6 0M87.82 338.56a0.8 0.8 0 1 0 1.6 0a0.8 0.8 0 1 0 -1.6 0M88.37 338.63a0.8 0.8 0 1 0 1.6 0a0.8 0.8 0 1 0 -1.6 0M89.23 338.99a0.8 0.8 0 1 0 1.6 0a0.8 0.8 0 1 0 -1.6 0M90.14 338.57a0.8 0.8 0 1 0 1.6 0a0.8 0.8 0 1 0 -1.6 0M90.68 338.96a0.8 0.8 0 1 0 1.6 0a0.8 0.8 0 1 0 -1.6 0M91.67 338.75a0.8 0.8 0 1 0 1.6 0a0.8 0.8 0 1 0 -1.6 0M92.38 338.63a0.8 0.8 0 1 0 1.6 0a0.8 0.8 0 1 0 -1.6 0M93.32 338.75a0.8 0.8 0 1 0 1.6 0a0.8 0.8 0 1 0 -1.6 0M94.12 338.86a0.8 0.8 0 1 0 1.6 0a0.8 0.8 0 1 0 -1.6 0M94.6 338.71a0.8 0.8 0 1 0 1.6 0a0.8 0.8 0 1 0 -1.6 0M95.44 339a0.8 0.8 0 1 0 1.6 0a0.8 0.8 0 1 0 -1.6 0M96.39 338.57a0.8 0.8 0 1 0 1.6 0a0.8 0.8 0 1 0 -1.6 0M97.01 338.73a0.8 0.8 0 1 0 1.6 0a0.8 0.8 0 1 0 -1.6 0M97.92 338.84a0.8 0.8 0 1 0 1.6 0a0.8 0.8 0 1 0 -1.6 0M98.68 338.73a0.8 0.8 0 1 0 1.6 0a0.8 0.8 0 1 0 -1.6 0M99.32 338.84a0.8 0.8 0 1 0 1.6 0a0.8 0.8 0 1 0 -1.6 0M100.24 338.56a0.8 0.8 0 1 0 1.6 0a0.8 0.8 0 1 0 -1.6 0M101.08 339.04a0.8 0.8 0 1 0 1.6 0a0.8 0.8 0 1 0 -1.6 0M82.15 336.67a0.8 0.8 0 1 0 1.6 0a0.8 0.8 0 1 0 -1.6 0M83.16 336.49a0.8 0.8 0 1 0 1.6 0a0.8 0.8 0 1 0 -1.6 0M84.45 336.79a0.8 0.8 0 1 0 1.6 0a0.8 0.8 0 1 0 -1.6 0M85.63 336.69a0.8 0.8 0 1 0 1.6 0a0.8 0.8 0 1 0 -1.6 0M86.49 336.73a0.8 0.8 0 1 0 1.6 0a0.8 0.8 0 1 0 -1.6 0M87.78 336.6a0.8 0.8 0 1 0 1.6 0a0.8 0.8 0 1 0 -1.6 0M88.86 336.53a0.8 0.8 0 1 0 1.6 0a0.8 0.8 0 1 0 -1.6 0M89.94 336.55a0.8 0.8 0 1 0 1.6 0a0.8 0.8 0 1 0 -1.6 0M90.87 336.52a0.8 0.8 0 1 0 1.6 0a0.8 0.8 0 1 0 -1.6 0M92.09 336.84a0.8 0.8 0 1 0 1.6 0a0.8 0.8 0 1 0 -1.6 0M93.27 336.53a0.8 0.8 0 1 0 1.6 0a0.8 0.8 0 1 0 -1.6 0M94.29 336.47a0.8 0.8 0 1 0 1.6 0a0.8 0.8 0 1 0 -1.6 0M95.45 336.42a0.8 0.8 0 1 0 1.6 0a0.8 0.8 0 1 0 -1.6 0M96.43 336.79a0.8 0.8 0 1 0 1.6 0a0.8 0.8 0 1 0 -1.6 0M97.73 336.57a0.8 0.8 0 1 0 1.6 0a0.8 0.8 0 1 0 -1.6 0M98.89 336.5a0.8 0.8 0 1 0 1.6 0a0.8 0.8 0 1 0 -1.6 0M99.85 336.38a0.8 0.8 0 1 0 1.6 0a0.8 0.8 0 1 0 -1.6 0M101.02 336.5a0.8 0.8 0 1 0 1.6 0a0.8 0.8 0 1 0 -1.6 0M82.29 334.33a0.8 0.8 0 1 0 1.6 0a0.8 0.8 0 1 0 -1.6 0M83.67 334.36a0.8 0.8 0 1 0 1.6 0a0.8 0.8 0 1 0 -1.6 0M85.17 334.18a0.8 0.8 0 1 0 1.6 0a0.8 0.8 0 1 0 -1.6 0M86.48 334.6a0.8 0.8 0 1 0 1.6 0a0.8 0.8 0 1 0 -1.6 0M87.86 334.28a0.8 0.8 0 1 0 1.6 0a0.8 0.8 0 1 0 -1.6 0M89.22 334.23a0.8 0.8 0 1 0 1.6 0a0.8 0.8 0 1 0 -1.6 0M90.78 334.5a0.8 0.8 0 1 0 1.6 0a0.8 0.8 0 1 0 -1.6 0M92.22 334.35a0.8 0.8 0 1 0 1.6 0a0.8 0.8 0 1 0 -1.6 0M93.67 334.45a0.8 0.8 0 1 0 1.6 0a0.8 0.8 0 1 0 -1.6 0M95.4 334.47a0.8 0.8 0 1 0 1.6 0a0.8 0.8 0 1 0 -1.6 0M96.59 334.52a0.8 0.8 0 1 0 1.6 0a0.8 0.8 0 1 0 -1.6 0M98.36 334.45a0.8 0.8 0 1 0 1.6 0a0.8 0.8 0 1 0 -1.6 0M99.47 334.55a0.8 0.8 0 1 0 1.6 0a0.8 0.8 0 1 0 -1.6 0M101.25 334.32a0.8 0.8 0 1 0 1.6 0a0.8 0.8 0 1 0 -1.6 0M82.37 332.06a0.8 0.8 0 1 0 1.6 0a0.8 0.8 0 1 0 -1.6 0M84.48 332.32a0.8 0.8 0 1 0 1.6 0a0.8 0.8 0 1 0 -1.6 0M86.96 332.15a0.8 0.8 0 1 0 1.6 0a0.8 0.8 0 1 0 -1.6 0M89.32 332.12a0.8 0.8 0 1 0 1.6 0a0.8 0.8 0 1 0 -1.6 0M91.42 332.16a0.8 0.8 0 1 0 1.6 0a0.8 0.8 0 1 0 -1.6 0M93.77 332.26a0.8 0.8 0 1 0 1.6 0a0.8 0.8 0 1 0 -1.6 0M96.23 332.2a0.8 0.8 0 1 0 1.6 0a0.8 0.8 0 1 0 -1.6 0M98.69 332.08a0.8 0.8 0 1 0 1.6 0a0.8 0.8 0 1 0 -1.6 0M100.99 331.96a0.8 0.8 0 1 0 1.6 0a0.8 0.8 0 1 0 -1.6 0M90.45 330.24a0.8 0.8 0 1 0 1.6 0a0.8 0.8 0 1 0 -1.6 0M92.6 330.06a0.8 0.8 0 1 0 1.6 0a0.8 0.8 0 1 0 -1.6 0M109.31 340.76a0.8 0.8 0 1 0 1.6 0a0.8 0.8 0 1 0 -1.6 0M111.68 341.01a0.8 0.8 0 1 0 1.6 0a0.8 0.8 0 1 0 -1.6 0M114.29 340.93a0.8 0.8 0 1 0 1.6 0a0.8 0.8 0 1 0 -1.6 0M102.43 338.79a0.8 0.8 0 1 0 1.6 0a0.8 0.8 0 1 0 -1.6 0M103.84 338.87a0.8 0.8 0 1 0 1.6 0a0.8 0.8 0 1 0 -1.6 0M105.82 338.82a0.8 0.8 0 1 0 1.6 0a0.8 0.8 0 1 0 -1.6 0M107.56 338.83a0.8 0.8 0 1 0 1.6 0a0.8 0.8 0 1 0 -1.6 0M109.15 338.81a0.8 0.8 0 1 0 1.6 0a0.8 0.8 0 1 0 -1.6 0M110.85 338.68a0.8 0.8 0 1 0 1.6 0a0.8 0.8 0 1 0 -1.6 0M112.69 338.6a0.8 0.8 0 1 0 1.6 0a0.8 0.8 0 1 0 -1.6 0M114.51 339.04a0.8 0.8 0 1 0 1.6 0a0.8 0.8 0 1 0 -1.6 0M115.98 338.86a0.8 0.8 0 1 0 1.6 0a0.8 0.8 0 1 0 -1.6 0M117.81 339.04a0.8 0.8 0 1 0 1.6 0a0.8 0.8 0 1 0 -1.6 0M119.75 338.86a0.8 0.8 0 1 0 1.6 0a0.8 0.8 0 1 0 -1.6 0M121.15 338.82a0.8 0.8 0 1 0 1.6 0a0.8 0.8 0 1 0 -1.6 0M102.18 336.74a0.8 0.8 0 1 0 1.6 0a0.8 0.8 0 1 0 -1.6 0M103.06 336.68a0.8 0.8 0 1 0 1.6 0a0.8 0.8 0 1 0 -1.6 0M104.01 336.75a0.8 0.8 0 1 0 1.6 0a0.8 0.8 0 1 0 -1.6 0M105.32 336.69a0.8 0.8 0 1 0 1.6 0a0.8 0.8 0 1 0 -1.6 0M106.04 336.46a0.8 0.8 0 1 0 1.6 0a0.8 0.8 0 1 0 -1.6 0M107 336.8a0.8 0.8 0 1 0 1.6 0a0.8 0.8 0 1 0 -1.6 0M107.95 336.68a0.8 0.8 0 1 0 1.6 0a0.8 0.8 0 1 0 -1.6 0M109.09 336.37a0.8 0.8 0 1 0 1.6 0a0.8 0.8 0 1 0 -1.6 0M109.71 336.7a0.8 0.8 0 1 0 1.6 0a0.8 0.8 0 1 0 -1.6 0M110.75 336.53a0.8 0.8 0 1 0 1.6 0a0.8 0.8 0 1 0 -1.6 0M111.73 336.56a0.8 0.8 0 1 0 1.6 0a0.8 0.8 0 1 0 -1.6 0M112.66 336.79a0.8 0.8 0 1 0 1.6 0a0.8 0.8 0 1 0 -1.6 0M113.7 336.84a0.8 0.8 0 1 0 1.6 0a0.8 0.8 0 1 0 -1.6 0M114.77 336.59a0.8 0.8 0 1 0 1.6 0a0.8 0.8 0 1 0 -1.6 0M115.77 336.73a0.8 0.8 0 1 0 1.6 0a0.8 0.8 0 1 0 -1.6 0M116.73 336.42a0.8 0.8 0 1 0 1.6 0a0.8 0.8 0 1 0 -1.6 0M117.42 336.39a0.8 0.8 0 1 0 1.6 0a0.8 0.8 0 1 0 -1.6 0M118.25 336.79a0.8 0.8 0 1 0 1.6 0a0.8 0.8 0 1 0 -1.6 0M119.3 336.51a0.8 0.8 0 1 0 1.6 0a0.8 0.8 0 1 0 -1.6 0M120.39 336.83a0.8 0.8 0 1 0 1.6 0a0.8 0.8 0 1 0 -1.6 0M121.18 336.38a0.8 0.8 0 1 0 1.6 0a0.8 0.8 0 1 0 -1.6 0M102.37 334.2a0.8 0.8 0 1 0 1.6 0a0.8 0.8 0 1 0 -1.6 0M103.1 334.61a0.8 0.8 0 1 0 1.6 0a0.8 0.8 0 1 0 -1.6 0M104.11 334.59a0.8 0.8 0 1 0 1.6 0a0.8 0.8 0 1 0 -1.6 0M105.08 334.17a0.8 0.8 0 1 0 1.6 0a0.8 0.8 0 1 0 -1.6 0M105.65 334.55a0.8 0.8 0 1 0 1.6 0a0.8 0.8 0 1 0 -1.6 0M106.69 334.17a0.8 0.8 0 1 0 1.6 0a0.8 0.8 0 1 0 -1.6 0M107.48 334.27a0.8 0.8 0 1 0 1.6 0a0.8 0.8 0 1 0 -1.6 0M108.32 334.2a0.8 0.8 0 1 0 1.6 0a0.8 0.8 0 1 0 -1.6 0M109.02 334.65a0.8 0.8 0 1 0 1.6 0a0.8 0.8 0 1 0 -1.6 0M110 334.59a0.8 0.8 0 1 0 1.6 0a0.8 0.8 0 1 0 -1.6 0M110.78 334.39a0.8 0.8 0 1 0 1.6 0a0.8 0.8 0 1 0 -1.6 0M111.65 334.36a0.8 0.8 0 1 0 1.6 0a0.8 0.8 0 1 0 -1.6 0M112.54 334.49a0.8 0.8 0 1 0 1.6 0a0.8 0.8 0 1 0 -1.6 0M113.39 334.52a0.8 0.8 0 1 0 1.6 0a0.8 0.8 0 1 0 -1.6 0M114.39 334.21a0.8 0.8 0 1 0 1.6 0a0.8 0.8 0 1 0 -1.6 0M115.2 334.4a0.8 0.8 0 1 0 1.6 0a0.8 0.8 0 1 0 -1.6 0M116.29 334.32a0.8 0.8 0 1 0 1.6 0a0.8 0.8 0 1 0 -1.6 0M116.87 334.63a0.8 0.8 0 1 0 1.6 0a0.8 0.8 0 1 0 -1.6 0M118 334.52a0.8 0.8 0 1 0 1.6 0a0.8 0.8 0 1 0 -1.6 0M118.62 334.24a0.8 0.8 0 1 0 1.6 0a0.8 0.8 0 1 0 -1.6 0M119.48 334.18a0.8 0.8 0 1 0 1.6 0a0.8 0.8 0 1 0 -1.6 0M120.25 334.4a0.8 0.8 0 1 0 1.6 0a0.8 0.8 0 1 0 -1.6 0M121.26 334.43a0.8 0.8 0 1 0 1.6 0a0.8 0.8 0 1 0 -1.6 0M102.32 332.14a0.8 0.8 0 1 0 1.6 0a0.8 0.8 0 1 0 -1.6 0M103.28 332.33a0.8 0.8 0 1 0 1.6 0a0.8 0.8 0 1 0 -1.6 0M104.69 332.35a0.8 0.8 0 1 0 1.6 0a0.8 0.8 0 1 0 -1.6 0M105.81 332.27a0.8 0.8 0 1 0 1.6 0a0.8 0.8 0 1 0 -1.6 0M106.67 332.2a0.8 0.8 0 1 0 1.6 0a0.8 0.8 0 1 0 -1.6 0M108.08 332.3a0.8 0.8 0 1 0 1.6 0a0.8 0.8 0 1 0 -1.6 0M109.1 332.45a0.8 0.8 0 1 0 1.6 0a0.8 0.8 0 1 0 -1.6 0M110.25 332.28a0.8 0.8 0 1 0 1.6 0a0.8 0.8 0 1 0 -1.6 0M111.08 332.26a0.8 0.8 0 1 0 1.6 0a0.8 0.8 0 1 0 -1.6 0M112.17 332.31a0.8 0.8 0 1 0 1.6 0a0.8 0.8 0 1 0 -1.6 0M113.44 332.23a0.8 0.8 0 1 0 1.6 0a0.8 0.8 0 1 0 -1.6 0M114.67 332.17a0.8 0.8 0 1 0 1.6 0a0.8 0.8 0 1 0 -1.6 0M115.78 332.18a0.8 0.8 0 1 0 1.6 0a0.8 0.8 0 1 0 -1.6 0M116.86 332.19a0.8 0.8 0 1 0 1.6 0a0.8 0.8 0 1 0 -1.6 0M118.01 332.19a0.8 0.8 0 1 0 1.6 0a0.8 0.8 0 1 0 -1.6 0M119 332.22a0.8 0.8 0 1 0 1.6 0a0.8 0.8 0 1 0 -1.6 0M120.13 332.36a0.8 0.8 0 1 0 1.6 0a0.8 0.8 0 1 0 -1.6 0M121.42 332.38a0.8 0.8 0 1 0 1.6 0a0.8 0.8 0 1 0 -1.6 0M102.44 329.92a0.8 0.8 0 1 0 1.6 0a0.8 0.8 0 1 0 -1.6 0M103.6 330.04a0.8 0.8 0 1 0 1.6 0a0.8 0.8 0 1 0 -1.6 0M105.03 329.78a0.8 0.8 0 1 0 1.6 0a0.8 0.8 0 1 0 -1.6 0M106.2 329.93a0.8 0.8 0 1 0 1.6 0a0.8 0.8 0 1 0 -1.6 0M107.25 329.83a0.8 0.8 0 1 0 1.6 0a0.8 0.8 0 1 0 -1.6 0M108.58 330.09a0.8 0.8 0 1 0 1.6 0a0.8 0.8 0 1 0 -1.6 0M109.76 330.08a0.8 0.8 0 1 0 1.6 0a0.8 0.8 0 1 0 -1.6 0M111.04 330.22a0.8 0.8 0 1 0 1.6 0a0.8 0.8 0 1 0 -1.6 0M112.58 330.08a0.8 0.8 0 1 0 1.6 0a0.8 0.8 0 1 0 -1.6 0M113.86 329.91a0.8 0.8 0 1 0 1.6 0a0.8 0.8 0 1 0 -1.6 0M114.91 330.18a0.8 0.8 0 1 0 1.6 0a0.8 0.8 0 1 0 -1.6 0M116.2 329.96a0.8 0.8 0 1 0 1.6 0a0.8 0.8 0 1 0 -1.6 0M117.58 329.94a0.8 0.8 0 1 0 1.6 0a0.8 0.8 0 1 0 -1.6 0M118.71 330.08a0.8 0.8 0 1 0 1.6 0a0.8 0.8 0 1 0 -1.6 0M120.04 329.9a0.8 0.8 0 1 0 1.6 0a0.8 0.8 0 1 0 -1.6 0M121.36 329.89a0.8 0.8 0 1 0 1.6 0a0.8 0.8 0 1 0 -1.6 0M102.25 327.81a0.8 0.8 0 1 0 1.6 0a0.8 0.8 0 1 0 -1.6 0M103.78 327.74a0.8 0.8 0 1 0 1.6 0a0.8 0.8 0 1 0 -1.6 0M105.4 327.74a0.8 0.8 0 1 0 1.6 0a0.8 0.8 0 1 0 -1.6 0M106.86 327.65a0.8 0.8 0 1 0 1.6 0a0.8 0.8 0 1 0 -1.6 0M108.66 327.58a0.8 0.8 0 1 0 1.6 0a0.8 0.8 0 1 0 -1.6 0M110.09 327.91a0.8 0.8 0 1 0 1.6 0a0.8 0.8 0 1 0 -1.6 0M111.71 327.71a0.8 0.8 0 1 0 1.6 0a0.8 0.8 0 1 0 -1.6 0M113.28 327.97a0.8 0.8 0 1 0 1.6 0a0.8 0.8 0 1 0 -1.6 0M114.8 327.87a0.8 0.8 0 1 0 1.6 0a0.8 0.8 0 1 0 -1.6 0M116.69 327.65a0.8 0.8 0 1 0 1.6 0a0.8 0.8 0 1 0 -1.6 0M118.1 327.95a0.8 0.8 0 1 0 1.6 0a0.8 0.8 0 1 0 -1.6 0M119.76 327.74a0.8 0.8 0 1 0 1.6 0a0.8 0.8 0 1 0 -1.6 0M121.12 327.77a0.8 0.8 0 1 0 1.6 0a0.8 0.8 0 1 0 -1.6 0M103.52 325.54a0.8 0.8 0 1 0 1.6 0a0.8 0.8 0 1 0 -1.6 0M105.96 325.81a0.8 0.8 0 1 0 1.6 0a0.8 0.8 0 1 0 -1.6 0M108.15 325.84a0.8 0.8 0 1 0 1.6 0a0.8 0.8 0 1 0 -1.6 0M110.71 325.54a0.8 0.8 0 1 0 1.6 0a0.8 0.8 0 1 0 -1.6 0M113.04 325.51a0.8 0.8 0 1 0 1.6 0a0.8 0.8 0 1 0 -1.6 0M115.15 325.73a0.8 0.8 0 1 0 1.6 0a0.8 0.8 0 1 0 -1.6 0M117.63 325.61a0.8 0.8 0 1 0 1.6 0a0.8 0.8 0 1 0 -1.6 0M120.02 325.8a0.8 0.8 0 1 0 1.6 0a0.8 0.8 0 1 0 -1.6 0M109.49 323.38a0.8 0.8 0 1 0 1.6 0a0.8 0.8 0 1 0 -1.6 0M111.78 323.57a0.8 0.8 0 1 0 1.6 0a0.8 0.8 0 1 0 -1.6 0M114.12 323.39a0.8 0.8 0 1 0 1.6 0a0.8 0.8 0 1 0 -1.6 0M111.96 316.77a0.8 0.8 0 1 0 1.6 0a0.8 0.8 0 1 0 -1.6 0M111.8 321.21a0.8 0.8 0 1 0 1.6 0a0.8 0.8 0 1 0 -1.6 0M91.5 448.75a0.8 0.8 0 1 0 1.6 0a0.8 0.8 0 1 0 -1.6 0M93.75 448.56a0.8 0.8 0 1 0 1.6 0a0.8 0.8 0 1 0 -1.6 0M82.88 446.85a0.8 0.8 0 1 0 1.6 0a0.8 0.8 0 1 0 -1.6 0M84.57 446.46a0.8 0.8 0 1 0 1.6 0a0.8 0.8 0 1 0 -1.6 0M86.35 446.51a0.8 0.8 0 1 0 1.6 0a0.8 0.8 0 1 0 -1.6 0M87.71 446.52a0.8 0.8 0 1 0 1.6 0a0.8 0.8 0 1 0 -1.6 0M89.4 446.36a0.8 0.8 0 1 0 1.6 0a0.8 0.8 0 1 0 -1.6 0M90.87 446.43a0.8 0.8 0 1 0 1.6 0a0.8 0.8 0 1 0 -1.6 0M92.63 446.35a0.8 0.8 0 1 0 1.6 0a0.8 0.8 0 1 0 -1.6 0M94.13 446.48a0.8 0.8 0 1 0 1.6 0a0.8 0.8 0 1 0 -1.6 0M95.65 446.63a0.8 0.8 0 1 0 1.6 0a0.8 0.8 0 1 0 -1.6 0M97.33 446.42a0.8 0.8 0 1 0 1.6 0a0.8 0.8 0 1 0 -1.6 0M98.73 446.41a0.8 0.8 0 1 0 1.6 0a0.8 0.8 0 1 0 -1.6 0M100.6 446.42a0.8 0.8 0 1 0 1.6 0a0.8 0.8 0 1 0 -1.6 0M101.85 446.61a0.8 0.8 0 1 0 1.6 0a0.8 0.8 0 1 0 -1.6 0M83.17 444.2a0.8 0.8 0 1 0 1.6 0a0.8 0.8 0 1 0 -1.6 0M83.71 444.29a0.8 0.8 0 1 0 1.6 0a0.8 0.8 0 1 0 -1.6 0M84.73 444.63a0.8 0.8 0 1 0 1.6 0a0.8 0.8 0 1 0 -1.6 0M85.86 444.36a0.8 0.8 0 1 0 1.6 0a0.8 0.8 0 1 0 -1.6 0M86.63 444.57a0.8 0.8 0 1 0 1.6 0a0.8 0.8 0 1 0 -1.6 0M87.65 444.48a0.8 0.8 0 1 0 1.6 0a0.8 0.8 0 1 0 -1.6 0M88.43 444.21a0.8 0.8 0 1 0 1.6 0a0.8 0.8 0 1 0 -1.6 0M89.23 444.48a0.8 0.8 0 1 0 1.6 0a0.8 0.8 0 1 0 -1.6 0M90.27 444.55a0.8 0.8 0 1 0 1.6 0a0.8 0.8 0 1 0 -1.6 0M91.3 444.63a0.8 0.8 0 1 0 1.6 0a0.8 0.8 0 1 0 -1.6 0M91.92 444.19a0.8 0.8 0 1 0 1.6 0a0.8 0.8 0 1 0 -1.6 0M93.11 444.44a0.8 0.8 0 1 0 1.6 0a0.8 0.8 0 1 0 -1.6 0M93.73 444.5a0.8 0.8 0 1 0 1.6 0a0.8 0.8 0 1 0 -1.6 0M94.66 444.27a0.8 0.8 0 1 0 1.6 0a0.8 0.8 0 1 0 -1.6 0M95.61 444.41a0.8 0.8 0 1 0 1.6 0a0.8 0.8 0 1 0 -1.6 0M96.64 444.19a0.8 0.8 0 1 0 1.6 0a0.8 0.8 0 1 0 -1.6 0M97.57 444.46a0.8 0.8 0 1 0 1.6 0a0.8 0.8 0 1 0 -1.6 0M98.37 444.49a0.8 0.8 0 1 0 1.6 0a0.8 0.8 0 1 0 -1.6 0M99.41 444.15a0.8 0.8 0 1 0 1.6 0a0.8 0.8 0 1 0 -1.6 0M100.18 444.49a0.8 0.8 0 1 0 1.6 0a0.8 0.8 0 1 0 -1.6 0M101.18 444.47a0.8 0.8 0 1 0 1.6 0a0.8 0.8 0 1 0 -1.6 0M101.87 444.63a0.8 0.8 0 1 0 1.6 0a0.8 0.8 0 1 0 -1.6 0M83.15 442.01a0.8 0.8 0 1 0 1.6 0a0.8 0.8 0 1 0 -1.6 0M84 442.39a0.8 0.8 0 1 0 1.6 0a0.8 0.8 0 1 0 -1.6 0M85.05 442.27a0.8 0.8 0 1 0 1.6 0a0.8 0.8 0 1 0 -1.6 0M85.99 442.18a0.8 0.8 0 1 0 1.6 0a0.8 0.8 0 1 0 -1.6 0M86.93 442.22a0.8 0.8 0 1 0 1.6 0a0.8 0.8 0 1 0 -1.6 0M87.94 442.33a0.8 0.8 0 1 0 1.6 0a0.8 0.8 0 1 0 -1.6 0M88.93 442.36a0.8 0.8 0 1 0 1.6 0a0.8 0.8 0 1 0 -1.6 0M90.08 442.29a0.8 0.8 0 1 0 1.6 0a0.8 0.8 0 1 0 -1.6 0M91.11 442.15a0.8 0.8 0 1 0 1.6 0a0.8 0.8 0 1 0 -1.6 0M91.85 442.26a0.8 0.8 0 1 0 1.6 0a0.8 0.8 0 1 0 -1.6 0M92.92 442.23a0.8 0.8 0 1 0 1.6 0a0.8 0.8 0 1 0 -1.6 0M93.88 442.07a0.8 0.8 0 1 0 1.6 0a0.8 0.8 0 1 0 -1.6 0M95.04 442.33a0.8 0.8 0 1 0 1.6 0a0.8 0.8 0 1 0 -1.6 0M95.95 442.38a0.8 0.8 0 1 0 1.6 0a0.8 0.8 0 1 0 -1.6 0M97.06 442.03a0.8 0.8 0 1 0 1.6 0a0.8 0.8 0 1 0 -1.6 0M97.83 442.18a0.8 0.8 0 1 0 1.6 0a0.8 0.8 0 1 0 -1.6 0M99.07 442.33a0.8 0.8 0 1 0 1.6 0a0.8 0.8 0 1 0 -1.6 0M99.82 442.4a0.8 0.8 0 1 0 1.6 0a0.8 0.8 0 1 0 -1.6 0M101.04 442.16a0.8 0.8 0 1 0 1.6 0a0.8 0.8 0 1 0 -1.6 0M102.02 441.96a0.8 0.8 0 1 0 1.6 0a0.8 0.8 0 1 0 -1.6 0M82.83 439.79a0.8 0.8 0 1 0 1.6 0a0.8 0.8 0 1 0 -1.6 0M84.15 439.98a0.8 0.8 0 1 0 1.6 0a0.8 0.8 0 1 0 -1.6 0M85.36 439.92a0.8 0.8 0 1 0 1.6 0a0.8 0.8 0 1 0 -1.6 0M86.72 440.12a0.8 0.8 0 1 0 1.6 0a0.8 0.8 0 1 0 -1.6 0M88.22 439.92a0.8 0.8 0 1 0 1.6 0a0.8 0.8 0 1 0 -1.6 0M89.5 439.88a0.8 0.8 0 1 0 1.6 0a0.8 0.8 0 1 0 -1.6 0M90.51 439.78a0.8 0.8 0 1 0 1.6 0a0.8 0.8 0 1 0 -1.6 0M91.69 440.24a0.8 0.8 0 1 0 1.6 0a0.8 0.8 0 1 0 -1.6 0M92.99 440.18a0.8 0.8 0 1 0 1.6 0a0.8 0.8 0 1 0 -1.6 0M94.33 440a0.8 0.8 0 1 0 1.6 0a0.8 0.8 0 1 0 -1.6 0M95.52 440.05a0.8 0.8 0 1 0 1.6 0a0.8 0.8 0 1 0 -1.6 0M97.13 440.15a0.8 0.8 0 1 0 1.6 0a0.8 0.8 0 1 0 -1.6 0M98.3 440.17a0.8 0.8 0 1 0 1.6 0a0.8 0.8 0 1 0 -1.6 0M99.44 439.9a0.8 0.8 0 1 0 1.6 0a0.8 0.8 0 1 0 -1.6 0M100.54 439.91a0.8 0.8 0 1 0 1.6 0a0.8 0.8 0 1 0 -1.6 0M101.83 439.99a0.8 0.8 0 1 0 1.6 0a0.8 0.8 0 1 0 -1.6 0M83.13 437.79a0.8 0.8 0 1 0 1.6 0a0.8 0.8 0 1 0 -1.6 0M85.09 437.56a0.8 0.8 0 1 0 1.6 0a0.8 0.8 0 1 0 -1.6 0M87.4 437.66a0.8 0.8 0 1 0 1.6 0a0.8 0.8 0 1 0 -1.6 0M89.47 437.78a0.8 0.8 0 1 0 1.6 0a0.8 0.8 0 1 0 -1.6 0M91.54 437.8a0.8 0.8 0 1 0 1.6 0a0.8 0.8 0 1 0 -1.6 0M93.56 437.72a0.8 0.8 0 1 0 1.6 0a0.8 0.8 0 1 0 -1.6 0M95.49 437.66a0.8 0.8 0 1 0 1.6 0a0.8 0.8 0 1 0 -1.6 0M97.59 437.81a0.8 0.8 0 1 0 1.6 0a0.8 0.8 0 1 0 -1.6 0M99.77 437.91a0.8 0.8 0 1 0 1.6 0a0.8 0.8 0 1 0 -1.6 0M101.98 437.65a0.8 0.8 0 1 0 1.6 0a0.8 0.8 0 1 0 -1.6 0M91.21 435.51a0.8 0.8 0 1 0 1.6 0a0.8 0.8 0 1 0 -1.6 0M93.74 435.48a0.8 0.8 0 1 0 1.6 0a0.8 0.8 0 1 0 -1.6 0M112.26 446.46a0.8 0.8 0 1 0 1.6 0a0.8 0.8 0 1 0 -1.6 0M105.17 444.45a0.8 0.8 0 1 0 1.6 0a0.8 0.8 0 1 0 -1.6 0M107.54 444.17a0.8 0.8 0 1 0 1.6 0a0.8 0.8 0 1 0 -1.6 0M110.06 444.23a0.8 0.8 0 1 0 1.6 0a0.8 0.8 0 1 0 -1.6 0M112.57 444.59a0.8 0.8 0 1 0 1.6 0a0.8 0.8 0 1 0 -1.6 0M114.73 444.25a0.8 0.8 0 1 0 1.6 0a0.8 0.8 0 1 0 -1.6 0M116.95 444.4a0.8 0.8 0 1 0 1.6 0a0.8 0.8 0 1 0 -1.6 0M119.46 444.33a0.8 0.8 0 1 0 1.6 0a0.8 0.8 0 1 0 -1.6 0M102.38 442.38a0.8 0.8 0 1 0 1.6 0a0.8 0.8 0 1 0 -1.6 0M104 442.16a0.8 0.8 0 1 0 1.6 0a0.8 0.8 0 1 0 -1.6 0M105.34 442.22a0.8 0.8 0 1 0 1.6 0a0.8 0.8 0 1 0 -1.6 0M106.8 442.31a0.8 0.8 0 1 0 1.6 0a0.8 0.8 0 1 0 -1.6 0M108.04 441.98a0.8 0.8 0 1 0 1.6 0a0.8 0.8 0 1 0 -1.6 0M109.65 441.99a0.8 0.8 0 1 0 1.6 0a0.8 0.8 0 1 0 -1.6 0M111.14 442.02a0.8 0.8 0 1 0 1.6 0a0.8 0.8 0 1 0 -1.6 0M112.54 442.42a0.8 0.8 0 1 0 1.6 0a0.8 0.8 0 1 0 -1.6 0M113.85 441.98a0.8 0.8 0 1 0 1.6 0a0.8 0.8 0 1 0 -1.6 0M115.33 441.97a0.8 0.8 0 1 0 1.6 0a0.8 0.8 0 1 0 -1.6 0M116.75 442.38a0.8 0.8 0 1 0 1.6 0a0.8 0.8 0 1 0 -1.6 0M118.18 442.12a0.8 0.8 0 1 0 1.6 0a0.8 0.8 0 1 0 -1.6 0M119.55 442.02a0.8 0.8 0 1 0 1.6 0a0.8 0.8 0 1 0 -1.6 0M121.05 442.31a0.8 0.8 0 1 0 1.6 0a0.8 0.8 0 1 0 -1.6 0M122.49 441.97a0.8 0.8 0 1 0 1.6 0a0.8 0.8 0 1 0 -1.6 0M102.38 440.03a0.8 0.8 0 1 0 1.6 0a0.8 0.8 0 1 0 -1.6 0M103.29 440.22a0.8 0.8 0 1 0 1.6 0a0.8 0.8 0 1 0 -1.6 0M104.68 440.11a0.8 0.8 0 1 0 1.6 0a0.8 0.8 0 1 0 -1.6 0M105.51 439.86a0.8 0.8 0 1 0 1.6 0a0.8 0.8 0 1 0 -1.6 0M106.48 440.16a0.8 0.8 0 1 0 1.6 0a0.8 0.8 0 1 0 -1.6 0M107.77 439.95a0.8 0.8 0 1 0 1.6 0a0.8 0.8 0 1 0 -1.6 0M108.6 440.14a0.8 0.8 0 1 0 1.6 0a0.8 0.8 0 1 0 -1.6 0M109.87 440.21a0.8 0.8 0 1 0 1.6 0a0.8 0.8 0 1 0 -1.6 0M110.82 440.18a0.8 0.8 0 1 0 1.6 0a0.8 0.8 0 1 0 -1.6 0M111.88 440.15a0.8 0.8 0 1 0 1.6 0a0.8 0.8 0 1 0 -1.6 0M112.74 440.01a0.8 0.8 0 1 0 1.6 0a0.8 0.8 0 1 0 -1.6 0M114.1 440.1a0.8 0.8 0 1 0 1.6 0a0.8 0.8 0 1 0 -1.6 0M115.22 440.06a0.8 0.8 0 1 0 1.6 0a0.8 0.8 0 1 0 -1.6 0M116.01 440.11a0.8 0.8 0 1 0 1.6 0a0.8 0.8 0 1 0 -1.6 0M117.28 440.09a0.8 0.8 0 1 0 1.6 0a0.8 0.8 0 1 0 -1.6 0M118.25 439.78a0.8 0.8 0 1 0 1.6 0a0.8 0.8 0 1 0 -1.6 0M119.04 439.87a0.8 0.8 0 1 0 1.6 0a0.8 0.8 0 1 0 -1.6 0M120.23 440.14a0.8 0.8 0 1 0 1.6 0a0.8 0.8 0 1 0 -1.6 0M121.25 439.77a0.8 0.8 0 1 0 1.6 0a0.8 0.8 0 1 0 -1.6 0M122.22 440.25a0.8 0.8 0 1 0 1.6 0a0.8 0.8 0 1 0 -1.6 0M102.6 437.91a0.8 0.8 0 1 0 1.6 0a0.8 0.8 0 1 0 -1.6 0M103.55 437.96a0.8 0.8 0 1 0 1.6 0a0.8 0.8 0 1 0 -1.6 0M104.41 437.88a0.8 0.8 0 1 0 1.6 0a0.8 0.8 0 1 0 -1.6 0M105.51 437.97a0.8 0.8 0 1 0 1.6 0a0.8 0.8 0 1 0 -1.6 0M106.46 437.82a0.8 0.8 0 1 0 1.6 0a0.8 0.8 0 1 0 -1.6 0M107.6 437.96a0.8 0.8 0 1 0 1.6 0a0.8 0.8 0 1 0 -1.6 0M108.65 437.97a0.8 0.8 0 1 0 1.6 0a0.8 0.8 0 1 0 -1.6 0M109.91 437.99a0.8 0.8 0 1 0 1.6 0a0.8 0.8 0 1 0 -1.6 0M110.68 438.02a0.8 0.8 0 1 0 1.6 0a0.8 0.8 0 1 0 -1.6 0M111.97 437.89a0.8 0.8 0 1 0 1.6 0a0.8 0.8 0 1 0 -1.6 0M112.99 437.57a0.8 0.8 0 1 0 1.6 0a0.8 0.8 0 1 0 -1.6 0M114.13 437.82a0.8 0.8 0 1 0 1.6 0a0.8 0.8 0 1 0 -1.6 0M115.01 437.72a0.8 0.8 0 1 0 1.6 0a0.8 0.8 0 1 0 -1.6 0M116.2 437.94a0.8 0.8 0 1 0 1.6 0a0.8 0.8 0 1 0 -1.6 0M117.28 437.66a0.8 0.8 0 1 0 1.6 0a0.8 0.8 0 1 0 -1.6 0M118.13 437.67a0.8 0.8 0 1 0 1.6 0a0.8 0.8 0 1 0 -1.6 0M119.08 437.71a0.8 0.8 0 1 0 1.6 0a0.8 0.8 0 1 0 -1.6 0M120.11 437.95a0.8 0.8 0 1 0 1.6 0a0.8 0.8 0 1 0 -1.6 0M121.24 437.59a0.8 0.8 0 1 0 1.6 0a0.8 0.8 0 1 0 -1.6 0M122.23 437.92a0.8 0.8 0 1 0 1.6 0a0.8 0.8 0 1 0 -1.6 0M102.44 435.85a0.8 0.8 0 1 0 1.6 0a0.8 0.8 0 1 0 -1.6 0M103.81 435.38a0.8 0.8 0 1 0 1.6 0a0.8 0.8 0 1 0 -1.6 0M104.88 435.36a0.8 0.8 0 1 0 1.6 0a0.8 0.8 0 1 0 -1.6 0M106.33 435.46a0.8 0.8 0 1 0 1.6 0a0.8 0.8 0 1 0 -1.6 0M107.28 435.62a0.8 0.8 0 1 0 1.6 0a0.8 0.8 0 1 0 -1.6 0M108.82 435.68a0.8 0.8 0 1 0 1.6 0a0.8 0.8 0 1 0 -1.6 0M110.05 435.68a0.8 0.8 0 1 0 1.6 0a0.8 0.8 0 1 0 -1.6 0M111.18 435.58a0.8 0.8 0 1 0 1.6 0a0.8 0.8 0 1 0 -1.6 0M112.43 435.36a0.8 0.8 0 1 0 1.6 0a0.8 0.8 0 1 0 -1.6 0M113.5 435.85a0.8 0.8 0 1 0 1.6 0a0.8 0.8 0 1 0 -1.6 0M114.77 435.5a0.8 0.8 0 1 0 1.6 0a0.8 0.8 0 1 0 -1.6 0M116.16 435.72a0.8 0.8 0 1 0 1.6 0a0.8 0.8 0 1 0 -1.6 0M117.24 435.75a0.8 0.8 0 1 0 1.6 0a0.8 0.8 0 1 0 -1.6 0M118.69 435.38a0.8 0.8 0 1 0 1.6 0a0.8 0.8 0 1 0 -1.6 0M119.85 435.82a0.8 0.8 0 1 0 1.6 0a0.8 0.8 0 1 0 -1.6 0M121.25 435.43a0.8 0.8 0 1 0 1.6 0a0.8 0.8 0 1 0 -1.6 0M122.45 435.39a0.8 0.8 0 1 0 1.6 0a0.8 0.8 0 1 0 -1.6 0M102.27 433.61a0.8 0.8 0 1 0 1.6 0a0.8 0.8 0 1 0 -1.6 0M103.75 433.53a0.8 0.8 0 1 0 1.6 0a0.8 0.8 0 1 0 -1.6 0M105.21 433.33a0.8 0.8 0 1 0 1.6 0a0.8 0.8 0 1 0 -1.6 0M106.57 433.25a0.8 0.8 0 1 0 1.6 0a0.8 0.8 0 1 0 -1.6 0M107.54 433.4a0.8 0.8 0 1 0 1.6 0a0.8 0.8 0 1 0 -1.6 0M109.23 433.6a0.8 0.8 0 1 0 1.6 0a0.8 0.8 0 1 0 -1.6 0M110.58 433.41a0.8 0.8 0 1 0 1.6 0a0.8 0.8 0 1 0 -1.6 0M111.91 433.43a0.8 0.8 0 1 0 1.6 0a0.8 0.8 0 1 0 -1.6 0M112.92 433.47a0.8 0.8 0 1 0 1.6 0a0.8 0.8 0 1 0 -1.6 0M114.52 433.36a0.8 0.8 0 1 0 1.6 0a0.8 0.8 0 1 0 -1.6 0M115.77 433.28a0.8 0.8 0 1 0 1.6 0a0.8 0.8 0 1 0 -1.6 0M116.98 433.36a0.8 0.8 0 1 0 1.6 0a0.8 0.8 0 1 0 -1.6 0M118.41 433.38a0.8 0.8 0 1 0 1.6 0a0.8 0.8 0 1 0 -1.6 0M119.57 433.15a0.8 0.8 0 1 0 1.6 0a0.8 0.8 0 1 0 -1.6 0M121 433.51a0.8 0.8 0 1 0 1.6 0a0.8 0.8 0 1 0 -1.6 0M122.5 433.27a0.8 0.8 0 1 0 1.6 0a0.8 0.8 0 1 0 -1.6 0M102.48 431.31a0.8 0.8 0 1 0 1.6 0a0.8 0.8 0 1 0 -1.6 0M103.98 431.37a0.8 0.8 0 1 0 1.6 0a0.8 0.8 0 1 0 -1.6 0M105.9 430.98a0.8 0.8 0 1 0 1.6 0a0.8 0.8 0 1 0 -1.6 0M107.58 431.17a0.8 0.8 0 1 0 1.6 0a0.8 0.8 0 1 0 -1.6 0M108.9 430.98a0.8 0.8 0 1 0 1.6 0a0.8 0.8 0 1 0 -1.6 0M110.85 431.29a0.8 0.8 0 1 0 1.6 0a0.8 0.8 0 1 0 -1.6 0M112.26 431.18a0.8 0.8 0 1 0 1.6 0a0.8 0.8 0 1 0 -1.6 0M114.12 431.45a0.8 0.8 0 1 0 1.6 0a0.8 0.8 0 1 0 -1.6 0M115.67 431.33a0.8 0.8 0 1 0 1.6 0a0.8 0.8 0 1 0 -1.6 0M117.3 431.05a0.8 0.8 0 1 0 1.6 0a0.8 0.8 0 1 0 -1.6 0M118.93 431.16a0.8 0.8 0 1 0 1.6 0a0.8 0.8 0 1 0 -1.6 0M120.78 431.1a0.8 0.8 0 1 0 1.6 0a0.8 0.8 0 1 0 -1.6 0M122.26 431.06a0.8 0.8 0 1 0 1.6 0a0.8 0.8 0 1 0 -1.6 0M104.05 428.99a0.8 0.8 0 1 0 1.6 0a0.8 0.8 0 1 0 -1.6 0M106.5 429.24a0.8 0.8 0 1 0 1.6 0a0.8 0.8 0 1 0 -1.6 0M108.87 429.22a0.8 0.8 0 1 0 1.6 0a0.8 0.8 0 1 0 -1.6 0M111.21 428.85a0.8 0.8 0 1 0 1.6 0a0.8 0.8 0 1 0 -1.6 0M113.61 428.82a0.8 0.8 0 1 0 1.6 0a0.8 0.8 0 1 0 -1.6 0M115.79 428.79a0.8 0.8 0 1 0 1.6 0a0.8 0.8 0 1 0 -1.6 0M118.36 429.23a0.8 0.8 0 1 0 1.6 0a0.8 0.8 0 1 0 -1.6 0M120.59 428.93a0.8 0.8 0 1 0 1.6 0a0.8 0.8 0 1 0 -1.6 0M109.99 426.9a0.8 0.8 0 1 0 1.6 0a0.8 0.8 0 1 0 -1.6 0M112.36 426.63a0.8 0.8 0 1 0 1.6 0a0.8 0.8 0 1 0 -1.6 0M114.9 426.84a0.8 0.8 0 1 0 1.6 0a0.8 0.8 0 1 0 -1.6 0M112.2 420.37a0.8 0.8 0 1 0 1.6 0a0.8 0.8 0 1 0 -1.6 0M112.49 422.33a0.8 0.8 0 1 0 1.6 0a0.8 0.8 0 1 0 -1.6 0"/>
<path fill="#111" d="M131.85 324.5a0.85 0.85 0 1 0 1.7 0a0.85 0.85 0 1 0 -1.7 0M130.85 328.25a0.85 0.85 0 1 0 1.7 0a0.85 0.85 0 1 0 -1.7 0M133.05 329a0.85 0.85 0 1 0 1.7 0a0.85 0.85 0 1 0 -1.7 0M132.65 421.56a0.85 0.85 0 1 0 1.7 0a0.85 0.85 0 1 0 -1.7 0M237.25 396.58a0.85 0.85 0 1 0 1.7 0a0.85 0.85 0 1 0 -1.7 0"/>
<path fill="#1a1a1a" d="M191.26 337.27a0.9 0.9 0 1 0 1.8 0a0.9 0.9 0 1 0 -1.8 0M194.07 337.53a0.9 0.9 0 1 0 1.8 0a0.9 0.9 0 1 0 -1.8 0M196.81 337.63a0.9 0.9 0 1 0 1.8 0a0.9 0.9 0 1 0 -1.8 0M199.25 337.36a0.9 0.9 0 1 0 1.8 0a0.9 0.9 0 1 0 -1.8 0M201.93 337.66a0.9 0.9 0 1 0 1.8 0a0.9 0.9 0 1 0 -1.8 0M189.77 334.89a0.9 0.9 0 1 0 1.8 0a0.9 0.9 0 1 0 -1.8 0M192.73 334.79a0.9 0.9 0 1 0 1.8 0a0.9 0.9 0 1 0 -1.8 0M195.17 334.9a0.9 0.9 0 1 0 1.8 0a0.9 0.9 0 1 0 -1.8 0M198.02 334.84a0.9 0.9 0 1 0 1.8 0a0.9 0.9 0 1 0 -1.8 0M200.95 334.96a0.9 0.9 0 1 0 1.8 0a0.9 0.9 0 1 0 -1.8 0M203.6 334.62a0.9 0.9 0 1 0 1.8 0a0.9 0.9 0 1 0 -1.8 0M188.61 331.89a0.9 0.9 0 1 0 1.8 0a0.9 0.9 0 1 0 -1.8 0M191.25 332.18a0.9 0.9 0 1 0 1.8 0a0.9 0.9 0 1 0 -1.8 0M193.92 332.05a0.9 0.9 0 1 0 1.8 0a0.9 0.9 0 1 0 -1.8 0M196.85 332.19a0.9 0.9 0 1 0 1.8 0a0.9 0.9 0 1 0 -1.8 0M199.32 331.97a0.9 0.9 0 1 0 1.8 0a0.9 0.9 0 1 0 -1.8 0M202.05 332.07a0.9 0.9 0 1 0 1.8 0a0.9 0.9 0 1 0 -1.8 0M204.82 332a0.9 0.9 0 1 0 1.8 0a0.9 0.9 0 1 0 -1.8 0M187.33 329.22a0.9 0.9 0 1 0 1.8 0a0.9 0.9 0 1 0 -1.8 0M190.12 329.32a0.9 0.9 0 1 0 1.8 0a0.9 0.9 0 1 0 -1.8 0M192.63 329.5a0.9 0.9 0 1 0 1.8 0a0.9 0.9 0 1 0 -1.8 0M195.42 329.51a0.9 0.9 0 1 0 1.8 0a0.9 0.9 0 1 0 -1.8 0M197.85 329.18a0.9 0.9 0 1 0 1.8 0a0.9 0.9 0 1 0 -1.8 0M200.93 329.56a0.9 0.9 0 1 0 1.8 0a0.9 0.9 0 1 0 -1.8 0M203.26 329.26a0.9 0.9 0 1 0 1.8 0a0.9 0.9 0 1 0 -1.8 0M206.13 329.25a0.9 0.9 0 1 0 1.8 0a0.9 0.9 0 1 0 -1.8 0M188.48 326.55a0.9 0.9 0 1 0 1.8 0a0.9 0.9 0 1 0 -1.8 0M191.17 326.88a0.9 0.9 0 1 0 1.8 0a0.9 0.9 0 1 0 -1.8 0M193.85 326.52a0.9 0.9 0 1 0 1.8 0a0.9 0.9 0 1 0 -1.8 0M196.85 326.86a0.9 0.9 0 1 0 1.8 0a0.9 0.9 0 1 0 -1.8 0M199.4 326.46a0.9 0.9 0 1 0 1.8 0a0.9 0.9 0 1 0 -1.8 0M202.19 326.82a0.9 0.9 0 1 0 1.8 0a0.9 0.9 0 1 0 -1.8 0M204.67 326.56a0.9 0.9 0 1 0 1.8 0a0.9 0.9 0 1 0 -1.8 0M189.81 324.21a0.9 0.9 0 1 0 1.8 0a0.9 0.9 0 1 0 -1.8 0M192.53 323.8a0.9 0.9 0 1 0 1.8 0a0.9 0.9 0 1 0 -1.8 0M195.19 324.14a0.9 0.9 0 1 0 1.8 0a0.9 0.9 0 1 0 -1.8 0M198.23 323.96a0.9 0.9 0 1 0 1.8 0a0.9 0.9 0 1 0 -1.8 0M200.81 323.88a0.9 0.9 0 1 0 1.8 0a0.9 0.9 0 1 0 -1.8 0M203.61 324.09a0.9 0.9 0 1 0 1.8 0a0.9 0.9 0 1 0 -1.8 0M190.08 321.2a0.9 0.9 0 1 0 1.8 0a0.9 0.9 0 1 0 -1.8 0M192.54 321.34a0.9 0.9 0 1 0 1.8 0a0.9 0.9 0 1 0 -1.8 0M195.28 321.33a0.9 0.9 0 1 0 1.8 0a0.9 0.9 0 1 0 -1.8 0M197.91 321.51a0.9 0.9 0 1 0 1.8 0a0.9 0.9 0 1 0 -1.8 0M200.68 321.47a0.9 0.9 0 1 0 1.8 0a0.9 0.9 0 1 0 -1.8 0M203.31 321.45a0.9 0.9 0 1 0 1.8 0a0.9 0.9 0 1 0 -1.8 0M192.58 318.43a0.9 0.9 0 1 0 1.8 0a0.9 0.9 0 1 0 -1.8 0M195.27 318.68a0.9 0.9 0 1 0 1.8 0a0.9 0.9 0 1 0 -1.8 0M198.13 318.45a0.9 0.9 0 1 0 1.8 0a0.9 0.9 0 1 0 -1.8 0M200.61 318.44a0.9 0.9 0 1 0 1.8 0a0.9 0.9 0 1 0 -1.8 0M195.42 315.71a0.9 0.9 0 1 0 1.8 0a0.9 0.9 0 1 0 -1.8 0M198.18 315.71a0.9 0.9 0 1 0 1.8 0a0.9 0.9 0 1 0 -1.8 0M196.87 313.45a0.9 0.9 0 1 0 1.8 0a0.9 0.9 0 1 0 -1.8 0M195.27 294.22a0.9 0.9 0 1 0 1.8 0a0.9 0.9 0 1 0 -1.8 0M198.15 294.3a0.9 0.9 0 1 0 1.8 0a0.9 0.9 0 1 0 -1.8 0M196.87 304.9a0.9 0.9 0 1 0 1.8 0a0.9 0.9 0 1 0 -1.8 0M196.69 307.98a0.9 0.9 0 1 0 1.8 0a0.9 0.9 0 1 0 -1.8 0M196.74 310.52a0.9 0.9 0 1 0 1.8 0a0.9 0.9 0 1 0 -1.8 0M215.76 333.59a0.9 0.9 0 1 0 1.8 0a0.9 0.9 0 1 0 -1.8 0M218.43 333.73a0.9 0.9 0 1 0 1.8 0a0.9 0.9 0 1 0 -1.8 0M213.24 331.25a0.9 0.9 0 1 0 1.8 0a0.9 0.9 0 1 0 -1.8 0M216.06 331.12a0.9 0.9 0 1 0 1.8 0a0.9 0.9 0 1 0 -1.8 0M218.5 331.28a0.9 0.9 0 1 0 1.8 0a0.9 0.9 0 1 0 -1.8 0M220.6 331.12a0.9 0.9 0 1 0 1.8 0a0.9 0.9 0 1 0 -1.8 0M210.85 328.94a0.9 0.9 0 1 0 1.8 0a0.9 0.9 0 1 0 -1.8 0M213.34 328.58a0.9 0.9 0 1 0 1.8 0a0.9 0.9 0 1 0 -1.8 0M215.9 328.6a0.9 0.9 0 1 0 1.8 0a0.9 0.9 0 1 0 -1.8 0M218.35 328.94a0.9 0.9 0 1 0 1.8 0a0.9 0.9 0 1 0 -1.8 0M220.81 328.78a0.9 0.9 0 1 0 1.8 0a0.9 0.9 0 1 0 -1.8 0M223.04 328.81a0.9 0.9 0 1 0 1.8 0a0.9 0.9 0 1 0 -1.8 0M207.13 326.51a0.9 0.9 0 1 0 1.8 0a0.9 0.9 0 1 0 -1.8 0M209.84 326.33a0.9 0.9 0 1 0 1.8 0a0.9 0.9 0 1 0 -1.8 0M212.27 326.2a0.9 0.9 0 1 0 1.8 0a0.9 0.9 0 1 0 -1.8 0M214.45 326.47a0.9 0.9 0 1 0 1.8 0a0.9 0.9 0 1 0 -1.8 0M217.23 326.3a0.9 0.9 0 1 0 1.8 0a0.9 0.9 0 1 0 -1.8 0M219.45 326.2a0.9 0.9 0 1 0 1.8 0a0.9 0.9 0 1 0 -1.8 0M221.9 326.23a0.9 0.9 0 1 0 1.8 0a0.9 0.9 0 1 0 -1.8 0M224.36 326.42a0.9 0.9 0 1 0 1.8 0a0.9 0.9 0 1 0 -1.8 0M226.83 326.27a0.9 0.9 0 1 0 1.8 0a0.9 0.9 0 1 0 -1.8 0M207.3 324.2a0.9 0.9 0 1 0 1.8 0a0.9 0.9 0 1 0 -1.8 0M209.19 324.02a0.9 0.9 0 1 0 1.8 0a0.9 0.9 0 1 0 -1.8 0M211 323.8a0.9 0.9 0 1 0 1.8 0a0.9 0.9 0 1 0 -1.8 0M212.94 323.78a0.9 0.9 0 1 0 1.8 0a0.9 0.9 0 1 0 -1.8 0M215.22 324.1a0.9 0.9 0 1 0 1.8 0a0.9 0.9 0 1 0 -1.8 0M216.98 324.12a0.9 0.9 0 1 0 1.8 0a0.9 0.9 0 1 0 -1.8 0M218.93 323.84a0.9 0.9 0 1 0 1.8 0a0.9 0.9 0 1 0 -1.8 0M221.24 324.25a0.9 0.9 0 1 0 1.8 0a0.9 0.9 0 1 0 -1.8 0M223.07 324.06a0.9 0.9 0 1 0 1.8 0a0.9 0.9 0 1 0 -1.8 0M224.94 324.03a0.9 0.9 0 1 0 1.8 0a0.9 0.9 0 1 0 -1.8 0M226.95 324.08a0.9 0.9 0 1 0 1.8 0a0.9 0.9 0 1 0 -1.8 0M206.99 321.74a0.9 0.9 0 1 0 1.8 0a0.9 0.9 0 1 0 -1.8 0M208.79 321.5a0.9 0.9 0 1 0 1.8 0a0.9 0.9 0 1 0 -1.8 0M210.57 321.73a0.9 0.9 0 1 0 1.8 0a0.9 0.9 0 1 0 -1.8 0M212.59 321.44a0.9 0.9 0 1 0 1.8 0a0.9 0.9 0 1 0 -1.8 0M214.3 321.82a0.9 0.9 0 1 0 1.8 0a0.9 0.9 0 1 0 -1.8 0M216.31 321.37a0.9 0.9 0 1 0 1.8 0a0.9 0.9 0 1 0 -1.8 0M218.12 321.42a0.9 0.9 0 1 0 1.8 0a0.9 0.9 0 1 0 -1.8 0M219.83 321.43a0.9 0.9 0 1 0 1.8 0a0.9 0.9 0 1 0 -1.8 0M221.76 321.74a0.9 0.9 0 1 0 1.8 0a0.9 0.9 0 1 0 -1.8 0M223.35 321.81a0.9 0.9 0 1 0 1.8 0a0.9 0.9 0 1 0 -1.8 0M225.36 321.7a0.9 0.9 0 1 0 1.8 0a0.9 0.9 0 1 0 -1.8 0M226.93 321.35a0.9 0.9 0 1 0 1.8 0a0.9 0.9 0 1 0 -1.8 0M207.24 319.34a0.9 0.9 0 1 0 1.8 0a0.9 0.9 0 1 0 -1.8 0M208.76 319.31a0.9 0.9 0 1 0 1.8 0a0.9 0.9 0 1 0 -1.8 0M210.68 319.03a0.9 0.9 0 1 0 1.8 0a0.9 0.9 0 1 0 -1.8 0M212.74 319.29a0.9 0.9 0 1 0 1.8 0a0.9 0.9 0 1 0 -1.8 0M214.47 319.02a0.9 0.9 0 1 0 1.8 0a0.9 0.9 0 1 0 -1.8 0M216.32 319.42a0.9 0.9 0 1 0 1.8 0a0.9 0.9 0 1 0 -1.8 0M218.17 319.32a0.9 0.9 0 1 0 1.8 0a0.9 0.9 0 1 0 -1.8 0M219.96 319.35a0.9 0.9 0 1 0 1.8 0a0.9 0.9 0 1 0 -1.8 0M221.68 319.17a0.9 0.9 0 1 0 1.8 0a0.9 0.9 0 1 0 -1.8 0M223.59 319.34a0.9 0.9 0 1 0 1.8 0a0.9 0.9 0 1 0 -1.8 0M225.43 319.1a0.9 0.9 0 1 0 1.8 0a0.9 0.9 0 1 0 -1.8 0M227.28 319.22a0.9 0.9 0 1 0 1.8 0a0.9 0.9 0 1 0 -1.8 0M207.06 316.94a0.9 0.9 0 1 0 1.8 0a0.9 0.9 0 1 0 -1.8 0M208.88 316.89a0.9 0.9 0 1 0 1.8 0a0.9 0.9 0 1 0 -1.8 0M210.61 316.96a0.9 0.9 0 1 0 1.8 0a0.9 0.9 0 1 0 -1.8 0M212.06 316.59a0.9 0.9 0 1 0 1.8 0a0.9 0.9 0 1 0 -1.8 0M213.83 316.97a0.9 0.9 0 1 0 1.8 0a0.9 0.9 0 1 0 -1.8 0M215.37 316.85a0.9 0.9 0 1 0 1.8 0a0.9 0.9 0 1 0 -1.8 0M217.23 316.95a0.9 0.9 0 1 0 1.8 0a0.9 0.9 0 1 0 -1.8 0M218.57 316.79a0.9 0.9 0 1 0 1.8 0a0.9 0.9 0 1 0 -1.8 0M220.24 316.61a0.9 0.9 0 1 0 1.8 0a0.9 0.9 0 1 0 -1.8 0M222.22 316.76a0.9 0.9 0 1 0 1.8 0a0.9 0.9 0 1 0 -1.8 0M223.81 316.78a0.9 0.9 0 1 0 1.8 0a0.9 0.9 0 1 0 -1.8 0M225.37 316.66a0.9 0.9 0 1 0 1.8 0a0.9 0.9 0 1 0 -1.8 0M227.04 316.97a0.9 0.9 0 1 0 1.8 0a0.9 0.9 0 1 0 -1.8 0M206.95 314.49a0.9 0.9 0 1 0 1.8 0a0.9 0.9 0 1 0 -1.8 0M208.73 314.56a0.9 0.9 0 1 0 1.8 0a0.9 0.9 0 1 0 -1.8 0M210.61 314.29a0.9 0.9 0 1 0 1.8 0a0.9 0.9 0 1 0 -1.8 0M212.74 314.33a0.9 0.9 0 1 0 1.8 0a0.9 0.9 0 1 0 -1.8 0M214.26 314.59a0.9 0.9 0 1 0 1.8 0a0.9 0.9 0 1 0 -1.8 0M216.24 314.6a0.9 0.9 0 1 0 1.8 0a0.9 0.9 0 1 0 -1.8 0M217.97 314.4a0.9 0.9 0 1 0 1.8 0a0.9 0.9 0 1 0 -1.8 0M220.01 314.4a0.9 0.9 0 1 0 1.8 0a0.9 0.9 0 1 0 -1.8 0M221.84 314.24a0.9 0.9 0 1 0 1.8 0a0.9 0.9 0 1 0 -1.8 0M223.6 314.23a0.9 0.9 0 1 0 1.8 0a0.9 0.9 0 1 0 -1.8 0M225.29 314.15a0.9 0.9 0 1 0 1.8 0a0.9 0.9 0 1 0 -1.8 0M226.97 314.62a0.9 0.9 0 1 0 1.8 0a0.9 0.9 0 1 0 -1.8 0M207.17 311.79a0.9 0.9 0 1 0 1.8 0a0.9 0.9 0 1 0 -1.8 0M208.97 311.97a0.9 0.9 0 1 0 1.8 0a0.9 0.9 0 1 0 -1.8 0M210.92 311.93a0.9 0.9 0 1 0 1.8 0a0.9 0.9 0 1 0 -1.8 0M212.62 312.07a0.9 0.9 0 1 0 1.8 0a0.9 0.9 0 1 0 -1.8 0M214.32 312.01a0.9 0.9 0 1 0 1.8 0a0.9 0.9 0 1 0 -1.8 0M216.26 312.2a0.9 0.9 0 1 0 1.8 0a0.9 0.9 0 1 0 -1.8 0M218.01 311.93a0.9 0.9 0 1 0 1.8 0a0.9 0.9 0 1 0 -1.8 0M220.02 311.78a0.9 0.9 0 1 0 1.8 0a0.9 0.9 0 1 0 -1.8 0M221.78 312.09a0.9 0.9 0 1 0 1.8 0a0.9 0.9 0 1 0 -1.8 0M223.49 311.97a0.9 0.9 0 1 0 1.8 0a0.9 0.9 0 1 0 -1.8 0M225.38 312.2a0.9 0.9 0 1 0 1.8 0a0.9 0.9 0 1 0 -1.8 0M227.19 312.12a0.9 0.9 0 1 0 1.8 0a0.9 0.9 0 1 0 -1.8 0M207.34 309.64a0.9 0.9 0 1 0 1.8 0a0.9 0.9 0 1 0 -1.8 0M209.57 309.55a0.9 0.9 0 1 0 1.8 0a0.9 0.9 0 1 0 -1.8 0M212.3 309.67a0.9 0.9 0 1 0 1.8 0a0.9 0.9 0 1 0 -1.8 0M214.56 309.73a0.9 0.9 0 1 0 1.8 0a0.9 0.9 0 1 0 -1.8 0M217.02 309.62a0.9 0.9 0 1 0 1.8 0a0.9 0.9 0 1 0 -1.8 0M219.52 309.84a0.9 0.9 0 1 0 1.8 0a0.9 0.9 0 1 0 -1.8 0M222.06 309.75a0.9 0.9 0 1 0 1.8 0a0.9 0.9 0 1 0 -1.8 0M224.52 309.54a0.9 0.9 0 1 0 1.8 0a0.9 0.9 0 1 0 -1.8 0M227.09 309.7a0.9 0.9 0 1 0 1.8 0a0.9 0.9 0 1 0 -1.8 0M209.88 307.35a0.9 0.9 0 1 0 1.8 0a0.9 0.9 0 1 0 -1.8 0M212.14 307.02a0.9 0.9 0 1 0 1.8 0a0.9 0.9 0 1 0 -1.8 0M214.66 307.39a0.9 0.9 0 1 0 1.8 0a0.9 0.9 0 1 0 -1.8 0M216.96 307.32a0.9 0.9 0 1 0 1.8 0a0.9 0.9 0 1 0 -1.8 0M219.42 307.11a0.9 0.9 0 1 0 1.8 0a0.9 0.9 0 1 0 -1.8 0M221.82 307.1a0.9 0.9 0 1 0 1.8 0a0.9 0.9 0 1 0 -1.8 0M224.4 307.43a0.9 0.9 0 1 0 1.8 0a0.9 0.9 0 1 0 -1.8 0M213.58 304.79a0.9 0.9 0 1 0 1.8 0a0.9 0.9 0 1 0 -1.8 0M215.92 305.01a0.9 0.9 0 1 0 1.8 0a0.9 0.9 0 1 0 -1.8 0M218.29 304.89a0.9 0.9 0 1 0 1.8 0a0.9 0.9 0 1 0 -1.8 0M220.72 304.71a0.9 0.9 0 1 0 1.8 0a0.9 0.9 0 1 0 -1.8 0M214.49 302.61a0.9 0.9 0 1 0 1.8 0a0.9 0.9 0 1 0 -1.8 0M217.15 302.4a0.9 0.9 0 1 0 1.8 0a0.9 0.9 0 1 0 -1.8 0M219.51 302.23a0.9 0.9 0 1 0 1.8 0a0.9 0.9 0 1 0 -1.8 0M215.69 295.09a0.9 0.9 0 1 0 1.8 0a0.9 0.9 0 1 0 -1.8 0M218.34 295.28a0.9 0.9 0 1 0 1.8 0a0.9 0.9 0 1 0 -1.8 0M196.85 444.21a0.9 0.9 0 1 0 1.8 0a0.9 0.9 0 1 0 -1.8 0M192.99 441.68a0.9 0.9 0 1 0 1.8 0a0.9 0.9 0 1 0 -1.8 0M195.67 441.35a0.9 0.9 0 1 0 1.8 0a0.9 0.9 0 1 0 -1.8 0M198.1 441.66a0.9 0.9 0 1 0 1.8 0a0.9 0.9 0 1 0 -1.8 0M200.55 441.55a0.9 0.9 0 1 0 1.8 0a0.9 0.9 0 1 0 -1.8 0M190.69 439.15a0.9 0.9 0 1 0 1.8 0a0.9 0.9 0 1 0 -1.8 0M193 439.01a0.9 0.9 0 1 0 1.8 0a0.9 0.9 0 1 0 -1.8 0M195.73 439.35a0.9 0.9 0 1 0 1.8 0a0.9 0.9 0 1 0 -1.8 0M197.84 439.11a0.9 0.9 0 1 0 1.8 0a0.9 0.9 0 1 0 -1.8 0M200.47 439.2a0.9 0.9 0 1 0 1.8 0a0.9 0.9 0 1 0 -1.8 0M202.87 439.4a0.9 0.9 0 1 0 1.8 0a0.9 0.9 0 1 0 -1.8 0M187.04 436.83a0.9 0.9 0 1 0 1.8 0a0.9 0.9 0 1 0 -1.8 0M189.59 436.56a0.9 0.9 0 1 0 1.8 0a0.9 0.9 0 1 0 -1.8 0M192.02 436.58a0.9 0.9 0 1 0 1.8 0a0.9 0.9 0 1 0 -1.8 0M194.47 436.86a0.9 0.9 0 1 0 1.8 0a0.9 0.9 0 1 0 -1.8 0M196.6 437a0.9 0.9 0 1 0 1.8 0a0.9 0.9 0 1 0 -1.8 0M199.17 436.8a0.9 0.9 0 1 0 1.8 0a0.9 0.9 0 1 0 -1.8 0M201.88 436.74a0.9 0.9 0 1 0 1.8 0a0.9 0.9 0 1 0 -1.8 0M203.98 436.65a0.9 0.9 0 1 0 1.8 0a0.9 0.9 0 1 0 -1.8 0M206.69 436.62a0.9 0.9 0 1 0 1.8 0a0.9 0.9 0 1 0 -1.8 0M186.98 434.43a0.9 0.9 0 1 0 1.8 0a0.9 0.9 0 1 0 -1.8 0M189.19 434.19a0.9 0.9 0 1 0 1.8 0a0.9 0.9 0 1 0 -1.8 0M191.41 434.37a0.9 0.9 0 1 0 1.8 0a0.9 0.9 0 1 0 -1.8 0M193.34 434.52a0.9 0.9 0 1 0 1.8 0a0.9 0.9 0 1 0 -1.8 0M195.83 434.34a0.9 0.9 0 1 0 1.8 0a0.9 0.9 0 1 0 -1.8 0M197.75 434.59a0.9 0.9 0 1 0 1.8 0a0.9 0.9 0 1 0 -1.8 0M200.23 434.45a0.9 0.9 0 1 0 1.8 0a0.9 0.9 0 1 0 -1.8 0M202.55 434.17a0.9 0.9 0 1 0 1.8 0a0.9 0.9 0 1 0 -1.8 0M204.4 434.21a0.9 0.9 0 1 0 1.8 0a0.9 0.9 0 1 0 -1.8 0M206.61 434.5a0.9 0.9 0 1 0 1.8 0a0.9 0.9 0 1 0 -1.8 0M186.87 432.23a0.9 0.9 0 1 0 1.8 0a0.9 0.9 0 1 0 -1.8 0M188.74 432.24a0.9 0.9 0 1 0 1.8 0a0.9 0.9 0 1 0 -1.8 0M190.77 431.95a0.9 0.9 0 1 0 1.8 0a0.9 0.9 0 1 0 -1.8 0M192.7 431.87a0.9 0.9 0 1 0 1.8 0a0.9 0.9 0 1 0 -1.8 0M194.99 432.25a0.9 0.9 0 1 0 1.8 0a0.9 0.9 0 1 0 -1.8 0M196.88 431.84a0.9 0.9 0 1 0 1.8 0a0.9 0.9 0 1 0 -1.8 0M198.67 431.83a0.9 0.9 0 1 0 1.8 0a0.9 0.9 0 1 0 -1.8 0M200.74 432.12a0.9 0.9 0 1 0 1.8 0a0.9 0.9 0 1 0 -1.8 0M202.62 432.02a0.9 0.9 0 1 0 1.8 0a0.9 0.9 0 1 0 -1.8 0M204.87 431.77a0.9 0.9 0 1 0 1.8 0a0.9 0.9 0 1 0 -1.8 0M206.78 432.15a0.9 0.9 0 1 0 1.8 0a0.9 0.9 0 1 0 -1.8 0M186.94 429.81a0.9 0.9 0 1 0 1.8 0a0.9 0.9 0 1 0 -1.8 0M188.82 429.42a0.9 0.9 0 1 0 1.8 0a0.9 0.9 0 1 0 -1.8 0M190.67 429.54a0.9 0.9 0 1 0 1.8 0a0.9 0.9 0 1 0 -1.8 0M192.88 429.35a0.9 0.9 0 1 0 1.8 0a0.9 0.9 0 1 0 -1.8 0M194.92 429.74a0.9 0.9 0 1 0 1.8 0a0.9 0.9 0 1 0 -1.8 0M196.81 429.35a0.9 0.9 0 1 0 1.8 0a0.9 0.9 0 1 0 -1.8 0M198.92 429.56a0.9 0.9 0 1 0 1.8 0a0.9 0.9 0 1 0 -1.8 0M200.87 429.63a0.9 0.9 0 1 0 1.8 0a0.9 0.9 0 1 0 -1.8 0M202.89 429.55a0.9 0.9 0 1 0 1.8 0a0.9 0.9 0 1 0 -1.8 0M204.98 429.83a0.9 0.9 0 1 0 1.8 0a0.9 0.9 0 1 0 -1.8 0M206.97 429.66a0.9 0.9 0 1 0 1.8 0a0.9 0.9 0 1 0 -1.8 0M186.73 427.33a0.9 0.9 0 1 0 1.8 0a0.9 0.9 0 1 0 -1.8 0M188.93 427.26a0.9 0.9 0 1 0 1.8 0a0.9 0.9 0 1 0 -1.8 0M191.11 427.38a0.9 0.9 0 1 0 1.8 0a0.9 0.9 0 1 0 -1.8 0M193.46 427.09a0.9 0.9 0 1 0 1.8 0a0.9 0.9 0 1 0 -1.8 0M195.86 426.99a0.9 0.9 0 1 0 1.8 0a0.9 0.9 0 1 0 -1.8 0M198.08 427.33a0.9 0.9 0 1 0 1.8 0a0.9 0.9 0 1 0 -1.8 0M199.99 427.33a0.9 0.9 0 1 0 1.8 0a0.9 0.9 0 1 0 -1.8 0M202.38 427.4a0.9 0.9 0 1 0 1.8 0a0.9 0.9 0 1 0 -1.8 0M204.61 427.16a0.9 0.9 0 1 0 1.8 0a0.9 0.9 0 1 0 -1.8 0M206.97 426.99a0.9 0.9 0 1 0 1.8 0a0.9 0.9 0 1 0 -1.8 0M189.49 424.77a0.9 0.9 0 1 0 1.8 0a0.9 0.9 0 1 0 -1.8 0M192.05 424.95a0.9 0.9 0 1 0 1.8 0a0.9 0.9 0 1 0 -1.8 0M194.18 424.77a0.9 0.9 0 1 0 1.8 0a0.9 0.9 0 1 0 -1.8 0M196.75 424.57a0.9 0.9 0 1 0 1.8 0a0.9 0.9 0 1 0 -1.8 0M199.38 424.7a0.9 0.9 0 1 0 1.8 0a0.9 0.9 0 1 0 -1.8 0M201.53 424.68a0.9 0.9 0 1 0 1.8 0a0.9 0.9 0 1 0 -1.8 0M204.26 424.65a0.9 0.9 0 1 0 1.8 0a0.9 0.9 0 1 0 -1.8 0M195.68 422.5a0.9 0.9 0 1 0 1.8 0a0.9 0.9 0 1 0 -1.8 0M198.08 422.29a0.9 0.9 0 1 0 1.8 0a0.9 0.9 0 1 0 -1.8 0M196.86 419.91a0.9 0.9 0 1 0 1.8 0a0.9 0.9 0 1 0 -1.8 0M196.87 412.9a0.9 0.9 0 1 0 1.8 0a0.9 0.9 0 1 0 -1.8 0M217.08 436.57a0.9 0.9 0 1 0 1.8 0a0.9 0.9 0 1 0 -1.8 0M215.8 434.3a0.9 0.9 0 1 0 1.8 0a0.9 0.9 0 1 0 -1.8 0M218.17 434.58a0.9 0.9 0 1 0 1.8 0a0.9 0.9 0 1 0 -1.8 0M213.37 431.88a0.9 0.9 0 1 0 1.8 0a0.9 0.9 0 1 0 -1.8 0M215.68 431.97a0.9 0.9 0 1 0 1.8 0a0.9 0.9 0 1 0 -1.8 0M217.94 431.79a0.9 0.9 0 1 0 1.8 0a0.9 0.9 0 1 0 -1.8 0M220.69 432.19a0.9 0.9 0 1 0 1.8 0a0.9 0.9 0 1 0 -1.8 0M209.64 429.52a0.9 0.9 0 1 0 1.8 0a0.9 0.9 0 1 0 -1.8 0M212.17 429.44a0.9 0.9 0 1 0 1.8 0a0.9 0.9 0 1 0 -1.8 0M214.3 429.76a0.9 0.9 0 1 0 1.8 0a0.9 0.9 0 1 0 -1.8 0M216.75 429.44a0.9 0.9 0 1 0 1.8 0a0.9 0.9 0 1 0 -1.8 0M219.35 429.52a0.9 0.9 0 1 0 1.8 0a0.9 0.9 0 1 0 -1.8 0M221.67 429.81a0.9 0.9 0 1 0 1.8 0a0.9 0.9 0 1 0 -1.8 0M224.24 429.74a0.9 0.9 0 1 0 1.8 0a0.9 0.9 0 1 0 -1.8 0M208.51 427.34a0.9 0.9 0 1 0 1.8 0a0.9 0.9 0 1 0 -1.8 0M210.83 427.22a0.9 0.9 0 1 0 1.8 0a0.9 0.9 0 1 0 -1.8 0M213.37 427.17a0.9 0.9 0 1 0 1.8 0a0.9 0.9 0 1 0 -1.8 0M215.51 427.41a0.9 0.9 0 1 0 1.8 0a0.9 0.9 0 1 0 -1.8 0M218.25 427.29a0.9 0.9 0 1 0 1.8 0a0.9 0.9 0 1 0 -1.8 0M220.67 427.07a0.9 0.9 0 1 0 1.8 0a0.9 0.9 0 1 0 -1.8 0M223.01 427.36a0.9 0.9 0 1 0 1.8 0a0.9 0.9 0 1 0 -1.8 0M225.66 427.41a0.9 0.9 0 1 0 1.8 0a0.9 0.9 0 1 0 -1.8 0M207.39 425.02a0.9 0.9 0 1 0 1.8 0a0.9 0.9 0 1 0 -1.8 0M209.8 424.6a0.9 0.9 0 1 0 1.8 0a0.9 0.9 0 1 0 -1.8 0M212.15 425.04a0.9 0.9 0 1 0 1.8 0a0.9 0.9 0 1 0 -1.8 0M214.46 424.72a0.9 0.9 0 1 0 1.8 0a0.9 0.9 0 1 0 -1.8 0M216.74 424.74a0.9 0.9 0 1 0 1.8 0a0.9 0.9 0 1 0 -1.8 0M219.12 425.03a0.9 0.9 0 1 0 1.8 0a0.9 0.9 0 1 0 -1.8 0M221.65 424.69a0.9 0.9 0 1 0 1.8 0a0.9 0.9 0 1 0 -1.8 0M223.96 424.84a0.9 0.9 0 1 0 1.8 0a0.9 0.9 0 1 0 -1.8 0M226.27 424.94a0.9 0.9 0 1 0 1.8 0a0.9 0.9 0 1 0 -1.8 0M207.39 422.61a0.9 0.9 0 1 0 1.8 0a0.9 0.9 0 1 0 -1.8 0M209.39 422.63a0.9 0.9 0 1 0 1.8 0a0.9 0.9 0 1 0 -1.8 0M211.69 422.24a0.9 0.9 0 1 0 1.8 0a0.9 0.9 0 1 0 -1.8 0M213.61 422.25a0.9 0.9 0 1 0 1.8 0a0.9 0.9 0 1 0 -1.8 0M215.76 422.5a0.9 0.9 0 1 0 1.8 0a0.9 0.9 0 1 0 -1.8 0M218.04 422.44a0.9 0.9 0 1 0 1.8 0a0.9 0.9 0 1 0 -1.8 0M220.03 422.25a0.9 0.9 0 1 0 1.8 0a0.9 0.9 0 1 0 -1.8 0M222.01 422.41a0.9 0.9 0 1 0 1.8 0a0.9 0.9 0 1 0 -1.8 0M224.35 422.53a0.9 0.9 0 1 0 1.8 0a0.9 0.9 0 1 0 -1.8 0M226.29 422.21a0.9 0.9 0 1 0 1.8 0a0.9 0.9 0 1 0 -1.8 0M207.24 419.89a0.9 0.9 0 1 0 1.8 0a0.9 0.9 0 1 0 -1.8 0M209.67 420.1a0.9 0.9 0 1 0 1.8 0a0.9 0.9 0 1 0 -1.8 0M211.63 419.93a0.9 0.9 0 1 0 1.8 0a0.9 0.9 0 1 0 -1.8 0M213.82 420.02a0.9 0.9 0 1 0 1.8 0a0.9 0.9 0 1 0 -1.8 0M215.72 420.04a0.9 0.9 0 1 0 1.8 0a0.9 0.9 0 1 0 -1.8 0M218.15 420.2a0.9 0.9 0 1 0 1.8 0a0.9 0.9 0 1 0 -1.8 0M219.96 419.86a0.9 0.9 0 1 0 1.8 0a0.9 0.9 0 1 0 -1.8 0M222.03 420.04a0.9 0.9 0 1 0 1.8 0a0.9 0.9 0 1 0 -1.8 0M224.38 420.23a0.9 0.9 0 1 0 1.8 0a0.9 0.9 0 1 0 -1.8 0M226.47 419.94a0.9 0.9 0 1 0 1.8 0a0.9 0.9 0 1 0 -1.8 0M207.41 417.56a0.9 0.9 0 1 0 1.8 0a0.9 0.9 0 1 0 -1.8 0M209.92 417.36a0.9 0.9 0 1 0 1.8 0a0.9 0.9 0 1 0 -1.8 0M211.96 417.38a0.9 0.9 0 1 0 1.8 0a0.9 0.9 0 1 0 -1.8 0M214.5 417.62a0.9 0.9 0 1 0 1.8 0a0.9 0.9 0 1 0 -1.8 0M216.85 417.54a0.9 0.9 0 1 0 1.8 0a0.9 0.9 0 1 0 -1.8 0M219.22 417.42a0.9 0.9 0 1 0 1.8 0a0.9 0.9 0 1 0 -1.8 0M221.82 417.54a0.9 0.9 0 1 0 1.8 0a0.9 0.9 0 1 0 -1.8 0M224.04 417.43a0.9 0.9 0 1 0 1.8 0a0.9 0.9 0 1 0 -1.8 0M226.26 417.41a0.9 0.9 0 1 0 1.8 0a0.9 0.9 0 1 0 -1.8 0M207.37 415.22a0.9 0.9 0 1 0 1.8 0a0.9 0.9 0 1 0 -1.8 0M209.58 414.98a0.9 0.9 0 1 0 1.8 0a0.9 0.9 0 1 0 -1.8 0M212.12 415.07a0.9 0.9 0 1 0 1.8 0a0.9 0.9 0 1 0 -1.8 0M214.63 415.07a0.9 0.9 0 1 0 1.8 0a0.9 0.9 0 1 0 -1.8 0M217.03 415.07a0.9 0.9 0 1 0 1.8 0a0.9 0.9 0 1 0 -1.8 0M219.11 415.19a0.9 0.9 0 1 0 1.8 0a0.9 0.9 0 1 0 -1.8 0M221.61 415.12a0.9 0.9 0 1 0 1.8 0a0.9 0.9 0 1 0 -1.8 0M224.13 415.06a0.9 0.9 0 1 0 1.8 0a0.9 0.9 0 1 0 -1.8 0M226.47 415.37a0.9 0.9 0 1 0 1.8 0a0.9 0.9 0 1 0 -1.8 0M207.23 412.72a0.9 0.9 0 1 0 1.8 0a0.9 0.9 0 1 0 -1.8 0M209.61 412.87a0.9 0.9 0 1 0 1.8 0a0.9 0.9 0 1 0 -1.8 0M212.12 412.7a0.9 0.9 0 1 0 1.8 0a0.9 0.9 0 1 0 -1.8 0M214.53 413.02a0.9 0.9 0 1 0 1.8 0a0.9 0.9 0 1 0 -1.8 0M216.8 412.63a0.9 0.9 0 1 0 1.8 0a0.9 0.9 0 1 0 -1.8 0M219.2 412.71a0.9 0.9 0 1 0 1.8 0a0.9 0.9 0 1 0 -1.8 0M221.81 412.9a0.9 0.9 0 1 0 1.8 0a0.9 0.9 0 1 0 -1.8 0M224 412.63a0.9 0.9 0 1 0 1.8 0a0.9 0.9 0 1 0 -1.8 0M226.22 412.61a0.9 0.9 0 1 0 1.8 0a0.9 0.9 0 1 0 -1.8 0M210.71 410.2a0.9 0.9 0 1 0 1.8 0a0.9 0.9 0 1 0 -1.8 0M213.32 410.51a0.9 0.9 0 1 0 1.8 0a0.9 0.9 0 1 0 -1.8 0M215.68 410.23a0.9 0.9 0 1 0 1.8 0a0.9 0.9 0 1 0 -1.8 0M218.19 410.37a0.9 0.9 0 1 0 1.8 0a0.9 0.9 0 1 0 -1.8 0M220.64 410.2a0.9 0.9 0 1 0 1.8 0a0.9 0.9 0 1 0 -1.8 0M223.19 410.15a0.9 0.9 0 1 0 1.8 0a0.9 0.9 0 1 0 -1.8 0M210.61 408.09a0.9 0.9 0 1 0 1.8 0a0.9 0.9 0 1 0 -1.8 0M213.42 407.92a0.9 0.9 0 1 0 1.8 0a0.9 0.9 0 1 0 -1.8 0M215.58 408.09a0.9 0.9 0 1 0 1.8 0a0.9 0.9 0 1 0 -1.8 0M218.01 407.95a0.9 0.9 0 1 0 1.8 0a0.9 0.9 0 1 0 -1.8 0M220.65 407.97a0.9 0.9 0 1 0 1.8 0a0.9 0.9 0 1 0 -1.8 0M222.89 407.79a0.9 0.9 0 1 0 1.8 0a0.9 0.9 0 1 0 -1.8 0M214.65 405.81a0.9 0.9 0 1 0 1.8 0a0.9 0.9 0 1 0 -1.8 0M216.74 405.6a0.9 0.9 0 1 0 1.8 0a0.9 0.9 0 1 0 -1.8 0M219.35 405.45a0.9 0.9 0 1 0 1.8 0a0.9 0.9 0 1 0 -1.8 0M216.97 403.2a0.9 0.9 0 1 0 1.8 0a0.9 0.9 0 1 0 -1.8 0M217.02 400.7a0.9 0.9 0 1 0 1.8 0a0.9 0.9 0 1 0 -1.8 0M217.07 379.36a0.9 0.9 0 1 0 1.8 0a0.9 0.9 0 1 0 -1.8 0"/>
<path fill="#111" d="M236.5 293.75a0.9 0.9 0 1 0 1.8 0a0.9 0.9 0 1 0 -1.8 0M236.5 307.25a0.9 0.9 0 1 0 1.8 0a0.9 0.9 0 1 0 -1.8 0M236 314a0.9 0.9 0 1 0 1.8 0a0.9 0.9 0 1 0 -1.8 0M295.85 337.38a0.9 0.9 0 1 0 1.8 0a0.9 0.9 0 1 0 -1.8 0M298.61 337.27a0.9 0.9 0 1 0 1.8 0a0.9 0.9 0 1 0 -1.8 0M294.55 334.61a0.9 0.9 0 1 0 1.8 0a0.9 0.9 0 1 0 -1.8 0M297.11 334.97a0.9 0.9 0 1 0 1.8 0a0.9 0.9 0 1 0 -1.8 0M302.51 334.8a0.9 0.9 0 1 0 1.8 0a0.9 0.9 0 1 0 -1.8 0M308.03 334.62a0.9 0.9 0 1 0 1.8 0a0.9 0.9 0 1 0 -1.8 0M290.34 331.88a0.9 0.9 0 1 0 1.8 0a0.9 0.9 0 1 0 -1.8 0M295.94 332.18a0.9 0.9 0 1 0 1.8 0a0.9 0.9 0 1 0 -1.8 0M298.53 332.05a0.9 0.9 0 1 0 1.8 0a0.9 0.9 0 1 0 -1.8 0M301.23 331.99a0.9 0.9 0 1 0 1.8 0a0.9 0.9 0 1 0 -1.8 0M304.04 332.24a0.9 0.9 0 1 0 1.8 0a0.9 0.9 0 1 0 -1.8 0M306.74 331.93a0.9 0.9 0 1 0 1.8 0a0.9 0.9 0 1 0 -1.8 0M291.85 329.56a0.9 0.9 0 1 0 1.8 0a0.9 0.9 0 1 0 -1.8 0M294.51 329.59a0.9 0.9 0 1 0 1.8 0a0.9 0.9 0 1 0 -1.8 0M297 329.5a0.9 0.9 0 1 0 1.8 0a0.9 0.9 0 1 0 -1.8 0M299.93 329.46a0.9 0.9 0 1 0 1.8 0a0.9 0.9 0 1 0 -1.8 0M302.46 329.18a0.9 0.9 0 1 0 1.8 0a0.9 0.9 0 1 0 -1.8 0M294.64 326.85a0.9 0.9 0 1 0 1.8 0a0.9 0.9 0 1 0 -1.8 0M297.09 326.8a0.9 0.9 0 1 0 1.8 0a0.9 0.9 0 1 0 -1.8 0M299.68 326.87a0.9 0.9 0 1 0 1.8 0a0.9 0.9 0 1 0 -1.8 0M302.48 326.45a0.9 0.9 0 1 0 1.8 0a0.9 0.9 0 1 0 -1.8 0M305.3 326.52a0.9 0.9 0 1 0 1.8 0a0.9 0.9 0 1 0 -1.8 0M294.29 323.86a0.9 0.9 0 1 0 1.8 0a0.9 0.9 0 1 0 -1.8 0M297.2 323.92a0.9 0.9 0 1 0 1.8 0a0.9 0.9 0 1 0 -1.8 0M299.78 324.03a0.9 0.9 0 1 0 1.8 0a0.9 0.9 0 1 0 -1.8 0M302.44 324.15a0.9 0.9 0 1 0 1.8 0a0.9 0.9 0 1 0 -1.8 0M305.13 324.17a0.9 0.9 0 1 0 1.8 0a0.9 0.9 0 1 0 -1.8 0M292.91 321.3a0.9 0.9 0 1 0 1.8 0a0.9 0.9 0 1 0 -1.8 0M295.77 321.08a0.9 0.9 0 1 0 1.8 0a0.9 0.9 0 1 0 -1.8 0M298.55 321.41a0.9 0.9 0 1 0 1.8 0a0.9 0.9 0 1 0 -1.8 0M301.23 321.25a0.9 0.9 0 1 0 1.8 0a0.9 0.9 0 1 0 -1.8 0M293.16 318.48a0.9 0.9 0 1 0 1.8 0a0.9 0.9 0 1 0 -1.8 0M295.86 318.64a0.9 0.9 0 1 0 1.8 0a0.9 0.9 0 1 0 -1.8 0M301.35 318.66a0.9 0.9 0 1 0 1.8 0a0.9 0.9 0 1 0 -1.8 0M303.78 318.66a0.9 0.9 0 1 0 1.8 0a0.9 0.9 0 1 0 -1.8 0M295.67 316.03a0.9 0.9 0 1 0 1.8 0a0.9 0.9 0 1 0 -1.8 0M298.33 316.1a0.9 0.9 0 1 0 1.8 0a0.9 0.9 0 1 0 -1.8 0M301.01 316.04a0.9 0.9 0 1 0 1.8 0a0.9 0.9 0 1 0 -1.8 0M297.26 313.05a0.9 0.9 0 1 0 1.8 0a0.9 0.9 0 1 0 -1.8 0M299.95 313.37a0.9 0.9 0 1 0 1.8 0a0.9 0.9 0 1 0 -1.8 0M298.42 267.44a0.9 0.9 0 1 0 1.8 0a0.9 0.9 0 1 0 -1.8 0M298.31 305.22a0.9 0.9 0 1 0 1.8 0a0.9 0.9 0 1 0 -1.8 0M298.55 307.56a0.9 0.9 0 1 0 1.8 0a0.9 0.9 0 1 0 -1.8 0M318.86 329.51a0.9 0.9 0 1 0 1.8 0a0.9 0.9 0 1 0 -1.8 0M321.58 329.64a0.9 0.9 0 1 0 1.8 0a0.9 0.9 0 1 0 -1.8 0M324.07 329.52a0.9 0.9 0 1 0 1.8 0a0.9 0.9 0 1 0 -1.8 0M310.44 326.81a0.9 0.9 0 1 0 1.8 0a0.9 0.9 0 1 0 -1.8 0M313.31 326.46a0.9 0.9 0 1 0 1.8 0a0.9 0.9 0 1 0 -1.8 0M316.13 326.94a0.9 0.9 0 1 0 1.8 0a0.9 0.9 0 1 0 -1.8 0M318.53 326.84a0.9 0.9 0 1 0 1.8 0a0.9 0.9 0 1 0 -1.8 0M324.27 326.88a0.9 0.9 0 1 0 1.8 0a0.9 0.9 0 1 0 -1.8 0M326.74 326.73a0.9 0.9 0 1 0 1.8 0a0.9 0.9 0 1 0 -1.8 0M310.76 323.94a0.9 0.9 0 1 0 1.8 0a0.9 0.9 0 1 0 -1.8 0M313.14 324.05a0.9 0.9 0 1 0 1.8 0a0.9 0.9 0 1 0 -1.8 0M315.85 323.85a0.9 0.9 0 1 0 1.8 0a0.9 0.9 0 1 0 -1.8 0M318.68 324.04a0.9 0.9 0 1 0 1.8 0a0.9 0.9 0 1 0 -1.8 0M321.45 324.1a0.9 0.9 0 1 0 1.8 0a0.9 0.9 0 1 0 -1.8 0M324.08 323.78a0.9 0.9 0 1 0 1.8 0a0.9 0.9 0 1 0 -1.8 0M326.89 323.78a0.9 0.9 0 1 0 1.8 0a0.9 0.9 0 1 0 -1.8 0M308.74 321.11a0.9 0.9 0 1 0 1.8 0a0.9 0.9 0 1 0 -1.8 0M311.2 321.24a0.9 0.9 0 1 0 1.8 0a0.9 0.9 0 1 0 -1.8 0M313.78 321.45a0.9 0.9 0 1 0 1.8 0a0.9 0.9 0 1 0 -1.8 0M316.36 321.05a0.9 0.9 0 1 0 1.8 0a0.9 0.9 0 1 0 -1.8 0M318.73 321.42a0.9 0.9 0 1 0 1.8 0a0.9 0.9 0 1 0 -1.8 0M321.09 321.42a0.9 0.9 0 1 0 1.8 0a0.9 0.9 0 1 0 -1.8 0M323.76 321.17a0.9 0.9 0 1 0 1.8 0a0.9 0.9 0 1 0 -1.8 0M326.36 321.15a0.9 0.9 0 1 0 1.8 0a0.9 0.9 0 1 0 -1.8 0M328.5 321.28a0.9 0.9 0 1 0 1.8 0a0.9 0.9 0 1 0 -1.8 0M308.56 318.36a0.9 0.9 0 1 0 1.8 0a0.9 0.9 0 1 0 -1.8 0M311.03 318.4a0.9 0.9 0 1 0 1.8 0a0.9 0.9 0 1 0 -1.8 0M313.33 318.7a0.9 0.9 0 1 0 1.8 0a0.9 0.9 0 1 0 -1.8 0M315.24 318.75a0.9 0.9 0 1 0 1.8 0a0.9 0.9 0 1 0 -1.8 0M317.45 318.61a0.9 0.9 0 1 0 1.8 0a0.9 0.9 0 1 0 -1.8 0M319.65 318.74a0.9 0.9 0 1 0 1.8 0a0.9 0.9 0 1 0 -1.8 0M322.19 318.81a0.9 0.9 0 1 0 1.8 0a0.9 0.9 0 1 0 -1.8 0M324.06 318.78a0.9 0.9 0 1 0 1.8 0a0.9 0.9 0 1 0 -1.8 0M326.5 318.76a0.9 0.9 0 1 0 1.8 0a0.9 0.9 0 1 0 -1.8 0M328.7 318.66a0.9 0.9 0 1 0 1.8 0a0.9 0.9 0 1 0 -1.8 0M309.32 315.93a0.9 0.9 0 1 0 1.8 0a0.9 0.9 0 1 0 -1.8 0M311.83 315.74a0.9 0.9 0 1 0 1.8 0a0.9 0.9 0 1 0 -1.8 0M314.65 316.07a0.9 0.9 0 1 0 1.8 0a0.9 0.9 0 1 0 -1.8 0M317.23 316a0.9 0.9 0 1 0 1.8 0a0.9 0.9 0 1 0 -1.8 0M320.14 315.99a0.9 0.9 0 1 0 1.8 0a0.9 0.9 0 1 0 -1.8 0M322.94 315.96a0.9 0.9 0 1 0 1.8 0a0.9 0.9 0 1 0 -1.8 0M325.28 315.91a0.9 0.9 0 1 0 1.8 0a0.9 0.9 0 1 0 -1.8 0M328.22 315.69a0.9 0.9 0 1 0 1.8 0a0.9 0.9 0 1 0 -1.8 0M309.17 313.1a0.9 0.9 0 1 0 1.8 0a0.9 0.9 0 1 0 -1.8 0M311.95 313.24a0.9 0.9 0 1 0 1.8 0a0.9 0.9 0 1 0 -1.8 0M314.58 313.05a0.9 0.9 0 1 0 1.8 0a0.9 0.9 0 1 0 -1.8 0M317.18 312.97a0.9 0.9 0 1 0 1.8 0a0.9 0.9 0 1 0 -1.8 0M320.12 313.33a0.9 0.9 0 1 0 1.8 0a0.9 0.9 0 1 0 -1.8 0M322.64 313.14a0.9 0.9 0 1 0 1.8 0a0.9 0.9 0 1 0 -1.8 0M325.64 313.41a0.9 0.9 0 1 0 1.8 0a0.9 0.9 0 1 0 -1.8 0M328.18 313.06a0.9 0.9 0 1 0 1.8 0a0.9 0.9 0 1 0 -1.8 0M310.67 310.32a0.9 0.9 0 1 0 1.8 0a0.9 0.9 0 1 0 -1.8 0M313.46 310.65a0.9 0.9 0 1 0 1.8 0a0.9 0.9 0 1 0 -1.8 0M315.82 310.56a0.9 0.9 0 1 0 1.8 0a0.9 0.9 0 1 0 -1.8 0M318.62 310.38a0.9 0.9 0 1 0 1.8 0a0.9 0.9 0 1 0 -1.8 0M321.25 310.64a0.9 0.9 0 1 0 1.8 0a0.9 0.9 0 1 0 -1.8 0M324.24 310.26a0.9 0.9 0 1 0 1.8 0a0.9 0.9 0 1 0 -1.8 0M326.75 310.33a0.9 0.9 0 1 0 1.8 0a0.9 0.9 0 1 0 -1.8 0M310.41 307.82a0.9 0.9 0 1 0 1.8 0a0.9 0.9 0 1 0 -1.8 0M313.24 307.82a0.9 0.9 0 1 0 1.8 0a0.9 0.9 0 1 0 -1.8 0M315.94 307.96a0.9 0.9 0 1 0 1.8 0a0.9 0.9 0 1 0 -1.8 0M318.5 307.94a0.9 0.9 0 1 0 1.8 0a0.9 0.9 0 1 0 -1.8 0M321.3 307.72a0.9 0.9 0 1 0 1.8 0a0.9 0.9 0 1 0 -1.8 0M323.93 307.63a0.9 0.9 0 1 0 1.8 0a0.9 0.9 0 1 0 -1.8 0M326.61 307.98a0.9 0.9 0 1 0 1.8 0a0.9 0.9 0 1 0 -1.8 0M314.6 305.12a0.9 0.9 0 1 0 1.8 0a0.9 0.9 0 1 0 -1.8 0M317.54 304.93a0.9 0.9 0 1 0 1.8 0a0.9 0.9 0 1 0 -1.8 0M320.06 305.17a0.9 0.9 0 1 0 1.8 0a0.9 0.9 0 1 0 -1.8 0M322.77 305.32a0.9 0.9 0 1 0 1.8 0a0.9 0.9 0 1 0 -1.8 0M314.71 302.26a0.9 0.9 0 1 0 1.8 0a0.9 0.9 0 1 0 -1.8 0M317.45 302.59a0.9 0.9 0 1 0 1.8 0a0.9 0.9 0 1 0 -1.8 0M320.14 302.37a0.9 0.9 0 1 0 1.8 0a0.9 0.9 0 1 0 -1.8 0M322.6 302.62a0.9 0.9 0 1 0 1.8 0a0.9 0.9 0 1 0 -1.8 0M317.4 299.53a0.9 0.9 0 1 0 1.8 0a0.9 0.9 0 1 0 -1.8 0M320.23 299.59a0.9 0.9 0 1 0 1.8 0a0.9 0.9 0 1 0 -1.8 0M317.18 334.75a0.9 0.9 0 1 0 1.8 0a0.9 0.9 0 1 0 -1.8 0M316.18 337.41a0.9 0.9 0 1 0 1.8 0a0.9 0.9 0 1 0 -1.8 0M318.58 337.44a0.9 0.9 0 1 0 1.8 0a0.9 0.9 0 1 0 -1.8 0M339.6 299a0.9 0.9 0 1 0 1.8 0a0.9 0.9 0 1 0 -1.8 0M339.6 305.75a0.9 0.9 0 1 0 1.8 0a0.9 0.9 0 1 0 -1.8 0M339.1 311.75a0.9 0.9 0 1 0 1.8 0a0.9 0.9 0 1 0 -1.8 0M293.08 442.84a0.9 0.9 0 1 0 1.8 0a0.9 0.9 0 1 0 -1.8 0M298.49 442.95a0.9 0.9 0 1 0 1.8 0a0.9 0.9 0 1 0 -1.8 0M303.62 442.84a0.9 0.9 0 1 0 1.8 0a0.9 0.9 0 1 0 -1.8 0M292.86 440.07a0.9 0.9 0 1 0 1.8 0a0.9 0.9 0 1 0 -1.8 0M295.57 439.92a0.9 0.9 0 1 0 1.8 0a0.9 0.9 0 1 0 -1.8 0M300.99 440.3a0.9 0.9 0 1 0 1.8 0a0.9 0.9 0 1 0 -1.8 0M303.86 439.98a0.9 0.9 0 1 0 1.8 0a0.9 0.9 0 1 0 -1.8 0M291.45 437.17a0.9 0.9 0 1 0 1.8 0a0.9 0.9 0 1 0 -1.8 0M294.29 437.59a0.9 0.9 0 1 0 1.8 0a0.9 0.9 0 1 0 -1.8 0M297.25 437.31a0.9 0.9 0 1 0 1.8 0a0.9 0.9 0 1 0 -1.8 0M299.91 437.54a0.9 0.9 0 1 0 1.8 0a0.9 0.9 0 1 0 -1.8 0M302.6 437.44a0.9 0.9 0 1 0 1.8 0a0.9 0.9 0 1 0 -1.8 0M305.34 437.47a0.9 0.9 0 1 0 1.8 0a0.9 0.9 0 1 0 -1.8 0M291.64 434.62a0.9 0.9 0 1 0 1.8 0a0.9 0.9 0 1 0 -1.8 0M294.3 434.71a0.9 0.9 0 1 0 1.8 0a0.9 0.9 0 1 0 -1.8 0M297.09 434.56a0.9 0.9 0 1 0 1.8 0a0.9 0.9 0 1 0 -1.8 0M299.66 434.7a0.9 0.9 0 1 0 1.8 0a0.9 0.9 0 1 0 -1.8 0M302.45 434.66a0.9 0.9 0 1 0 1.8 0a0.9 0.9 0 1 0 -1.8 0M305.22 434.54a0.9 0.9 0 1 0 1.8 0a0.9 0.9 0 1 0 -1.8 0M293.11 432.1a0.9 0.9 0 1 0 1.8 0a0.9 0.9 0 1 0 -1.8 0M295.81 432.01a0.9 0.9 0 1 0 1.8 0a0.9 0.9 0 1 0 -1.8 0M298.3 432.21a0.9 0.9 0 1 0 1.8 0a0.9 0.9 0 1 0 -1.8 0M301.1 431.94a0.9 0.9 0 1 0 1.8 0a0.9 0.9 0 1 0 -1.8 0M303.72 431.95a0.9 0.9 0 1 0 1.8 0a0.9 0.9 0 1 0 -1.8 0M293.09 429.16a0.9 0.9 0 1 0 1.8 0a0.9 0.9 0 1 0 -1.8 0M295.68 429.23a0.9 0.9 0 1 0 1.8 0a0.9 0.9 0 1 0 -1.8 0M298.32 429.23a0.9 0.9 0 1 0 1.8 0a0.9 0.9 0 1 0 -1.8 0M301.2 429.42a0.9 0.9 0 1 0 1.8 0a0.9 0.9 0 1 0 -1.8 0M303.68 429.17a0.9 0.9 0 1 0 1.8 0a0.9 0.9 0 1 0 -1.8 0M288.84 426.55a0.9 0.9 0 1 0 1.8 0a0.9 0.9 0 1 0 -1.8 0M293.81 426.78a0.9 0.9 0 1 0 1.8 0a0.9 0.9 0 1 0 -1.8 0M298.34 426.59a0.9 0.9 0 1 0 1.8 0a0.9 0.9 0 1 0 -1.8 0M300.86 426.72a0.9 0.9 0 1 0 1.8 0a0.9 0.9 0 1 0 -1.8 0M305.4 426.8a0.9 0.9 0 1 0 1.8 0a0.9 0.9 0 1 0 -1.8 0M291.52 423.73a0.9 0.9 0 1 0 1.8 0a0.9 0.9 0 1 0 -1.8 0M294.26 424.11a0.9 0.9 0 1 0 1.8 0a0.9 0.9 0 1 0 -1.8 0M297.19 423.82a0.9 0.9 0 1 0 1.8 0a0.9 0.9 0 1 0 -1.8 0M302.42 423.75a0.9 0.9 0 1 0 1.8 0a0.9 0.9 0 1 0 -1.8 0M295.9 421.44a0.9 0.9 0 1 0 1.8 0a0.9 0.9 0 1 0 -1.8 0M298.59 421.15a0.9 0.9 0 1 0 1.8 0a0.9 0.9 0 1 0 -1.8 0M300.97 421.34a0.9 0.9 0 1 0 1.8 0a0.9 0.9 0 1 0 -1.8 0M296.9 418.41a0.9 0.9 0 1 0 1.8 0a0.9 0.9 0 1 0 -1.8 0M299.6 418.27a0.9 0.9 0 1 0 1.8 0a0.9 0.9 0 1 0 -1.8 0M298.49 415.65a0.9 0.9 0 1 0 1.8 0a0.9 0.9 0 1 0 -1.8 0M298.43 399.64a0.9 0.9 0 1 0 1.8 0a0.9 0.9 0 1 0 -1.8 0M298.29 404.8a0.9 0.9 0 1 0 1.8 0a0.9 0.9 0 1 0 -1.8 0M298.48 407.87a0.9 0.9 0 1 0 1.8 0a0.9 0.9 0 1 0 -1.8 0M298.3 413.09a0.9 0.9 0 1 0 1.8 0a0.9 0.9 0 1 0 -1.8 0M316.32 431.98a0.9 0.9 0 1 0 1.8 0a0.9 0.9 0 1 0 -1.8 0M318.99 431.84a0.9 0.9 0 1 0 1.8 0a0.9 0.9 0 1 0 -1.8 0M313.41 429.53a0.9 0.9 0 1 0 1.8 0a0.9 0.9 0 1 0 -1.8 0M316.44 429.43a0.9 0.9 0 1 0 1.8 0a0.9 0.9 0 1 0 -1.8 0M319.05 429.52a0.9 0.9 0 1 0 1.8 0a0.9 0.9 0 1 0 -1.8 0M321.8 429.21a0.9 0.9 0 1 0 1.8 0a0.9 0.9 0 1 0 -1.8 0M310.72 426.35a0.9 0.9 0 1 0 1.8 0a0.9 0.9 0 1 0 -1.8 0M313.51 426.58a0.9 0.9 0 1 0 1.8 0a0.9 0.9 0 1 0 -1.8 0M316.42 426.52a0.9 0.9 0 1 0 1.8 0a0.9 0.9 0 1 0 -1.8 0M318.9 426.71a0.9 0.9 0 1 0 1.8 0a0.9 0.9 0 1 0 -1.8 0M321.49 426.61a0.9 0.9 0 1 0 1.8 0a0.9 0.9 0 1 0 -1.8 0M324.2 426.5a0.9 0.9 0 1 0 1.8 0a0.9 0.9 0 1 0 -1.8 0M308.51 423.69a0.9 0.9 0 1 0 1.8 0a0.9 0.9 0 1 0 -1.8 0M311.35 423.83a0.9 0.9 0 1 0 1.8 0a0.9 0.9 0 1 0 -1.8 0M313.59 423.98a0.9 0.9 0 1 0 1.8 0a0.9 0.9 0 1 0 -1.8 0M316.33 423.81a0.9 0.9 0 1 0 1.8 0a0.9 0.9 0 1 0 -1.8 0M318.82 424.07a0.9 0.9 0 1 0 1.8 0a0.9 0.9 0 1 0 -1.8 0M321.39 423.86a0.9 0.9 0 1 0 1.8 0a0.9 0.9 0 1 0 -1.8 0M324.21 423.83a0.9 0.9 0 1 0 1.8 0a0.9 0.9 0 1 0 -1.8 0M326.56 423.73a0.9 0.9 0 1 0 1.8 0a0.9 0.9 0 1 0 -1.8 0M308.47 421.41a0.9 0.9 0 1 0 1.8 0a0.9 0.9 0 1 0 -1.8 0M310.98 420.98a0.9 0.9 0 1 0 1.8 0a0.9 0.9 0 1 0 -1.8 0M313.05 421.39a0.9 0.9 0 1 0 1.8 0a0.9 0.9 0 1 0 -1.8 0M315.28 421.15a0.9 0.9 0 1 0 1.8 0a0.9 0.9 0 1 0 -1.8 0M317.42 421.22a0.9 0.9 0 1 0 1.8 0a0.9 0.9 0 1 0 -1.8 0M319.97 421.22a0.9 0.9 0 1 0 1.8 0a0.9 0.9 0 1 0 -1.8 0M321.93 421.04a0.9 0.9 0 1 0 1.8 0a0.9 0.9 0 1 0 -1.8 0M324.22 421.36a0.9 0.9 0 1 0 1.8 0a0.9 0.9 0 1 0 -1.8 0M326.6 421.3a0.9 0.9 0 1 0 1.8 0a0.9 0.9 0 1 0 -1.8 0M308.69 418.31a0.9 0.9 0 1 0 1.8 0a0.9 0.9 0 1 0 -1.8 0M310.51 418.4a0.9 0.9 0 1 0 1.8 0a0.9 0.9 0 1 0 -1.8 0M312.48 418.74a0.9 0.9 0 1 0 1.8 0a0.9 0.9 0 1 0 -1.8 0M314.72 418.72a0.9 0.9 0 1 0 1.8 0a0.9 0.9 0 1 0 -1.8 0M316.73 418.59a0.9 0.9 0 1 0 1.8 0a0.9 0.9 0 1 0 -1.8 0M318.7 418.41a0.9 0.9 0 1 0 1.8 0a0.9 0.9 0 1 0 -1.8 0M320.45 418.68a0.9 0.9 0 1 0 1.8 0a0.9 0.9 0 1 0 -1.8 0M322.6 418.52a0.9 0.9 0 1 0 1.8 0a0.9 0.9 0 1 0 -1.8 0M324.47 418.28a0.9 0.9 0 1 0 1.8 0a0.9 0.9 0 1 0 -1.8 0M326.77 418.29a0.9 0.9 0 1 0 1.8 0a0.9 0.9 0 1 0 -1.8 0M310.72 415.96a0.9 0.9 0 1 0 1.8 0a0.9 0.9 0 1 0 -1.8 0M313.56 415.56a0.9 0.9 0 1 0 1.8 0a0.9 0.9 0 1 0 -1.8 0M316.41 415.77a0.9 0.9 0 1 0 1.8 0a0.9 0.9 0 1 0 -1.8 0M319.08 415.89a0.9 0.9 0 1 0 1.8 0a0.9 0.9 0 1 0 -1.8 0M321.66 415.98a0.9 0.9 0 1 0 1.8 0a0.9 0.9 0 1 0 -1.8 0M324.23 416a0.9 0.9 0 1 0 1.8 0a0.9 0.9 0 1 0 -1.8 0M309.33 412.89a0.9 0.9 0 1 0 1.8 0a0.9 0.9 0 1 0 -1.8 0M312.25 412.91a0.9 0.9 0 1 0 1.8 0a0.9 0.9 0 1 0 -1.8 0M314.76 413a0.9 0.9 0 1 0 1.8 0a0.9 0.9 0 1 0 -1.8 0M317.51 413.31a0.9 0.9 0 1 0 1.8 0a0.9 0.9 0 1 0 -1.8 0M320.46 413.29a0.9 0.9 0 1 0 1.8 0a0.9 0.9 0 1 0 -1.8 0M323.2 413.07a0.9 0.9 0 1 0 1.8 0a0.9 0.9 0 1 0 -1.8 0M325.82 412.99a0.9 0.9 0 1 0 1.8 0a0.9 0.9 0 1 0 -1.8 0M310.69 410.61a0.9 0.9 0 1 0 1.8 0a0.9 0.9 0 1 0 -1.8 0M313.57 410.46a0.9 0.9 0 1 0 1.8 0a0.9 0.9 0 1 0 -1.8 0M316.39 410.22a0.9 0.9 0 1 0 1.8 0a0.9 0.9 0 1 0 -1.8 0M319.03 410.38a0.9 0.9 0 1 0 1.8 0a0.9 0.9 0 1 0 -1.8 0M321.76 410.38a0.9 0.9 0 1 0 1.8 0a0.9 0.9 0 1 0 -1.8 0M324.23 410.63a0.9 0.9 0 1 0 1.8 0a0.9 0.9 0 1 0 -1.8 0M312.05 407.6a0.9 0.9 0 1 0 1.8 0a0.9 0.9 0 1 0 -1.8 0M314.72 407.5a0.9 0.9 0 1 0 1.8 0a0.9 0.9 0 1 0 -1.8 0M317.58 407.85a0.9 0.9 0 1 0 1.8 0a0.9 0.9 0 1 0 -1.8 0M320.28 407.62a0.9 0.9 0 1 0 1.8 0a0.9 0.9 0 1 0 -1.8 0M322.99 407.76a0.9 0.9 0 1 0 1.8 0a0.9 0.9 0 1 0 -1.8 0M312.14 405.12a0.9 0.9 0 1 0 1.8 0a0.9 0.9 0 1 0 -1.8 0M314.96 404.95a0.9 0.9 0 1 0 1.8 0a0.9 0.9 0 1 0 -1.8 0M317.61 404.83a0.9 0.9 0 1 0 1.8 0a0.9 0.9 0 1 0 -1.8 0M320.47 404.99a0.9 0.9 0 1 0 1.8 0a0.9 0.9 0 1 0 -1.8 0M323 405.14a0.9 0.9 0 1 0 1.8 0a0.9 0.9 0 1 0 -1.8 0M313.49 402.46a0.9 0.9 0 1 0 1.8 0a0.9 0.9 0 1 0 -1.8 0M316.09 402.19a0.9 0.9 0 1 0 1.8 0a0.9 0.9 0 1 0 -1.8 0M319 402.29a0.9 0.9 0 1 0 1.8 0a0.9 0.9 0 1 0 -1.8 0M321.6 402.34a0.9 0.9 0 1 0 1.8 0a0.9 0.9 0 1 0 -1.8 0M316.18 399.75a0.9 0.9 0 1 0 1.8 0a0.9 0.9 0 1 0 -1.8 0M319.1 399.5a0.9 0.9 0 1 0 1.8 0a0.9 0.9 0 1 0 -1.8 0M317.72 396.72a0.9 0.9 0 1 0 1.8 0a0.9 0.9 0 1 0 -1.8 0M317.62 394.23a0.9 0.9 0 1 0 1.8 0a0.9 0.9 0 1 0 -1.8 0M338.6 403.34a0.9 0.9 0 1 0 1.8 0a0.9 0.9 0 1 0 -1.8 0"/>
<path fill="#b5151b" d="M290.35 337.71a0.9 0.9 0 1 0 1.8 0a0.9 0.9 0 1 0 -1.8 0M293.11 337.39a0.9 0.9 0 1 0 1.8 0a0.9 0.9 0 1 0 -1.8 0M301.33 337.53a0.9 0.9 0 1 0 1.8 0a0.9 0.9 0 1 0 -1.8 0M303.84 337.72a0.9 0.9 0 1 0 1.8 0a0.9 0.9 0 1 0 -1.8 0M306.51 337.37a0.9 0.9 0 1 0 1.8 0a0.9 0.9 0 1 0 -1.8 0M289.22 334.63a0.9 0.9 0 1 0 1.8 0a0.9 0.9 0 1 0 -1.8 0M291.62 334.91a0.9 0.9 0 1 0 1.8 0a0.9 0.9 0 1 0 -1.8 0M299.97 334.97a0.9 0.9 0 1 0 1.8 0a0.9 0.9 0 1 0 -1.8 0M305.18 334.98a0.9 0.9 0 1 0 1.8 0a0.9 0.9 0 1 0 -1.8 0M293.07 332.1a0.9 0.9 0 1 0 1.8 0a0.9 0.9 0 1 0 -1.8 0M305.29 329.56a0.9 0.9 0 1 0 1.8 0a0.9 0.9 0 1 0 -1.8 0M291.59 326.79a0.9 0.9 0 1 0 1.8 0a0.9 0.9 0 1 0 -1.8 0M291.57 324.16a0.9 0.9 0 1 0 1.8 0a0.9 0.9 0 1 0 -1.8 0M303.9 321.34a0.9 0.9 0 1 0 1.8 0a0.9 0.9 0 1 0 -1.8 0M298.47 318.83a0.9 0.9 0 1 0 1.8 0a0.9 0.9 0 1 0 -1.8 0M298.44 269.96a0.9 0.9 0 1 0 1.8 0a0.9 0.9 0 1 0 -1.8 0M298.63 272.77a0.9 0.9 0 1 0 1.8 0a0.9 0.9 0 1 0 -1.8 0M297.17 278.16a0.9 0.9 0 1 0 1.8 0a0.9 0.9 0 1 0 -1.8 0M299.88 278.01a0.9 0.9 0 1 0 1.8 0a0.9 0.9 0 1 0 -1.8 0M297.07 283.27a0.9 0.9 0 1 0 1.8 0a0.9 0.9 0 1 0 -1.8 0M299.72 283.43a0.9 0.9 0 1 0 1.8 0a0.9 0.9 0 1 0 -1.8 0M298.66 286.35a0.9 0.9 0 1 0 1.8 0a0.9 0.9 0 1 0 -1.8 0M298.48 310.3a0.9 0.9 0 1 0 1.8 0a0.9 0.9 0 1 0 -1.8 0M295.75 340.39a0.9 0.9 0 1 0 1.8 0a0.9 0.9 0 1 0 -1.8 0M298.49 339.99a0.9 0.9 0 1 0 1.8 0a0.9 0.9 0 1 0 -1.8 0M301.14 340.11a0.9 0.9 0 1 0 1.8 0a0.9 0.9 0 1 0 -1.8 0M313.3 329.25a0.9 0.9 0 1 0 1.8 0a0.9 0.9 0 1 0 -1.8 0M315.9 329.16a0.9 0.9 0 1 0 1.8 0a0.9 0.9 0 1 0 -1.8 0M321.28 326.74a0.9 0.9 0 1 0 1.8 0a0.9 0.9 0 1 0 -1.8 0M309.31 334.86a0.9 0.9 0 1 0 1.8 0a0.9 0.9 0 1 0 -1.8 0M312.01 334.92a0.9 0.9 0 1 0 1.8 0a0.9 0.9 0 1 0 -1.8 0M314.51 334.58a0.9 0.9 0 1 0 1.8 0a0.9 0.9 0 1 0 -1.8 0M319.88 334.91a0.9 0.9 0 1 0 1.8 0a0.9 0.9 0 1 0 -1.8 0M322.76 334.59a0.9 0.9 0 1 0 1.8 0a0.9 0.9 0 1 0 -1.8 0M325.28 334.83a0.9 0.9 0 1 0 1.8 0a0.9 0.9 0 1 0 -1.8 0M328.24 334.87a0.9 0.9 0 1 0 1.8 0a0.9 0.9 0 1 0 -1.8 0M308.66 337.6a0.9 0.9 0 1 0 1.8 0a0.9 0.9 0 1 0 -1.8 0M311.07 337.74a0.9 0.9 0 1 0 1.8 0a0.9 0.9 0 1 0 -1.8 0M313.85 337.68a0.9 0.9 0 1 0 1.8 0a0.9 0.9 0 1 0 -1.8 0M321.31 337.3a0.9 0.9 0 1 0 1.8 0a0.9 0.9 0 1 0 -1.8 0M323.58 337.43a0.9 0.9 0 1 0 1.8 0a0.9 0.9 0 1 0 -1.8 0M326.13 337.56a0.9 0.9 0 1 0 1.8 0a0.9 0.9 0 1 0 -1.8 0M328.84 337.29a0.9 0.9 0 1 0 1.8 0a0.9 0.9 0 1 0 -1.8 0M313.36 340.04a0.9 0.9 0 1 0 1.8 0a0.9 0.9 0 1 0 -1.8 0M315.86 340a0.9 0.9 0 1 0 1.8 0a0.9 0.9 0 1 0 -1.8 0M318.89 340.14a0.9 0.9 0 1 0 1.8 0a0.9 0.9 0 1 0 -1.8 0M321.46 340.23a0.9 0.9 0 1 0 1.8 0a0.9 0.9 0 1 0 -1.8 0M323.99 339.98a0.9 0.9 0 1 0 1.8 0a0.9 0.9 0 1 0 -1.8 0M311.97 331.94a0.9 0.9 0 1 0 1.8 0a0.9 0.9 0 1 0 -1.8 0M314.6 332.22a0.9 0.9 0 1 0 1.8 0a0.9 0.9 0 1 0 -1.8 0M317.3 331.93a0.9 0.9 0 1 0 1.8 0a0.9 0.9 0 1 0 -1.8 0M320.12 332.29a0.9 0.9 0 1 0 1.8 0a0.9 0.9 0 1 0 -1.8 0M322.91 331.93a0.9 0.9 0 1 0 1.8 0a0.9 0.9 0 1 0 -1.8 0M325.55 332.32a0.9 0.9 0 1 0 1.8 0a0.9 0.9 0 1 0 -1.8 0M318.71 296.47a0.9 0.9 0 1 0 1.8 0a0.9 0.9 0 1 0 -1.8 0M316.14 293.67a0.9 0.9 0 1 0 1.8 0a0.9 0.9 0 1 0 -1.8 0M319.06 293.68a0.9 0.9 0 1 0 1.8 0a0.9 0.9 0 1 0 -1.8 0M321.6 293.6a0.9 0.9 0 1 0 1.8 0a0.9 0.9 0 1 0 -1.8 0M315.89 290.96a0.9 0.9 0 1 0 1.8 0a0.9 0.9 0 1 0 -1.8 0M318.88 291.01a0.9 0.9 0 1 0 1.8 0a0.9 0.9 0 1 0 -1.8 0M321.78 291.31a0.9 0.9 0 1 0 1.8 0a0.9 0.9 0 1 0 -1.8 0M315.85 288.59a0.9 0.9 0 1 0 1.8 0a0.9 0.9 0 1 0 -1.8 0M318.77 288.47a0.9 0.9 0 1 0 1.8 0a0.9 0.9 0 1 0 -1.8 0M321.78 288.41a0.9 0.9 0 1 0 1.8 0a0.9 0.9 0 1 0 -1.8 0M315.94 285.98a0.9 0.9 0 1 0 1.8 0a0.9 0.9 0 1 0 -1.8 0M319.07 286.03a0.9 0.9 0 1 0 1.8 0a0.9 0.9 0 1 0 -1.8 0M321.63 285.86a0.9 0.9 0 1 0 1.8 0a0.9 0.9 0 1 0 -1.8 0M316.03 283.59a0.9 0.9 0 1 0 1.8 0a0.9 0.9 0 1 0 -1.8 0M319.08 283.58a0.9 0.9 0 1 0 1.8 0a0.9 0.9 0 1 0 -1.8 0M321.64 283.62a0.9 0.9 0 1 0 1.8 0a0.9 0.9 0 1 0 -1.8 0M315.9 280.64a0.9 0.9 0 1 0 1.8 0a0.9 0.9 0 1 0 -1.8 0M319.05 280.66a0.9 0.9 0 1 0 1.8 0a0.9 0.9 0 1 0 -1.8 0M321.63 280.68a0.9 0.9 0 1 0 1.8 0a0.9 0.9 0 1 0 -1.8 0M315.83 278.18a0.9 0.9 0 1 0 1.8 0a0.9 0.9 0 1 0 -1.8 0M318.83 278.05a0.9 0.9 0 1 0 1.8 0a0.9 0.9 0 1 0 -1.8 0M321.87 278.13a0.9 0.9 0 1 0 1.8 0a0.9 0.9 0 1 0 -1.8 0M315.99 275.44a0.9 0.9 0 1 0 1.8 0a0.9 0.9 0 1 0 -1.8 0M318.7 275.68a0.9 0.9 0 1 0 1.8 0a0.9 0.9 0 1 0 -1.8 0M321.81 275.36a0.9 0.9 0 1 0 1.8 0a0.9 0.9 0 1 0 -1.8 0M316.01 272.87a0.9 0.9 0 1 0 1.8 0a0.9 0.9 0 1 0 -1.8 0M318.9 273.05a0.9 0.9 0 1 0 1.8 0a0.9 0.9 0 1 0 -1.8 0M321.86 272.82a0.9 0.9 0 1 0 1.8 0a0.9 0.9 0 1 0 -1.8 0M317.55 270.58a0.9 0.9 0 1 0 1.8 0a0.9 0.9 0 1 0 -1.8 0M320.3 270.6a0.9 0.9 0 1 0 1.8 0a0.9 0.9 0 1 0 -1.8 0M315.81 267.78a0.9 0.9 0 1 0 1.8 0a0.9 0.9 0 1 0 -1.8 0M318.99 267.77a0.9 0.9 0 1 0 1.8 0a0.9 0.9 0 1 0 -1.8 0M321.94 267.69a0.9 0.9 0 1 0 1.8 0a0.9 0.9 0 1 0 -1.8 0M319.09 265.37a0.9 0.9 0 1 0 1.8 0a0.9 0.9 0 1 0 -1.8 0M318.82 298.91a0.9 0.9 0 1 0 1.8 0a0.9 0.9 0 1 0 -1.8 0M290.15 442.89a0.9 0.9 0 1 0 1.8 0a0.9 0.9 0 1 0 -1.8 0M295.89 442.57a0.9 0.9 0 1 0 1.8 0a0.9 0.9 0 1 0 -1.8 0M300.95 442.71a0.9 0.9 0 1 0 1.8 0a0.9 0.9 0 1 0 -1.8 0M306.59 442.72a0.9 0.9 0 1 0 1.8 0a0.9 0.9 0 1 0 -1.8 0M298.42 440.07a0.9 0.9 0 1 0 1.8 0a0.9 0.9 0 1 0 -1.8 0M291.25 426.65a0.9 0.9 0 1 0 1.8 0a0.9 0.9 0 1 0 -1.8 0M295.95 426.75a0.9 0.9 0 1 0 1.8 0a0.9 0.9 0 1 0 -1.8 0M303.02 426.4a0.9 0.9 0 1 0 1.8 0a0.9 0.9 0 1 0 -1.8 0M307.72 426.42a0.9 0.9 0 1 0 1.8 0a0.9 0.9 0 1 0 -1.8 0M288.88 424.14a0.9 0.9 0 1 0 1.8 0a0.9 0.9 0 1 0 -1.8 0M299.89 424.1a0.9 0.9 0 1 0 1.8 0a0.9 0.9 0 1 0 -1.8 0M305.26 423.84a0.9 0.9 0 1 0 1.8 0a0.9 0.9 0 1 0 -1.8 0M307.7 424.1a0.9 0.9 0 1 0 1.8 0a0.9 0.9 0 1 0 -1.8 0M298.51 378.19a0.9 0.9 0 1 0 1.8 0a0.9 0.9 0 1 0 -1.8 0M298.25 380.74a0.9 0.9 0 1 0 1.8 0a0.9 0.9 0 1 0 -1.8 0M298.41 388.98a0.9 0.9 0 1 0 1.8 0a0.9 0.9 0 1 0 -1.8 0M298.24 391.48a0.9 0.9 0 1 0 1.8 0a0.9 0.9 0 1 0 -1.8 0M298.29 394.17a0.9 0.9 0 1 0 1.8 0a0.9 0.9 0 1 0 -1.8 0M295.51 448.06a0.9 0.9 0 1 0 1.8 0a0.9 0.9 0 1 0 -1.8 0M298.33 448.15a0.9 0.9 0 1 0 1.8 0a0.9 0.9 0 1 0 -1.8 0M301.16 448.16a0.9 0.9 0 1 0 1.8 0a0.9 0.9 0 1 0 -1.8 0M294.3 445.27a0.9 0.9 0 1 0 1.8 0a0.9 0.9 0 1 0 -1.8 0M297.17 445.66a0.9 0.9 0 1 0 1.8 0a0.9 0.9 0 1 0 -1.8 0M299.66 445.64a0.9 0.9 0 1 0 1.8 0a0.9 0.9 0 1 0 -1.8 0M302.44 445.74a0.9 0.9 0 1 0 1.8 0a0.9 0.9 0 1 0 -1.8 0M316.33 445.33a0.9 0.9 0 1 0 1.8 0a0.9 0.9 0 1 0 -1.8 0M319.02 445.3a0.9 0.9 0 1 0 1.8 0a0.9 0.9 0 1 0 -1.8 0M313.68 442.91a0.9 0.9 0 1 0 1.8 0a0.9 0.9 0 1 0 -1.8 0M316.22 442.97a0.9 0.9 0 1 0 1.8 0a0.9 0.9 0 1 0 -1.8 0M318.81 442.64a0.9 0.9 0 1 0 1.8 0a0.9 0.9 0 1 0 -1.8 0M321.81 442.71a0.9 0.9 0 1 0 1.8 0a0.9 0.9 0 1 0 -1.8 0M313.41 439.94a0.9 0.9 0 1 0 1.8 0a0.9 0.9 0 1 0 -1.8 0M316.28 439.94a0.9 0.9 0 1 0 1.8 0a0.9 0.9 0 1 0 -1.8 0M318.94 440.12a0.9 0.9 0 1 0 1.8 0a0.9 0.9 0 1 0 -1.8 0M321.63 440.1a0.9 0.9 0 1 0 1.8 0a0.9 0.9 0 1 0 -1.8 0M317.73 437.16a0.9 0.9 0 1 0 1.8 0a0.9 0.9 0 1 0 -1.8 0M317.77 448.05a0.9 0.9 0 1 0 1.8 0a0.9 0.9 0 1 0 -1.8 0M317.06 385.07a0.9 0.9 0 1 0 1.8 0a0.9 0.9 0 1 0 -1.8 0M319.74 384.97a0.9 0.9 0 1 0 1.8 0a0.9 0.9 0 1 0 -1.8 0M314.08 382.34a0.9 0.9 0 1 0 1.8 0a0.9 0.9 0 1 0 -1.8 0M316.84 382.3a0.9 0.9 0 1 0 1.8 0a0.9 0.9 0 1 0 -1.8 0M320.02 382.74a0.9 0.9 0 1 0 1.8 0a0.9 0.9 0 1 0 -1.8 0M322.76 382.4a0.9 0.9 0 1 0 1.8 0a0.9 0.9 0 1 0 -1.8 0M312.28 379.85a0.9 0.9 0 1 0 1.8 0a0.9 0.9 0 1 0 -1.8 0M315.3 380.17a0.9 0.9 0 1 0 1.8 0a0.9 0.9 0 1 0 -1.8 0M318.31 379.84a0.9 0.9 0 1 0 1.8 0a0.9 0.9 0 1 0 -1.8 0M321.2 380.21a0.9 0.9 0 1 0 1.8 0a0.9 0.9 0 1 0 -1.8 0M324.29 379.87a0.9 0.9 0 1 0 1.8 0a0.9 0.9 0 1 0 -1.8 0M314.05 377.31a0.9 0.9 0 1 0 1.8 0a0.9 0.9 0 1 0 -1.8 0M317 377.48a0.9 0.9 0 1 0 1.8 0a0.9 0.9 0 1 0 -1.8 0M319.9 377.26a0.9 0.9 0 1 0 1.8 0a0.9 0.9 0 1 0 -1.8 0M322.79 377.43a0.9 0.9 0 1 0 1.8 0a0.9 0.9 0 1 0 -1.8 0M315.36 375.22a0.9 0.9 0 1 0 1.8 0a0.9 0.9 0 1 0 -1.8 0M318.36 374.91a0.9 0.9 0 1 0 1.8 0a0.9 0.9 0 1 0 -1.8 0M321.23 375.22a0.9 0.9 0 1 0 1.8 0a0.9 0.9 0 1 0 -1.8 0"/>
</svg>
</body></html>
